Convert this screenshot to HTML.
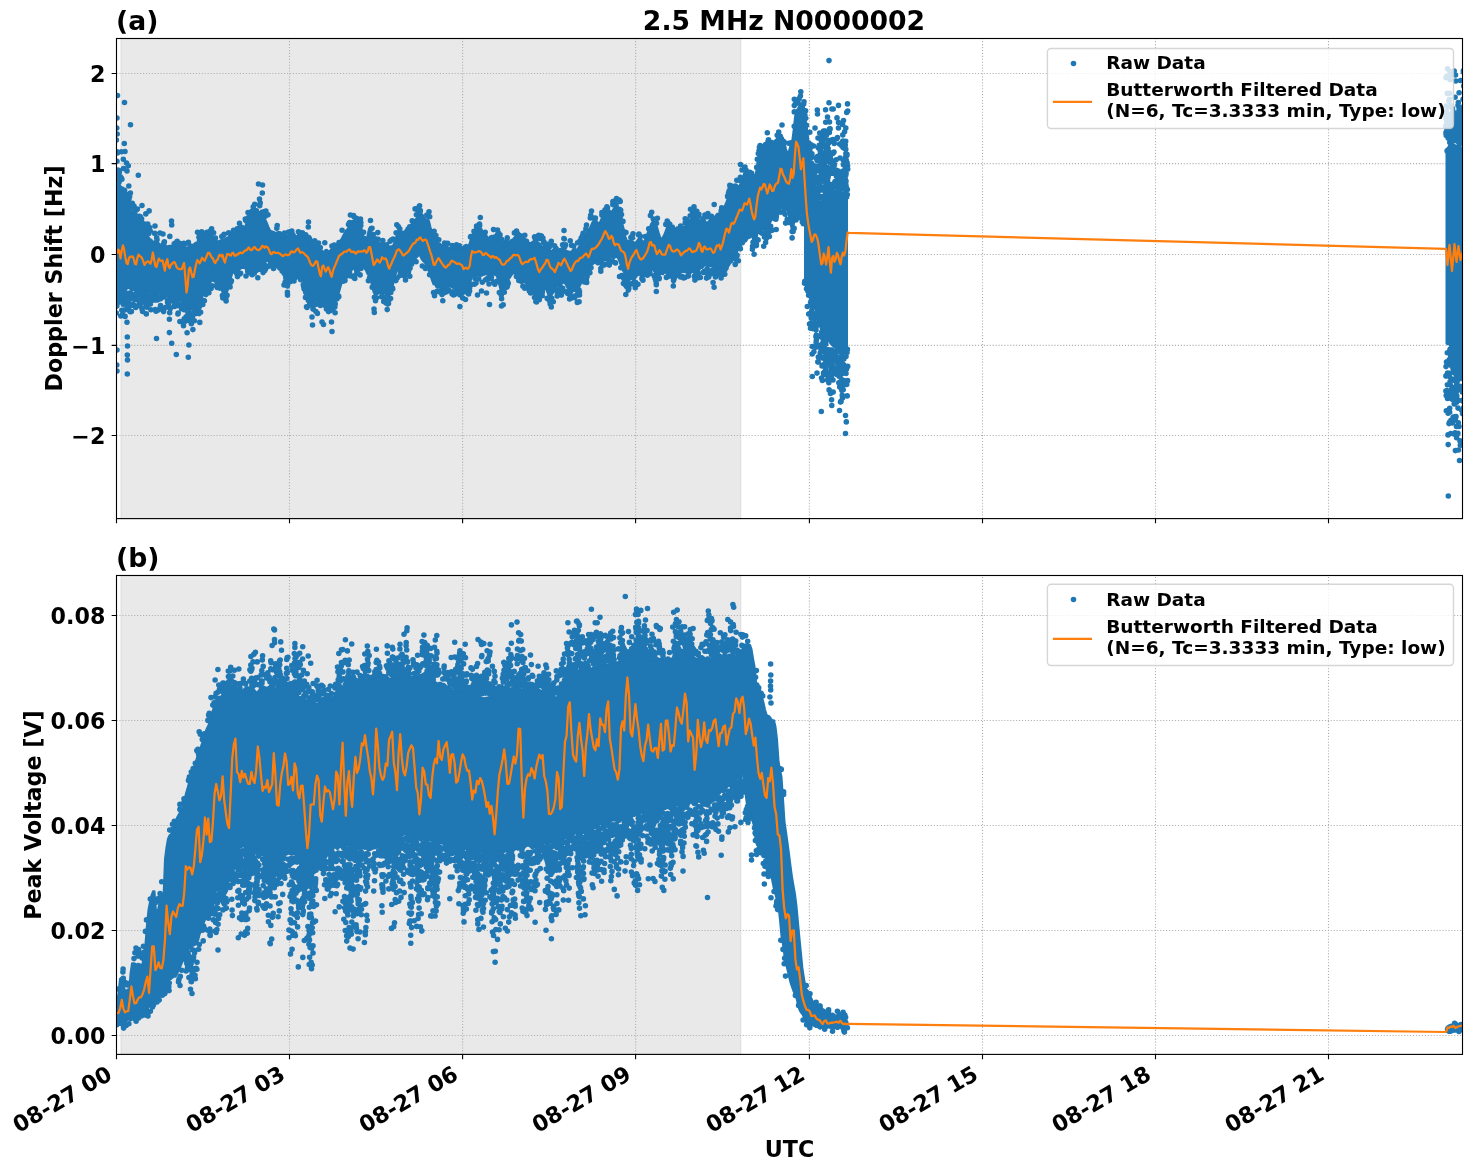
<!DOCTYPE html><html><head><meta charset="utf-8"><title>2.5 MHz N0000002</title><style>html,body{margin:0;padding:0;background:#fff}svg{display:block;will-change:transform}text{font-family:'DejaVu Sans','Liberation Sans',sans-serif;font-weight:bold;fill:#000}</style></head><body><svg width="1471" height="1172" viewBox="0 0 1471 1172"><rect width="1471" height="1172" fill="#fff"/><defs><clipPath id="c1"><rect x="116.5" y="38.5" width="1346" height="480.1"/></clipPath><clipPath id="c2"><rect x="116.5" y="575.5" width="1346" height="478.9"/></clipPath></defs><rect x="121" y="38.5" width="619.7" height="480.1" fill="#d3d3d3" fill-opacity=".5" stroke="#d3d3d3" stroke-opacity=".5" stroke-width="1.39"/><path d="M289.5 518.5V38.5M462.6 518.5V38.5M635.6 518.5V38.5M809.4 518.5V38.5M982.5 518.5V38.5M1155.5 518.5V38.5M1328.5 518.5V38.5M116.5 73.5H1462.5M116.5 163.6H1462.5M116.5 254.5H1462.5M116.5 345.4H1462.5M116.5 435.5H1462.5" fill="none" stroke="#b0b0b0" stroke-width="1.11" stroke-dasharray="1.11 1.83"/><g clip-path="url(#c1)"><polygon points="117,190.5 118.5,193.4 120,195.6 121.5,195.3 123,198.9 124.5,205.5 126,211.6 127.5,215.7 129,217.7 130.5,219.8 132,220.4 133.5,221.5 135,223.2 136.5,223.9 138,225.2 139.5,227.3 141,229.3 142.5,230.6 144,232 145.5,234.6 147,236.2 148.5,237.2 150,239 151.5,239.9 153,241.8 154.5,241.4 156,241 157.5,242 159,243.4 160.5,245.4 162,243.4 163.5,242.1 165,244.6 166.5,245.9 168,246.2 169.5,245.7 171,245.7 172.5,246.4 174,246.3 175.5,246.8 177,245.5 178.5,245.5 180,246.6 181.5,247.2 183,248 184.5,246.9 186,247.5 187.5,247.6 189,246.8 190.5,246.3 192,246.9 193.5,248.4 195,248.7 196.5,246.9 198,245.4 199.5,243.9 201,241.4 202.5,240.2 204,239.6 205.5,237.5 207,235.1 208.5,233.9 210,232.9 211.5,234.2 213,236.6 214.5,238.8 216,240.2 217.5,241.7 219,240.8 220.5,240.7 222,239.2 223.5,239.4 225,239 226.5,237.9 228,237.4 229.5,234.8 231,232.9 232.5,232.7 234,232.5 235.5,231.8 237,231.2 238.5,229.5 240,229.2 241.5,228.5 243,228.6 244.5,227.5 246,224.4 247.5,222.4 249,220.8 250.5,217.6 252,214.8 253.5,214.1 255,212.8 256.5,211.8 258,213.4 259.5,212.3 261,210.6 262.5,213.3 264,216.3 265.5,220.3 267,223.3 268.5,227.2 270,230.2 271.5,231.3 273,231.6 274.5,232.1 276,233.8 277.5,235.7 279,237.3 280.5,237.1 282,237.4 283.5,235.7 285,234 286.5,235.7 288,235.3 289.5,233.8 291,233.7 292.5,233.2 294,233.3 295.5,235.9 297,236.5 298.5,233.8 300,230.8 301.5,232.7 303,235.5 304.5,236.6 306,236.8 307.5,239.4 309,242.2 310.5,243.4 312,244.1 313.5,244.7 315,245.6 316.5,245.7 318,247.3 319.5,248.9 321,249.3 322.5,251.3 324,251.9 325.5,249.9 327,249.8 328.5,251.5 330,250.5 331.5,249.1 333,248.9 334.5,247.5 336,247.7 337.5,246.2 339,242.4 340.5,240.6 342,238 343.5,235 345,232.3 346.5,229.9 348,228.4 349.5,224.9 351,221.9 352.5,220.8 354,220.1 355.5,221.5 357,221.6 358.5,221.8 360,223.8 361.5,228.2 363,234.1 364.5,242.2 366,243.4 367.5,235.5 369,228.6 370.5,226.7 372,233.3 373.5,238 375,242.2 376.5,242 378,242.3 379.5,242.7 381,243.7 382.5,244.1 384,244 385.5,244.6 387,246 388.5,247.3 390,246.2 391.5,246.4 393,245.6 394.5,242.5 396,237.6 397.5,232.4 399,230.9 400.5,232.1 402,234.2 403.5,235.2 405,237.2 406.5,236.6 408,231.9 409.5,228.3 411,225.1 412.5,222.4 414,220.3 415.5,219.5 417,218.1 418.5,214.2 420,212.8 421.5,213.8 423,215.3 424.5,218.4 426,219.9 427.5,219.2 429,221.1 430.5,227.3 432,231.9 433.5,234.4 435,236.9 436.5,240.7 438,242.9 439.5,243.4 441,244.6 442.5,245.7 444,245.8 445.5,245.3 447,246.6 448.5,247.4 450,247.8 451.5,248.5 453,250.2 454.5,249.5 456,247.7 457.5,248.2 459,248.5 460.5,249.1 462,248.1 463.5,246.4 465,245.2 466.5,244.8 468,246 469.5,243.8 471,238.6 472.5,234.1 474,233 475.5,232.2 477,230.3 478.5,228.4 480,227.8 481.5,228.9 483,233 484.5,234 486,234.3 487.5,237.7 489,237.4 490.5,236.1 492,235.7 493.5,235.7 495,235.1 496.5,233.1 498,235 499.5,240.6 501,245.1 502.5,246.8 504,246.2 505.5,245.1 507,242.8 508.5,241.3 510,241 511.5,239.8 513,239.1 514.5,237.4 516,235.4 517.5,237 519,238 520.5,239.3 522,241.7 523.5,243.1 525,242.5 526.5,241.5 528,242.2 529.5,242.9 531,243.1 532.5,241.9 534,240.6 535.5,240.3 537,241.6 538.5,242.9 540,243.9 541.5,246.1 543,246.5 544.5,245 546,245.6 547.5,247.2 549,248.6 550.5,251 552,250.7 553.5,249.1 555,249.7 556.5,251.9 558,250.8 559.5,249 561,248.6 562.5,248.8 564,249.2 565.5,250.2 567,251 568.5,251.4 570,251.8 571.5,251.7 573,249.4 574.5,248.5 576,249.5 577.5,249.1 579,246.9 580.5,243.8 582,239.5 583.5,237.7 585,236.1 586.5,232.8 588,230.5 589.5,228.6 591,225.7 592.5,222.2 594,221.4 595.5,222.8 597,222.5 598.5,222.9 600,222.4 601.5,218.6 603,213.8 604.5,212.3 606,210.9 607.5,209 609,210 610.5,211.7 612,211.3 613.5,209 615,206.7 616.5,203 618,208.3 619.5,214.7 621,219.2 622.5,224.2 624,229.9 625.5,237 627,241.2 628.5,240.6 630,241.4 631.5,240.7 633,241.6 634.5,242.7 636,242.4 637.5,240.2 639,238 640.5,238.5 642,240.4 643.5,242.3 645,240.2 646.5,236.1 648,231.8 649.5,228.6 651,224 652.5,221.9 654,222 655.5,223.2 657,227.1 658.5,232.3 660,236.9 661.5,239.7 663,237 664.5,234.3 666,230 667.5,226.5 669,226.5 670.5,226.5 672,225.9 673.5,225.5 675,228.6 676.5,229.2 678,230.1 679.5,232.5 681,231.8 682.5,230.6 684,228.1 685.5,225.6 687,222.2 688.5,220.8 690,220.3 691.5,218.8 693,218.2 694.5,214.7 696,214.2 697.5,217 699,219.5 700.5,220.4 702,220.3 703.5,219.9 705,220.8 706.5,223 708,222 709.5,220.4 711,218 712.5,216.8 714,218 715.5,215.9 717,213.8 718.5,213.8 720,212.4 721.5,213 723,212.3 724.5,206.7 726,203.2 727.5,199.4 729,196.2 730.5,193.4 732,191.6 733.5,191.3 735,192.8 736.5,192.1 738,188.6 739.5,185.7 741,183.1 742.5,178.4 744,173.6 745.5,170.7 747,173.3 748.5,176.3 750,179.1 751.5,178.9 753,177.9 754.5,180.6 756,172.8 757.5,161.7 759,156.9 760.5,153.6 762,149.7 763.5,147.2 765,146.5 766.5,145.9 768,142.9 769.5,143.1 771,145.6 772.5,147.8 774,148 775.5,148.3 777,146.3 778.5,141.7 780,138.2 781.5,136.8 783,137.6 784.5,142.3 786,149 787.5,153.4 789,151.1 790.5,145.3 792,142.3 793.5,131.5 795,116.9 796.5,110.4 798,108.5 799.5,105.8 801,103.7 802.5,105 804,106.3 804,221.1 802.5,215.5 801,209.7 799.5,208 798,209.1 796.5,210.3 795,217.3 793.5,226 792,230.6 790.5,223.8 789,216.2 787.5,210.2 786,206.3 784.5,202.9 783,201.2 781.5,202.6 780,205.9 778.5,207.7 777,210 775.5,213.2 774,215.7 772.5,218.8 771,220.8 769.5,224.6 768,228.4 766.5,228.4 765,229.7 763.5,229.7 762,229.7 760.5,231.4 759,232.7 757.5,233.6 756,241.5 754.5,247.1 753,239.5 751.5,234.4 750,230.1 748.5,230.5 747,233.5 745.5,234.8 744,234.9 742.5,238 741,240.1 739.5,243.9 738,249 736.5,254.2 735,257.3 733.5,256 732,254.7 730.5,256.2 729,256.8 727.5,257.5 726,262.5 724.5,265.2 723,267.3 721.5,269.6 720,269.4 718.5,269.7 717,271.6 715.5,270.1 714,268.1 712.5,266.7 711,266.2 709.5,265.9 708,266.9 706.5,265.9 705,264.5 703.5,266.8 702,267.9 700.5,267.9 699,270.4 697.5,272.1 696,273 694.5,273.6 693,271.9 691.5,272.1 690,274 688.5,273.6 687,273 685.5,272.4 684,271.9 682.5,271.7 681,272.1 679.5,274.6 678,276.2 676.5,277.4 675,281.1 673.5,283.3 672,279.2 670.5,277 669,276.9 667.5,274.8 666,272.8 664.5,272.3 663,274.4 661.5,273.9 660,273.8 658.5,274.7 657,274.4 655.5,273.5 654,271.1 652.5,269.4 651,268.9 649.5,270.9 648,273.1 646.5,273.1 645,273.7 643.5,277.5 642,278.3 640.5,275.8 639,274.2 637.5,275.5 636,276.9 634.5,280 633,280.4 631.5,278.5 630,279.8 628.5,280.6 627,280.8 625.5,276.4 624,272.6 622.5,269.6 621,265.8 619.5,261.6 618,258.2 616.5,256.6 615,257.5 613.5,258.6 612,257.1 610.5,257.8 609,260 607.5,260.7 606,260 604.5,260.2 603,260.9 601.5,259.8 600,260.1 598.5,261.1 597,262.5 595.5,262.7 594,263 592.5,264.5 591,265 589.5,267.3 588,269.9 586.5,272.3 585,274.8 583.5,276.4 582,279.5 580.5,284.6 579,287.2 577.5,289.9 576,291.2 574.5,290.8 573,291.3 571.5,292.8 570,292.3 568.5,290 567,287 565.5,284.1 564,282.1 562.5,283.3 561,284.5 559.5,284.6 558,286.2 556.5,286.5 555,288.6 553.5,292.2 552,294.3 550.5,298.9 549,297.4 547.5,292.7 546,288.9 544.5,289 543,289.7 541.5,289.8 540,291.2 538.5,289.8 537,289.5 535.5,290.2 534,288.3 532.5,287.1 531,286.6 529.5,286.2 528,285.9 526.5,284.3 525,282.4 523.5,282.2 522,280.9 520.5,278.5 519,276.4 517.5,274.4 516,274.2 514.5,273.5 513,273.2 511.5,275.2 510,277.5 508.5,279.3 507,282.4 505.5,286.3 504,289.6 502.5,292.2 501,291.9 499.5,285.8 498,278.7 496.5,275.7 495,274.8 493.5,274.5 492,274.6 490.5,276.5 489,276.4 487.5,274.3 486,274 484.5,274.7 483,275.1 481.5,275.8 480,276 478.5,274.7 477,275.5 475.5,276.3 474,275 472.5,275.6 471,279.8 469.5,284.2 468,288.8 466.5,289.4 465,288.5 463.5,289.5 462,290.9 460.5,290.8 459,291.7 457.5,291.1 456,289.6 454.5,288.7 453,287.9 451.5,287.3 450,285.7 448.5,286.8 447,288.8 445.5,288.1 444,287.9 442.5,289.1 441,289.3 439.5,287.3 438,287.7 436.5,287.2 435,284.5 433.5,284.3 432,280.4 430.5,275.6 429,272 427.5,267.9 426,264.5 424.5,262.2 423,261 421.5,258.9 420,255.6 418.5,255.6 417,257.1 415.5,256.5 414,256.7 412.5,259.1 411,262.1 409.5,265.6 408,270.9 406.5,274 405,274.6 403.5,273.9 402,272.3 400.5,269.6 399,268.4 397.5,269.3 396,273 394.5,279.4 393,284.8 391.5,288.8 390,293.9 388.5,298.5 387,296.3 385.5,293.6 384,292.6 382.5,294.2 381,294.1 379.5,293 378,293.8 376.5,294.2 375,295.2 373.5,291.9 372,285.8 370.5,278.8 369,275.6 367.5,274.1 366,270.6 364.5,268.3 363,266.7 361.5,264.1 360,266.3 358.5,267.9 357,267.1 355.5,268.6 354,268.7 352.5,269.1 351,271.6 349.5,270.9 348,271.1 346.5,271.4 345,272 343.5,277 342,281.5 340.5,286.9 339,292.2 337.5,297.2 336,299.7 334.5,300.1 333,303.3 331.5,305.4 330,304.2 328.5,304.5 327,302.4 325.5,303.3 324,304.6 322.5,300.8 321,300.1 319.5,301.7 318,301.3 316.5,300.6 315,301.1 313.5,302.1 312,301.9 310.5,297.9 309,294.7 307.5,292.6 306,288.4 304.5,284.1 303,280 301.5,276 300,273 298.5,273.5 297,274.8 295.5,276.4 294,276.5 292.5,277.8 291,278.9 289.5,277.5 288,277 286.5,276.3 285,272.2 283.5,270.6 282,269.3 280.5,267.5 279,265.3 277.5,264.8 276,263.3 274.5,261.6 273,261.9 271.5,262.2 270,261.8 268.5,260.8 267,261.3 265.5,261.8 264,262.8 262.5,264.2 261,265.7 259.5,267 258,269.6 256.5,270.4 255,269.1 253.5,269.3 252,269.4 250.5,269.2 249,269.9 247.5,270.4 246,269.2 244.5,267.9 243,267.7 241.5,268.1 240,269 238.5,270.8 237,270.9 235.5,272.2 234,272.7 232.5,272.2 231,277.8 229.5,283.2 228,289.2 226.5,294.2 225,296.8 223.5,294.2 222,291 220.5,287.7 219,283.7 217.5,281.6 216,282.1 214.5,281.7 213,280.5 211.5,281 210,283.1 208.5,283 207,284 205.5,290.4 204,293.1 202.5,296.3 201,300.3 199.5,302.8 198,306.9 196.5,309.1 195,309.2 193.5,308.9 192,308.7 190.5,309.7 189,310.8 187.5,309.7 186,308 184.5,305.2 183,302.9 181.5,300.9 180,300 178.5,300 177,300 175.5,300 174,299.1 172.5,298.9 171,298 169.5,297.5 168,296.9 166.5,296.4 165,298.2 163.5,298.7 162,295.9 160.5,293.8 159,293.8 157.5,294.5 156,294.3 154.5,295.1 153,295.5 151.5,293 150,292.3 148.5,292 147,292.5 145.5,292.8 144,291.3 142.5,292.2 141,292.5 139.5,292.4 138,293.6 136.5,292.5 135,290.8 133.5,290 132,290 130.5,289.4 129,287.6 127.5,288.5 126,289.2 124.5,289.4 123,291.3 121.5,292.4 120,292.4 118.5,290.6 117,290.9" fill="#1f77b4" stroke="#1f77b4" stroke-width="2" stroke-linejoin="round"/><path d="M117 161.2h.01M117.4 173.7h.01M117.2 151.7h.01M116.4 140.1h.01M117.4 184.3h.01M116.3 313.1h.01M116.9 306.1h.01M116.7 297.1h.01M117.5 299.2h.01M116.7 292.2h.01M117.5 302.7h.01M117.5 296.8h.01M116.7 296.2h.01M118.5 170.2h.01M117.9 175.3h.01M118.9 188.5h.01M118.6 186.2h.01M118 173.7h.01M118.9 178h.01M118.1 190.7h.01M119.1 182h.01M118.1 302.5h.01M118.3 293.1h.01M118.5 292.7h.01M118.7 297.7h.01M120.5 192.1h.01M119.6 192h.01M119.6 192h.01M119.3 176.7h.01M120.1 178.3h.01M120.4 176.8h.01M119.6 188.4h.01M119.4 171.9h.01M119.6 192.3h.01M120.7 190.6h.01M120.1 179h.01M120.4 294.4h.01M120.4 301h.01M120.6 293h.01M120.6 298.9h.01M121.5 189.3h.01M121.9 179.2h.01M120.8 193.3h.01M121.5 151.8h.01M121.1 189.1h.01M121.9 189.1h.01M122 193.6h.01M121.3 178h.01M120.8 316h.01M121.8 310.2h.01M123.3 159.2h.01M122.4 314.9h.01M123.4 296.6h.01M123.2 297.3h.01M123.2 304.3h.01M123.9 198.8h.01M124.3 202.3h.01M124.1 197.2h.01M124.6 190.2h.01M124.2 296.7h.01M125.1 316.4h.01M124.5 294.8h.01M125 292.4h.01M123.8 299.7h.01M124.8 309.9h.01M126.2 197.7h.01M125.3 197h.01M126.5 207.3h.01M126.5 203.9h.01M126.2 295.1h.01M125.3 294.2h.01M125.5 293h.01M125.9 303.5h.01M125.9 293.2h.01M127.1 197.4h.01M127.2 194.5h.01M127.1 202.9h.01M127.3 195h.01M128.1 208.6h.01M127.9 202.1h.01M126.9 309h.01M127 322.2h.01M127.6 296.7h.01M127 303.5h.01M127.3 306.8h.01M127.3 297.9h.01M126.9 293.6h.01M129.1 198.2h.01M128.8 186h.01M129.6 196.6h.01M129.4 210.9h.01M128.5 213.6h.01M129.1 207.4h.01M128.6 201.1h.01M128.7 211.9h.01M128.3 165.7h.01M129.2 205.6h.01M128.7 215.4h.01M129 293.9h.01M128.3 294h.01M129.7 305.9h.01M128.6 293.6h.01M129.3 303.7h.01M131.2 216h.01M130.8 217.1h.01M130.4 193h.01M130.1 212.4h.01M130.7 311.6h.01M131.2 294.4h.01M130.5 293h.01M130 293.1h.01M129.8 294.3h.01M130 298.7h.01M129.9 311.6h.01M131 297.8h.01M132.4 206.5h.01M132.3 203.2h.01M131.4 217.6h.01M131.4 296.9h.01M131.8 295.7h.01M131.4 311.6h.01M133.8 206.8h.01M134 206.1h.01M134.2 217.8h.01M134.2 207.9h.01M132.8 294.6h.01M132.9 304.1h.01M133.1 305.3h.01M135.5 209.2h.01M134.4 212.9h.01M134.5 213.5h.01M135.6 221h.01M134.9 212h.01M135.7 307.5h.01M135.5 297.5h.01M134.7 299.6h.01M136.8 222.5h.01M136.8 218.4h.01M137 209.4h.01M136.3 293.7h.01M136 297.5h.01M135.8 306.1h.01M136.9 295.7h.01M136.1 296.2h.01M138.7 216.2h.01M137.4 209h.01M137.8 221.7h.01M137.7 293.2h.01M138.6 300.5h.01M140.2 220.7h.01M139.9 221.9h.01M140.2 216.5h.01M139.9 294.1h.01M140 300.5h.01M139.1 301.2h.01M140.2 306h.01M139.1 305.1h.01M141.4 221.2h.01M140.8 221.6h.01M140.6 226.4h.01M141.6 218.9h.01M141.6 225.5h.01M140.6 294.2h.01M141 294h.01M141.4 296.1h.01M142 205.5h.01M142.6 311.5h.01M142 308.9h.01M142.8 296.7h.01M143 301.9h.01M143 296h.01M144 223.9h.01M144.4 229.8h.01M143.5 227.6h.01M144.3 228h.01M144.6 229.4h.01M143.7 224.5h.01M145.3 227.2h.01M145.8 213.9h.01M144.8 231.8h.01M145.5 297.5h.01M145.4 294.7h.01M144.8 296.3h.01M145.2 294.7h.01M146 305.6h.01M145.7 296.9h.01M147.7 224h.01M146.3 231h.01M147.3 300.7h.01M147.3 297.4h.01M147.3 296.7h.01M146.9 307.3h.01M147.2 302.3h.01M146.3 313.9h.01M147.8 224.2h.01M149.1 210.9h.01M148.8 233.4h.01M148 294.9h.01M148.1 302.6h.01M148.1 294.9h.01M148.6 299.1h.01M149.6 230.5h.01M149.6 229.3h.01M149.6 227.5h.01M149.6 229.4h.01M150.2 231.1h.01M150.4 304h.01M150.2 298.9h.01M152 300.4h.01M152.1 298.2h.01M150.9 309.7h.01M151.7 298.4h.01M151.4 296.8h.01M153.3 296.7h.01M154.7 233.4h.01M155.2 309.6h.01M155.2 300h.01M153.8 297.3h.01M156.7 237.7h.01M155.6 297.1h.01M156 311.2h.01M157 239.8h.01M158.2 310.1h.01M158.2 297.5h.01M157.1 297.6h.01M157.1 296.8h.01M157.4 300h.01M159.7 299h.01M159.4 297.2h.01M159.8 297.9h.01M160.2 307.4h.01M160.6 298.7h.01M160.6 305.6h.01M160.4 297.8h.01M164.1 242.3h.01M163.6 311.6h.01M164.2 308.8h.01M163.3 310.5h.01M164.4 241.9h.01M165.9 307.2h.01M167.6 300.1h.01M167.5 300.7h.01M167.6 302.4h.01M168.5 303.1h.01M167.9 301.1h.01M168.5 305h.01M169.8 236.4h.01M169.7 312.7h.01M169.9 300.5h.01M170.2 308.8h.01M169.5 307.3h.01M169.4 332.6h.01M169.4 319.3h.01M171.7 343.3h.01M170.3 300.4h.01M171.6 299.6h.01M172.8 301h.01M173 300.1h.01M174.2 243.9h.01M174.6 306.4h.01M174.5 304.8h.01M175.8 242.7h.01M176.1 302.6h.01M176 301.6h.01M177.2 241.4h.01M177.5 243.9h.01M176.6 302.6h.01M178.7 244.8h.01M178.4 242.8h.01M178.6 303.6h.01M177.9 313.9h.01M178.3 305.8h.01M178.2 313.1h.01M179.9 321.5h.01M181.3 243.9h.01M181.7 308.8h.01M181.5 304.6h.01M181.1 305h.01M182.2 305.8h.01M183 244.9h.01M183.1 322.7h.01M183.6 307.9h.01M183.5 325.7h.01M182.9 308.4h.01M183.8 243.4h.01M184.1 309.7h.01M184.2 318.8h.01M185.3 243.7h.01M186 320.3h.01M186.1 316.9h.01M185.3 321.3h.01M187.8 319.7h.01M188 313.1h.01M187.1 332.7h.01M188.4 242.2h.01M189.7 312.5h.01M188.9 320.2h.01M189.4 320.8h.01M189.5 314.3h.01M188.9 345h.01M190.4 246.1h.01M191 318.6h.01M191.8 322h.01M191.3 313.7h.01M192.4 317.6h.01M191.5 318.5h.01M191.3 323.7h.01M192.2 319.7h.01M191.9 319.3h.01M193.5 246.2h.01M194.2 312.2h.01M192.9 329.6h.01M195.4 245.3h.01M194.8 312.4h.01M195.6 313.8h.01M194.4 320.8h.01M197 244.3h.01M196.5 244.4h.01M197.5 232.3h.01M198.6 308.7h.01M197.6 307h.01M198.9 237.2h.01M199.5 304.3h.01M199.4 306.5h.01M199.1 313.6h.01M199.8 322.4h.01M200.9 233.7h.01M201.7 231.9h.01M200.6 312.3h.01M200.8 303.7h.01M203.1 237h.01M203.2 237.8h.01M202.3 235.3h.01M202.8 304.4h.01M202 300h.01M204 233.8h.01M204.4 300.8h.01M205.9 294.6h.01M205.8 293.7h.01M206.9 232.4h.01M206.7 233.7h.01M207.7 289.9h.01M206.6 291.6h.01M208.8 232h.01M208.9 292.8h.01M208.5 285.3h.01M210.5 230.8h.01M211.6 228.8h.01M211.1 288.5h.01M212 285.8h.01M213.6 232.8h.01M215.4 238h.01M216.3 285.6h.01M217.2 287.4h.01M219.6 288.1h.01M221.8 236.6h.01M222.4 295.5h.01M224.1 234.4h.01M223 235.7h.01M222.8 295.2h.01M222.8 298h.01M225.6 297.8h.01M226.1 300.9h.01M227.1 295.3h.01M226.3 296.7h.01M228.6 232.8h.01M230.1 287h.01M231.4 280.9h.01M230.6 282.5h.01M230.6 282.4h.01M233.5 230.2h.01M237.2 228.7h.01M236.7 273.6h.01M237.5 276.5h.01M237.5 276.6h.01M238.1 228.8h.01M240.4 227.4h.01M240.2 228.6h.01M240.7 228.8h.01M239.5 223.4h.01M239.9 274h.01M240.6 273.2h.01M241.6 227.2h.01M246.3 221.1h.01M245.3 219.1h.01M245.5 220h.01M248.2 219.6h.01M248 212.5h.01M247.7 271.2h.01M248.5 217.6h.01M249.7 272.7h.01M251 214.3h.01M250.1 213h.01M249.8 215.2h.01M252 211.2h.01M252.2 274.8h.01M251.9 272.1h.01M251.3 273.5h.01M253.2 206.8h.01M253.2 211.4h.01M253.7 208.8h.01M254.7 204.3h.01M254.4 273.1h.01M254.5 271.3h.01M256.4 210.7h.01M256.5 212.1h.01M256.3 270.6h.01M257.8 277.8h.01M260.2 202.9h.01M259.7 205.8h.01M260 269.2h.01M263.1 272.6h.01M263.5 214h.01M263.6 212.2h.01M263.7 211.8h.01M264.3 267.3h.01M263.4 266.3h.01M264.6 270.7h.01M265.3 215.7h.01M265.3 216.3h.01M265.9 211h.01M265.7 268.4h.01M264.8 265.3h.01M265.9 266.8h.01M265.3 269.5h.01M265.5 266.8h.01M268 214.8h.01M268.8 266.2h.01M270.3 265.1h.01M269.6 265.5h.01M270.5 263.7h.01M273.5 268.4h.01M275.1 264.6h.01M274.5 265.6h.01M274.8 265.6h.01M274.9 266.3h.01M278.1 233.7h.01M277.2 225.5h.01M276.8 228.3h.01M279.6 233.8h.01M280.3 234.6h.01M279.8 268.1h.01M282.5 269.9h.01M282.1 270.9h.01M283.6 272.4h.01M284.5 233.1h.01M285.1 282.3h.01M285 274.4h.01M286.7 277.9h.01M285.8 278h.01M288.6 232.1h.01M287.4 285.9h.01M287.6 284.7h.01M287.5 278.2h.01M287.4 292.3h.01M287.5 295.1h.01M290.7 231.5h.01M290.5 281.5h.01M290.3 280.9h.01M291.8 231.1h.01M291.8 279.6h.01M295.2 277.8h.01M298.4 231.8h.01M298.4 276.6h.01M300.7 279.7h.01M302.4 232.7h.01M303.7 286.4h.01M303.7 284.9h.01M303.3 284.9h.01M303.8 234.3h.01M304.4 287.8h.01M304 288.7h.01M304.7 289.4h.01M305.7 234.9h.01M305.7 292.2h.01M306.5 306.8h.01M305.5 297.4h.01M307 307.4h.01M307.8 294.9h.01M308 297.7h.01M307.2 296.1h.01M309.5 238.8h.01M308.8 237.5h.01M309.3 298.5h.01M309.7 303.4h.01M308.4 300.6h.01M309.5 301.1h.01M309.2 298.6h.01M309.7 305.1h.01M311.4 243h.01M312.1 304.5h.01M313 309.1h.01M313.5 303.5h.01M313.3 303.5h.01M314.7 240.8h.01M315.2 304.6h.01M317 243.6h.01M315.9 311.5h.01M318.5 243h.01M318.4 303.9h.01M318.1 303.7h.01M317.4 313.4h.01M320 304.4h.01M320.3 247.5h.01M321.2 304.8h.01M320.4 305.5h.01M322 303.5h.01M324 305h.01M324.8 242.7h.01M326.4 309.1h.01M326.7 306.7h.01M328.5 311.6h.01M330 310.8h.01M329.6 306.8h.01M331.9 246h.01M331.7 309.6h.01M332.9 309.4h.01M334.7 246.5h.01M334.2 245.1h.01M334.8 306.9h.01M335.2 303.8h.01M334.8 303.8h.01M335.1 312.7h.01M335.2 304.3h.01M337.1 298.8h.01M339 242.6h.01M338.6 296.1h.01M338.8 296.7h.01M342.1 230.3h.01M343 281.3h.01M345 280.6h.01M344.9 278.1h.01M346.3 275.2h.01M347 274.5h.01M348.5 224.5h.01M349.7 222.5h.01M349.3 223h.01M349.6 273.4h.01M348.8 275.5h.01M350.4 215h.01M350.6 276h.01M354.1 216.7h.01M354.3 275.9h.01M354.1 277.8h.01M354.8 278.5h.01M356.4 218.4h.01M356.7 273.5h.01M356.6 270.3h.01M357.9 269.7h.01M360.1 221.4h.01M360 268h.01M360.1 274.9h.01M360.8 225.5h.01M360.8 267.6h.01M361 268.5h.01M363.6 232.3h.01M364.4 238.6h.01M368.4 280.7h.01M369.6 277.8h.01M372 228.3h.01M372.2 287.2h.01M373.3 234.6h.01M375.6 238.7h.01M375.6 239.6h.01M374.4 297.3h.01M375.5 300.7h.01M376.6 297.7h.01M378.1 239.3h.01M377.8 232.6h.01M381.6 296.8h.01M382.8 240.6h.01M382.3 296.2h.01M383.7 301.5h.01M383.7 297.2h.01M385.9 297h.01M386 302.9h.01M385.1 297.5h.01M386.6 244.9h.01M387.2 309.6h.01M387.7 304.1h.01M388.2 300h.01M388.9 300.2h.01M390.1 241.3h.01M390.6 298.5h.01M391.6 239.9h.01M390.8 292.5h.01M393.1 239h.01M392.5 288h.01M392.7 289h.01M394.7 239.8h.01M396.1 232.7h.01M395.9 280.6h.01M396.8 224.8h.01M397.1 278.1h.01M399.8 228.8h.01M399.9 275.6h.01M400.3 271.5h.01M402.4 275h.01M403.1 233.2h.01M405.3 235h.01M404.5 276.1h.01M406.9 231.2h.01M408.1 229.1h.01M408.4 272.3h.01M408.1 270.8h.01M409.7 226.8h.01M408.9 267.8h.01M408.9 270.1h.01M409.8 276.3h.01M409.4 267.4h.01M410.1 268h.01M411.5 264.3h.01M412.2 220.9h.01M412.6 260.5h.01M413.6 261.4h.01M413.6 260.9h.01M413.6 258.9h.01M414.3 259.5h.01M413.3 260.7h.01M415.1 208.9h.01M416.1 261.7h.01M416.4 214.7h.01M418 208.1h.01M418.6 211.6h.01M417.8 210.3h.01M420.3 210.9h.01M419.6 205.7h.01M422.3 266h.01M426.2 267.8h.01M425.4 268.4h.01M426.3 267.8h.01M427.1 215.5h.01M426.8 215.1h.01M427.4 216h.01M429 211.7h.01M429.7 216.8h.01M429.6 274.7h.01M434.1 231.4h.01M433.5 292.5h.01M434.5 295.7h.01M435.9 235.6h.01M437.1 291.4h.01M437.4 291.2h.01M438.8 239.8h.01M439.8 291.9h.01M440.5 291.8h.01M441 291.2h.01M442.8 300.8h.01M442.8 293.6h.01M442 294.6h.01M444.6 243h.01M445.5 244.5h.01M444.9 292.5h.01M444.9 290.8h.01M445.5 292.2h.01M447.7 243.4h.01M447.9 291.1h.01M448.6 290.5h.01M448.4 289.8h.01M452.1 294.1h.01M452.7 246.4h.01M452.3 245.5h.01M453.5 295h.01M452.4 292.4h.01M452.9 291.7h.01M454.3 246.3h.01M454.2 294.7h.01M456.5 244.7h.01M455.6 292.9h.01M457.9 293.5h.01M459.5 246.5h.01M459.4 245.9h.01M459.9 306.6h.01M460.3 294.2h.01M460.1 294.9h.01M462.7 298h.01M462 292.9h.01M462.8 292.2h.01M465.5 299.5h.01M466.4 291.9h.01M466.2 290.9h.01M468.6 293.9h.01M469.7 287.4h.01M469.6 291.1h.01M468.9 288.7h.01M470.5 237h.01M470.7 236.6h.01M470.6 237h.01M471.5 284.4h.01M474 231.3h.01M474.2 284.1h.01M475.1 278.4h.01M474.8 284.1h.01M476.6 227.3h.01M476.6 226h.01M478.7 278.8h.01M480.3 217.5h.01M479.7 225.6h.01M482.3 282.2h.01M485.2 232.3h.01M485.6 279.7h.01M487.4 279.2h.01M487.1 279.1h.01M487.8 278h.01M491.1 278.5h.01M491.4 277.1h.01M493.5 229.6h.01M493.8 282.2h.01M494.8 284.3h.01M496.9 281.2h.01M498.3 232.7h.01M498.2 281.1h.01M498.3 281.5h.01M498.4 280.5h.01M500 234.8h.01M498.8 239.4h.01M499.3 292.5h.01M501.6 239.2h.01M501 294.6h.01M501.6 298.7h.01M501.3 295.1h.01M502.9 244.1h.01M503.2 304.7h.01M504.3 292.2h.01M506 242.1h.01M505.1 242.1h.01M507.3 237.9h.01M507.2 285.6h.01M507.4 286.3h.01M506.7 287.2h.01M507.8 282.2h.01M508.2 283.4h.01M514.4 232.9h.01M516.4 276.6h.01M516.8 233.7h.01M517.7 233.8h.01M518.8 280.5h.01M520.4 235.7h.01M520 237.5h.01M521.2 281.2h.01M522.1 236.5h.01M522.9 241.1h.01M522.9 286.3h.01M524.8 235.3h.01M524.8 240.8h.01M524.7 288.3h.01M526.5 241.2h.01M527.2 286.9h.01M529.3 291.1h.01M528.9 288.2h.01M530.6 292.9h.01M531.5 289.2h.01M534.7 236.7h.01M533.7 292.8h.01M534.6 293.3h.01M535 237.9h.01M535.8 301.5h.01M536.3 239.6h.01M537.6 238.2h.01M536.6 292.1h.01M536.9 292h.01M536.6 295.4h.01M536.5 302h.01M538.7 235.3h.01M538.1 238.2h.01M538.7 294.9h.01M540.4 238h.01M539.6 238.5h.01M539.3 299.8h.01M541.3 236h.01M541.4 236h.01M542.2 295.8h.01M542.1 293.1h.01M541.7 293.9h.01M543.4 242.6h.01M542.9 238h.01M542.4 291.4h.01M543.9 241.8h.01M546.4 244.1h.01M547.5 246.7h.01M547.2 298.4h.01M549.3 247.1h.01M549.3 300.5h.01M550.2 243.6h.01M550 245.6h.01M550.2 304h.01M550.4 303.5h.01M551.3 241.2h.01M551.7 298.2h.01M553.3 301.8h.01M554.5 245.8h.01M556.1 248.6h.01M556.7 289.8h.01M556.7 291.3h.01M556.3 290.5h.01M557.2 295.9h.01M559 290h.01M558.9 290.5h.01M561 291.9h.01M561.4 295.1h.01M560.9 287.3h.01M563.2 244.8h.01M562.6 244.7h.01M562.7 288.2h.01M563.5 246h.01M564.7 246h.01M563.9 238.6h.01M565.6 244.9h.01M565.1 245.4h.01M564.8 246.7h.01M567.4 292.9h.01M566.4 291.9h.01M567.7 293.6h.01M569.2 292.2h.01M570.2 240.8h.01M569.6 298.9h.01M571.6 245.4h.01M570.8 295.5h.01M573.7 246.1h.01M574.6 297.4h.01M575.4 295.9h.01M577.6 242.7h.01M577.7 293.9h.01M577.3 302.4h.01M579.5 294.9h.01M578.5 290.7h.01M579 290h.01M579.1 301.7h.01M579.5 291.7h.01M578.8 289.9h.01M579.9 241.1h.01M581.2 238h.01M582.5 235.7h.01M583.1 233.3h.01M583.2 235.1h.01M583.4 279.9h.01M584.4 282h.01M584.5 279.6h.01M586.5 225.1h.01M585.9 228.9h.01M586.3 279.5h.01M586.7 282.4h.01M587.1 276.5h.01M587.7 270.7h.01M589.9 272.8h.01M590.7 215.4h.01M590.3 218h.01M591 267.7h.01M593.9 218.3h.01M595.4 218.1h.01M595.1 221.8h.01M598 262.7h.01M601.9 214.9h.01M602 213.6h.01M601.9 212.5h.01M600.8 268.6h.01M601.6 263.2h.01M600.8 271.2h.01M602.7 212.8h.01M602.3 264.8h.01M605.1 209.7h.01M604.3 264.9h.01M604.8 264.3h.01M607.5 207.8h.01M606.9 206.7h.01M607.4 208.3h.01M609.3 265.1h.01M608.6 263.7h.01M608.9 262.2h.01M610 263.1h.01M612.2 261h.01M612.8 204.6h.01M612.9 202h.01M612.9 201.6h.01M614.3 201.3h.01M615.5 262.9h.01M619.1 209.3h.01M620.2 201.4h.01M619.9 209.5h.01M619.2 200h.01M620.4 216.3h.01M620.7 210.2h.01M620.6 214.7h.01M621.5 214.6h.01M620.8 267.8h.01M621.6 275.6h.01M622.7 221.2h.01M623 221.4h.01M622.9 277h.01M623.4 283.6h.01M624.5 276.4h.01M623.8 278.4h.01M626 232.5h.01M624.9 232.1h.01M625.4 279.5h.01M625.8 294.5h.01M626.5 286.6h.01M626.8 283.7h.01M629 285h.01M628.8 288.5h.01M628.9 283.7h.01M628.3 290.1h.01M630.9 237.6h.01M631.8 236.5h.01M632.1 283.5h.01M631.3 284h.01M633 233.8h.01M632.4 237.7h.01M635.2 283.2h.01M635.3 287.7h.01M635.7 282.5h.01M635.7 282.8h.01M638 284.2h.01M638.9 234h.01M638.7 234.9h.01M640.4 236.4h.01M642.3 279.2h.01M641.9 278.6h.01M643 280h.01M642.9 280.3h.01M645.3 236.6h.01M648.7 228.8h.01M647.3 275.2h.01M650 273.6h.01M649.1 272.6h.01M649.7 271.4h.01M651.7 212.2h.01M650.4 215.5h.01M653.3 219.1h.01M654.2 275.9h.01M655.2 278.8h.01M655.9 280.9h.01M656.5 223.3h.01M657.4 218.2h.01M656.3 284.8h.01M656.3 291.5h.01M656.3 283.7h.01M659.2 278h.01M658.6 277.3h.01M659.2 278.7h.01M665.8 224.4h.01M666.4 277.4h.01M668 222.6h.01M667.2 221h.01M668 276.5h.01M669.8 224.3h.01M678 228.9h.01M681.4 230h.01M680.6 226h.01M680.5 277h.01M681.7 276.3h.01M682.2 228h.01M683.7 277.9h.01M685.2 218.8h.01M685.2 222.7h.01M685 277.4h.01M686.9 220h.01M688.3 276.1h.01M690.2 215.7h.01M690.5 209.3h.01M692.1 216.6h.01M692.4 214.8h.01M693.6 215h.01M692.5 212.6h.01M694 206.9h.01M693.9 213.5h.01M694.3 276.4h.01M694.9 280.1h.01M695.9 212.9h.01M695.8 276.4h.01M696.8 211.3h.01M697.1 273.2h.01M698.9 214.3h.01M698.7 215.9h.01M698.3 273.4h.01M698.3 277.8h.01M700.3 277.5h.01M703 218.7h.01M703.3 272.4h.01M704.2 271.4h.01M705.5 214.7h.01M705.3 216.8h.01M704.9 215.1h.01M706.5 278.1h.01M706.5 271.7h.01M706.9 273.3h.01M707.2 269h.01M707.9 213.6h.01M707.6 216.7h.01M708.7 276.9h.01M708.7 275h.01M708.3 274.6h.01M707.3 271.2h.01M709 271.1h.01M711.4 217.3h.01M711.5 216.4h.01M712 270.5h.01M711.9 270.5h.01M712.3 270.9h.01M713 272.3h.01M712 273.6h.01M713.1 282.6h.01M714.2 204.5h.01M714.1 287.2h.01M715.9 273.6h.01M717.6 274.1h.01M718.5 272.9h.01M719.1 273.3h.01M719.5 273.3h.01M721.2 210.9h.01M721.7 207.9h.01M721.1 277.9h.01M721.7 273.8h.01M722.4 272.4h.01M722.8 271.3h.01M722.5 270.8h.01M724.9 269.8h.01M724.8 274.2h.01M726.2 267.3h.01M726 268.1h.01M728.2 196.1h.01M727.7 196.7h.01M727.6 196.1h.01M727 261.7h.01M727.4 264.6h.01M727.5 264.2h.01M729.1 191h.01M728.5 193h.01M729.5 259.8h.01M728.7 262.5h.01M730.1 187.1h.01M729.8 185.3h.01M729.9 190.8h.01M730.9 258.9h.01M730.3 261.1h.01M731.8 189.7h.01M732.2 188.1h.01M731.7 186.1h.01M731.4 258.2h.01M735.4 186h.01M735.2 264.4h.01M735.2 258.9h.01M735.2 258.8h.01M736 190.3h.01M736.8 180.2h.01M737.1 255.4h.01M736.6 256.3h.01M737.3 187.5h.01M738.4 260.8h.01M739.5 246.2h.01M740.4 180.7h.01M740.4 177.4h.01M740.4 248.7h.01M741.8 241.2h.01M742.3 241.3h.01M742.3 242.8h.01M744.7 240.1h.01M746.1 170.3h.01M745.7 238.4h.01M745.5 236.2h.01M746.3 172.3h.01M748.9 234.3h.01M748.3 233.9h.01M748.8 236.3h.01M750.1 175h.01M749.9 172.3h.01M749.5 232.2h.01M749.5 231.5h.01M751.3 175.9h.01M751.7 173.2h.01M752.2 234.7h.01M753.3 177.2h.01M752.5 175.9h.01M752.5 246.3h.01M752.9 247.1h.01M753 242.2h.01M752.4 249.3h.01M754.1 254.3h.01M756.7 167.4h.01M756.4 245.6h.01M756.4 244.3h.01M758 159.3h.01M757.9 159.3h.01M757.3 159.2h.01M758.1 239.9h.01M758.3 153.5h.01M759.4 147.3h.01M759.1 150.5h.01M759.3 152.3h.01M759.2 152h.01M760.1 145.5h.01M761.5 146.4h.01M761.6 233.1h.01M763.7 246.3h.01M763.3 233.8h.01M765.6 144.6h.01M764.3 237h.01M764.8 232.7h.01M765.6 242.6h.01M766.2 238.4h.01M768 141.2h.01M767.3 132.7h.01M768.5 139.8h.01M768 234.4h.01M767.3 231h.01M769.3 231.6h.01M769.3 229.1h.01M769.4 236.5h.01M769.4 228.1h.01M770.9 142.3h.01M771.7 143.8h.01M770.7 226.2h.01M772.3 230.2h.01M773.5 145.1h.01M774.3 142.8h.01M774.6 218.8h.01M774.8 145.6h.01M776.2 229.5h.01M775.9 219.3h.01M776.2 217.4h.01M777.2 135.3h.01M776.8 141.4h.01M776.9 143h.01M776.4 213.1h.01M776.4 215.5h.01M778.6 138.6h.01M778.7 132.1h.01M778.6 138.7h.01M778.4 210h.01M780.3 136.4h.01M780.7 212.3h.01M782 125h.01M781.6 206.8h.01M783.2 205.1h.01M783.6 206.6h.01M784 141.7h.01M784.7 209.5h.01M785.1 214.3h.01M785.6 223.1h.01M787.2 219.2h.01M788.7 143.2h.01M788.8 222.4h.01M788.4 220.1h.01M791 142.9h.01M792.1 231.6h.01M792.1 237.9h.01M794.2 126.2h.01M793.1 231.4h.01M794.1 228.4h.01M794.3 105.6h.01M794.3 111.9h.01M794.3 99.3h.01M795.2 104.2h.01M796.6 101.5h.01M797.2 102.1h.01M796 219.9h.01M798.2 103h.01M797.8 101.6h.01M798.5 217.4h.01M797.6 213.2h.01M799.2 98.5h.01M798.9 214.5h.01M799.6 210.8h.01M800.4 96.1h.01M800.8 91.7h.01M800.6 212.6h.01M801.2 218h.01M802.3 221.9h.01M804 101.7h.01M803.7 103.9h.01M804.6 222.2h.01M804.2 223.4h.01M803.3 223.7h.01M803.4 223.4h.01M117.5 95.5h.01M124.5 102.5h.01M130.5 124.8h.01M117 118h.01M116.8 128h.01M117.2 134h.01M124.3 143.5h.01M125 151.5h.01M117.5 153h.01M126.5 163h.01M123.5 168.5h.01M127 171h.01M138.3 175.3h.01M118 170h.01M117 180h.01M171.5 221h.01M171.7 225h.01M155 226h.01M160 233h.01M163 234h.01M127.3 337h.01M127.5 346h.01M127.3 355h.01M127.5 360h.01M127.3 374h.01M156.5 338.5h.01M176.3 354.5h.01M188.3 357.3h.01M117 350h.01M116.8 365h.01M117 371h.01M258.5 184h.01M262.5 185h.01M262.3 193h.01M259.5 199h.01M199.5 240.7h.01M246 276h.01M284 285h.01M294 281h.01M312 317h.01M312.5 325h.01M322 322h.01M323.5 324.5h.01M331.5 322h.01M332 331.5h.01M374 309h.01M374.3 312.5h.01M388.5 303.5h.01M405.5 280h.01M308.5 222h.01M308.3 227h.01M353.5 215.5h.01M360.5 219h.01M360.8 222.5h.01M370.5 220.5h.01M398.3 226.5h.01M420.3 210.5h.01M427.5 215.5h.01M479.5 224h.01M497.5 230h.01M516.5 231h.01M534.5 237h.01M477.5 295h.01M481.5 291h.01M486.5 293h.01M489.5 304.5h.01M501.5 306h.01M534.5 297.5h.01M551.5 300.5h.01M551.3 307h.01M489 284h.01M476 283h.01M564 230.5h.01M564.3 239h.01M591.5 211h.01M616.5 198.5h.01M616 205h.01M571.5 298h.01M578.5 295h.01M619.5 276.5h.01M625.5 285h.01M673.5 280.5h.01M673.3 286h.01M694.5 211.5h.01M715.5 277h.01M721.5 274.5h.01M731.5 186.5h.01M740.5 164.5h.01M742 170h.01M745 167h.01M829 60.6h.01M829 102.7h.01M838.5 105.4h.01M817.3 110h.01M817.5 114h.01M827.5 117h.01M829.5 122h.01M838.5 122.5h.01M843.5 120.6h.01M838.5 128h.01M829.5 129h.01M815 128h.01M823.5 131h.01M826.5 135h.01M832 140h.01M837.5 137.5h.01M843 141h.01M844.5 148h.01M826.5 148h.01M818 138h.01M813.5 146h.01M820 150h.01M834 152h.01M840 158h.01M845.5 163h.01M831 160h.01M824 158h.01M816 158h.01M811.5 155h.01M828 168h.01M836 170h.01M842 172h.01M821 172h.01M815 166h.01M807.3 306.5h.01M808.7 314h.01M809.5 324h.01M812.3 346.5h.01M818 346.5h.01M812.2 354h.01M812.3 376.5h.01M821.5 378h.01M821.3 411.5h.01M830.5 393.5h.01M841.5 388.5h.01M842.5 398h.01M840.5 402h.01M839.5 410.5h.01M845.5 415.5h.01M845.5 433.5h.01M818 362h.01M822 366h.01M825 372h.01M829 376h.01M833 380h.01M836.5 372h.01M840 376h.01M844 368h.01M846.5 369h.01M831 369h.01M827.5 380h.01M823.5 373h.01M1448.3 496h.01M1458.5 450h.01M1459.5 460.5h.01M1452.5 423h.01M1454 417h.01M1459 426.5h.01M1447.5 68.7h.01M1455.5 75h.01M1460.5 80.5h.01" fill="none" stroke="#1f77b4" stroke-width="5.56" stroke-linecap="round"/><polygon points="805,116.7 806.5,125.2 808,136.6 809.5,156.5 811,175.7 812.5,184.9 814,192.1 815.5,198.6 817,199.7 818.5,200.6 820,202.3 821.5,201.2 823,200.3 824.5,201.2 826,200.1 827.5,198.7 829,200.2 830.5,200.6 832,199.4 833.5,199.5 835,199.4 836.5,199.2 838,199.8 839.5,201.1 841,200.3 842.5,198.5 844,198.8 845.5,198.7 847,198.2 847,349.5 845.5,351.6 844,348.9 842.5,347 841,347.3 839.5,348.2 838,349 836.5,348.5 835,347.7 833.5,346.6 832,345.1 830.5,343.5 829,341.3 827.5,340.1 826,338.9 824.5,335.5 823,332.1 821.5,330.6 820,326.4 818.5,321.9 817,318.7 815.5,308.6 814,298 812.5,297.8 811,298 809.5,292.5 808,280.1 806.5,279.3 805,278.9" fill="#1f77b4" stroke="#1f77b4" stroke-width="2" stroke-linejoin="round"/><path d="M804.9 115.1h.01M805.6 110.8h.01M804.5 283.2h.01M804.8 281.3h.01M806.5 125.3h.01M805.8 118.2h.01M806.8 284.2h.01M806.5 288.7h.01M806.4 283.5h.01M807.8 290.9h.01M808.2 284.3h.01M808.3 286.1h.01M808.6 295.3h.01M808.2 285.6h.01M808 289.1h.01M809.4 153.6h.01M810.2 148h.01M809.8 132.3h.01M808.9 143.1h.01M810 151.7h.01M809.8 313.8h.01M810.2 293.5h.01M810.9 162.7h.01M811 172h.01M811.1 144.9h.01M811.5 163.2h.01M810.3 169.4h.01M811.4 157.4h.01M811.2 318.1h.01M810.5 328.3h.01M811.1 305h.01M811.6 299h.01M810.6 302.2h.01M811 305.6h.01M811.5 299.4h.01M810.9 323.4h.01M812.4 181h.01M812.7 177.9h.01M812.9 177.8h.01M812.8 165.2h.01M811.9 153.7h.01M811.8 172.4h.01M813 169.3h.01M812.7 183.2h.01M812.2 326h.01M812.5 328.6h.01M811.8 310.5h.01M811.8 304.6h.01M813.2 313.6h.01M814.4 184.4h.01M814 174.5h.01M813.7 175.2h.01M814.5 192.2h.01M813.9 351.7h.01M814.2 307h.01M814.3 302.9h.01M814.5 318.7h.01M816.1 168.9h.01M815 187.2h.01M815.8 197.4h.01M815.4 187.5h.01M815.7 189.9h.01M815.9 182.7h.01M815.2 171.8h.01M816 193.9h.01M814.8 324.5h.01M816.1 342.5h.01M816.2 335.3h.01M816.1 313.8h.01M816 329.9h.01M815.8 327.1h.01M815.6 314.7h.01M815.7 315.5h.01M815.9 336.5h.01M815.2 317.7h.01M815.1 323.4h.01M817.6 167.1h.01M816.5 191h.01M816.9 190.6h.01M817.4 156.5h.01M817.4 198.3h.01M817.7 189.9h.01M817.1 160.5h.01M816.5 180.4h.01M816.4 194.7h.01M817.2 188.7h.01M817.1 177.3h.01M816.6 194.4h.01M816.5 336.2h.01M816.7 323.2h.01M817 373.1h.01M816.8 345h.01M816.3 340.3h.01M816.5 347h.01M816.3 340.5h.01M816.3 326.3h.01M818.3 170.8h.01M819.2 145.3h.01M818.2 191.4h.01M818.5 170.8h.01M818 191h.01M818.1 169.6h.01M818.1 166.3h.01M818.6 198.5h.01M818.2 195.5h.01M818.2 147.7h.01M818.5 195.5h.01M818.3 357.1h.01M818.1 361.8h.01M820.3 153.9h.01M820.6 149.8h.01M819.5 156h.01M820.7 196.8h.01M820.4 179.6h.01M820.7 151.5h.01M819.8 184.2h.01M820.1 186.7h.01M820.6 176.7h.01M820.3 186.6h.01M819.7 182.6h.01M819.7 133.1h.01M820.7 161.7h.01M820.3 187.8h.01M819.6 335.8h.01M819.3 336.5h.01M820.5 352.3h.01M820.2 353.3h.01M822.2 156.5h.01M821 165.6h.01M821.7 172.8h.01M820.9 145.2h.01M821.1 140.2h.01M822.1 187.4h.01M821.4 190h.01M821.6 189.4h.01M821.1 155.1h.01M821.5 159.1h.01M820.8 176h.01M821.6 167.5h.01M822.2 176.9h.01M821.8 137h.01M821.9 335.3h.01M821.2 334.8h.01M821.2 345.3h.01M821.6 332.4h.01M822.2 346.7h.01M821.2 350h.01M821.1 346.2h.01M821.3 344.9h.01M821.9 334.7h.01M822.2 335.4h.01M823.5 168.8h.01M823 140.4h.01M822.7 179.9h.01M822.4 196.5h.01M822.9 142.7h.01M822.5 180.8h.01M823.6 187.7h.01M823.4 188.4h.01M822.7 175.7h.01M823 199h.01M823 134.2h.01M823.2 196.4h.01M822.4 380.4h.01M822.4 343.6h.01M822.4 357.7h.01M823 339h.01M822.7 365h.01M822.5 357.9h.01M823.4 364.9h.01M823.2 337.2h.01M823.5 337.2h.01M822.5 336.7h.01M825.2 131.1h.01M825.2 147.3h.01M824.8 177.7h.01M824.2 171.6h.01M824.5 181.4h.01M825 162.6h.01M825.1 177.8h.01M825.2 182h.01M824.3 175.2h.01M824.3 198.8h.01M824.3 138h.01M824.9 191h.01M825.2 198.3h.01M824.6 179.2h.01M824.4 166h.01M825.2 359.7h.01M824.9 341h.01M824 339.8h.01M824.6 371.9h.01M823.9 374.8h.01M823.8 342.5h.01M825.6 152.2h.01M825.6 109.7h.01M825.8 152.9h.01M825.6 135.3h.01M825.6 177h.01M826.6 167.2h.01M825.4 161.5h.01M826.5 161.8h.01M826.1 176h.01M825.3 186.3h.01M825.5 190.4h.01M826.2 185.6h.01M826.1 173.5h.01M825.6 193.3h.01M825.7 122.3h.01M826.4 339.8h.01M825.6 353h.01M826.2 362.2h.01M825.8 356.4h.01M826.5 364.3h.01M826 370.8h.01M825.6 367.8h.01M825.7 366.2h.01M825.4 359.6h.01M825.8 366.4h.01M825.8 343.9h.01M825.9 355.1h.01M826.2 349.4h.01M826.6 374.2h.01M827 156.5h.01M827.8 192.2h.01M827.8 182.4h.01M827.3 181.3h.01M827.6 169.5h.01M828.2 196.3h.01M827.5 193.9h.01M827.4 145.2h.01M827.6 180.3h.01M826.8 192.2h.01M828 155h.01M826.8 178.5h.01M828.2 198.9h.01M828.2 176.3h.01M828 177.4h.01M828.1 148.5h.01M827.7 191.8h.01M827.8 353h.01M827.3 359.9h.01M828.1 376.3h.01M827.8 363.6h.01M828.5 196.2h.01M829.7 197.2h.01M828.3 140.2h.01M828.7 196.1h.01M828.5 193.1h.01M829.6 172.4h.01M829.4 195.2h.01M828.4 143.2h.01M828.3 151.2h.01M828.4 188h.01M829.4 132.5h.01M829.4 169h.01M829.2 157.7h.01M829.6 378.8h.01M829.3 357.4h.01M828.9 360.1h.01M829.3 357.5h.01M828.4 349.7h.01M828.8 382.8h.01M829.5 376.9h.01M829 378.7h.01M829.1 355.8h.01M829.1 389.9h.01M829.7 351.5h.01M828.6 373h.01M831 153h.01M830.3 158h.01M830.1 190.8h.01M830.1 128.9h.01M831.2 161.5h.01M831.2 173.2h.01M830.5 141.2h.01M830.2 158.4h.01M830.8 188h.01M829.8 190.1h.01M831 185.5h.01M829.8 171.8h.01M829.8 158.2h.01M830.3 156h.01M830.4 197.7h.01M829.8 196.5h.01M830.2 162.8h.01M831.2 169.9h.01M829.9 361.2h.01M830.6 350h.01M831.2 376.8h.01M829.8 351.2h.01M830.4 358.8h.01M829.9 365.2h.01M830.6 354h.01M832 184.6h.01M831.7 162.6h.01M831.7 198.7h.01M832.6 192.9h.01M831.9 193h.01M831.5 185.4h.01M832.5 165.3h.01M832 185.6h.01M831.9 173.2h.01M832.6 186.9h.01M832.4 171.4h.01M831.3 163.6h.01M832.7 193.7h.01M831.9 109h.01M832.3 358.9h.01M831.6 399.7h.01M831.4 375.9h.01M832.5 360.8h.01M832.6 352.6h.01M831.8 350h.01M831.8 405.5h.01M831.9 355.6h.01M831.7 364.1h.01M832.7 366.5h.01M832.9 153.5h.01M834 161.2h.01M832.9 162.5h.01M833.2 109h.01M834.2 143.4h.01M833.7 186.6h.01M834 184.2h.01M834.1 191.8h.01M833.1 167h.01M833.9 164.5h.01M833.3 194.9h.01M832.8 139.6h.01M833.2 392.1h.01M833.7 372.5h.01M834.4 170.5h.01M835.7 193.6h.01M834.4 164.9h.01M835 196.4h.01M835.3 193.2h.01M835.7 183.7h.01M835.2 173.9h.01M835.5 198.7h.01M835 181.5h.01M834.3 368.8h.01M834.7 355.8h.01M835.1 352h.01M835.3 351.2h.01M837 117.9h.01M836.7 138.7h.01M835.8 181.7h.01M836.8 183.4h.01M836.5 176.5h.01M836.1 159.8h.01M835.9 192.8h.01M836.3 172.7h.01M836.6 182.8h.01M836.5 186h.01M837.2 359.7h.01M836.1 359.6h.01M835.9 353.3h.01M836.7 374.5h.01M836 368.9h.01M836.2 373.4h.01M837.5 196.1h.01M837.8 198.1h.01M838.4 196.1h.01M837.4 176.1h.01M838.2 191.6h.01M837.7 170.7h.01M838.6 189.9h.01M837.8 193.8h.01M837.7 187.6h.01M838.3 366.8h.01M838.3 357.7h.01M838.2 359.1h.01M838.5 349.6h.01M838.4 361.7h.01M838.5 360.6h.01M837.3 363.3h.01M838.7 367.3h.01M838.1 359.2h.01M839.4 197.4h.01M839 193.4h.01M839.6 144.1h.01M839.8 174.4h.01M840.1 184.8h.01M840 179.7h.01M840.2 191.9h.01M840.2 193.5h.01M839.1 363.1h.01M838.9 368.6h.01M840 367.1h.01M839.1 376.2h.01M840.2 371.7h.01M839.7 386.9h.01M839.3 359.6h.01M838.8 382.8h.01M840 370.9h.01M838.9 361.3h.01M839.9 360.1h.01M840.7 182.8h.01M841.7 188.4h.01M841.5 196.4h.01M840.9 177.1h.01M841.4 185.4h.01M840.8 181.1h.01M840.5 195.9h.01M841.6 180.4h.01M841 401.4h.01M841.7 358.5h.01M841.2 362.8h.01M840.7 381.5h.01M841.5 350.6h.01M840.8 357.2h.01M840.3 352.1h.01M840.4 361.2h.01M841.7 381h.01M840.4 360.5h.01M841.4 368.4h.01M840.3 386.1h.01M840.9 356.7h.01M840.7 372.2h.01M840.8 362.3h.01M840.4 359.9h.01M842.7 196h.01M842.2 180.7h.01M842.6 124.5h.01M842 187.2h.01M843.1 171h.01M842.5 197.4h.01M842.8 134.9h.01M842 146.2h.01M842.5 141.7h.01M842.5 373.5h.01M842.2 395.2h.01M843.2 389.8h.01M842.9 385.2h.01M842.1 379.8h.01M841.9 390.6h.01M841.8 351.1h.01M842 352.4h.01M843.1 384.6h.01M843.1 396h.01M844.6 131.8h.01M844.6 178.1h.01M844.7 178.7h.01M843.8 179.6h.01M844 160.3h.01M843.3 175.3h.01M843.8 193.8h.01M843.8 171.3h.01M843.4 164.7h.01M844.5 159.7h.01M843.7 182h.01M843.4 195.1h.01M843.4 160.4h.01M843.3 147.8h.01M844.7 357h.01M844.4 366.3h.01M844.4 381.9h.01M844.5 365.8h.01M844.6 350.6h.01M844.4 384.6h.01M843.4 364.5h.01M843.6 382.8h.01M843.4 365.7h.01M843.9 359.1h.01M843.3 396.3h.01M845.4 172.6h.01M845.8 193.5h.01M845.4 167.9h.01M845.2 188.1h.01M845.1 141.9h.01M845.4 157.4h.01M845.3 179.3h.01M845.9 173.5h.01M845.9 184.7h.01M845.9 153.5h.01M846 161.2h.01M845.3 184.7h.01M845.3 144.9h.01M846 181.3h.01M845 198.7h.01M845.8 128.1h.01M845.5 189.4h.01M845.7 180.2h.01M845.8 175.3h.01M845.8 149.2h.01M845.1 178.8h.01M844.8 195.7h.01M846.2 187h.01M846.1 173.6h.01M845.5 168.5h.01M845.7 141.3h.01M846 356.5h.01M845 372.2h.01M846 373.5h.01M846 369.5h.01M845 380.7h.01M846.9 155.5h.01M847.4 189.6h.01M847 154.4h.01M847.5 103.9h.01M846.4 197.1h.01M846.7 112.4h.01M846.3 187.9h.01M847.6 165.7h.01M846.3 160.3h.01M847.1 162.9h.01M847.3 194.6h.01M846.6 197h.01M847.7 111h.01M847.7 169.2h.01M847.7 366.4h.01M847 352.4h.01M846.3 421.9h.01M847.6 380.6h.01M846.7 384.5h.01M847.5 381.1h.01M847.2 395.9h.01M847.4 349.4h.01" fill="none" stroke="#1f77b4" stroke-width="5.56" stroke-linecap="round"/><polygon points="1446.5,151.7 1448,152.5 1449.5,152.3 1451,151.3 1452.5,152.9 1454,153.4 1455.5,151.1 1457,150.9 1458.5,153.3 1460,153.7 1461.5,151.2 1463,149.7 1463,340.8 1461.5,340 1460,342.7 1458.5,343.7 1457,343.8 1455.5,344 1454,343 1452.5,342.2 1451,341.5 1449.5,342.6 1448,344.5 1446.5,343.6" fill="#1f77b4" stroke="#1f77b4" stroke-width="2" stroke-linejoin="round"/><path d="M1446 77.6h.01M1447.1 150.9h.01M1445.8 125.9h.01M1447 121.1h.01M1446.7 76.2h.01M1446.8 130.5h.01M1446.3 106.1h.01M1446.3 111.8h.01M1446 118.1h.01M1446 116.7h.01M1446.7 121.2h.01M1446.3 135.4h.01M1445.8 114.6h.01M1446 132.5h.01M1446 134h.01M1446.8 361.7h.01M1446.8 390.6h.01M1446.3 410.7h.01M1445.9 391.1h.01M1446 366.6h.01M1446.8 391.5h.01M1446.2 395.5h.01M1447.2 391.1h.01M1445.9 376.1h.01M1447 374.6h.01M1446.5 362h.01M1447.6 114.8h.01M1447.3 129h.01M1448.2 106.2h.01M1448.1 122.2h.01M1447.3 93.4h.01M1448.7 137.4h.01M1448.3 121.3h.01M1448.1 138.1h.01M1448.7 130.9h.01M1448 107h.01M1447.5 132.4h.01M1447.4 384.7h.01M1447.5 364.9h.01M1447.5 398.4h.01M1448.7 360.8h.01M1448.1 413.2h.01M1447.6 364.7h.01M1448 434.9h.01M1447.3 352.8h.01M1447.6 373.1h.01M1448.2 444.6h.01M1449.7 93.2h.01M1450.2 79.8h.01M1448.9 100.8h.01M1450.1 105h.01M1449.5 150.4h.01M1449.8 71.5h.01M1449.8 79h.01M1449.3 106.4h.01M1449.5 106h.01M1450.2 147.4h.01M1449.5 136.5h.01M1450.1 121.3h.01M1448.8 149.3h.01M1449.6 99.4h.01M1449.8 142.4h.01M1449.3 373.4h.01M1449.7 422h.01M1449.7 352.8h.01M1449.4 359.5h.01M1449.7 408.3h.01M1449.7 360.2h.01M1449.9 349.8h.01M1449 423.6h.01M1449.7 352.8h.01M1449.4 376.4h.01M1450.1 381.6h.01M1449.7 412.3h.01M1450 394.7h.01M1450.3 127.3h.01M1451.2 150.7h.01M1451 136.2h.01M1451.6 147.7h.01M1450.3 127.1h.01M1450.7 132.6h.01M1451 129.7h.01M1450.4 150.6h.01M1451.2 141.4h.01M1451.5 130h.01M1451.6 129.5h.01M1450.5 118.7h.01M1451 138.6h.01M1451.7 149.2h.01M1450.4 122.7h.01M1450.9 362.1h.01M1451 420.2h.01M1450.7 356h.01M1451.1 378.7h.01M1450.4 385.1h.01M1451.7 363.6h.01M1450.9 396.3h.01M1450.3 349.1h.01M1450.7 358.5h.01M1451.7 360.9h.01M1450.7 433.5h.01M1450.8 351.7h.01M1451.7 344.9h.01M1451.4 389.7h.01M1450.8 356h.01M1452.9 133.3h.01M1452.3 123.9h.01M1452.9 129.2h.01M1451.8 74.4h.01M1453 145.8h.01M1452.8 148.1h.01M1452 116.8h.01M1452.1 137.7h.01M1452.2 113h.01M1452.5 108.6h.01M1453.1 113.9h.01M1452.4 354.1h.01M1452.8 363h.01M1451.8 346.6h.01M1452 366.2h.01M1452.8 357.3h.01M1451.9 389.6h.01M1453 348.6h.01M1452.3 387.2h.01M1451.8 350.9h.01M1452.9 360.4h.01M1452.1 379.1h.01M1453.2 369.3h.01M1453.1 368.5h.01M1453.1 417.3h.01M1453.1 362.1h.01M1451.9 364.8h.01M1451.8 399.1h.01M1452.4 354.1h.01M1452.4 344.7h.01M1452.4 355.6h.01M1454.4 125.6h.01M1454.6 135.4h.01M1453.6 120.5h.01M1453.5 138.5h.01M1453.6 117.3h.01M1453.3 147.7h.01M1454.6 112.9h.01M1453.6 116.9h.01M1454.2 71.1h.01M1453.7 126.6h.01M1454.1 118.5h.01M1453.9 135.3h.01M1454.5 370.7h.01M1454.6 352.4h.01M1454.7 366.5h.01M1454.2 403.9h.01M1454.1 434.1h.01M1453.5 357.7h.01M1454.7 419.9h.01M1454.4 373h.01M1454.3 361h.01M1454.3 363.4h.01M1454.5 380.5h.01M1453.8 358.3h.01M1453.4 367.5h.01M1454.7 356.8h.01M1453.3 394.5h.01M1453.7 392.6h.01M1454 392.7h.01M1453.3 361.2h.01M1455 149.6h.01M1455.3 131.4h.01M1456.1 120.6h.01M1455.3 147.6h.01M1456 147.5h.01M1455.8 132.2h.01M1455.1 97.2h.01M1455 140.3h.01M1454.9 118.6h.01M1455.4 130.9h.01M1455.8 81h.01M1455.5 348.4h.01M1456.1 358.4h.01M1456.1 374.1h.01M1455 432.7h.01M1455.7 388.5h.01M1456 346.2h.01M1455.9 398.7h.01M1455.6 360.8h.01M1455.5 418.2h.01M1455.6 345.8h.01M1455.4 349h.01M1455.6 389h.01M1456.1 396.6h.01M1455.3 373.2h.01M1455.4 351.5h.01M1455.4 450.6h.01M1456 416.5h.01M1456.8 115h.01M1457.5 137.8h.01M1457.6 119.3h.01M1457.4 123.1h.01M1457.4 135.1h.01M1457.6 126.3h.01M1456.8 372.4h.01M1456.8 377.6h.01M1456.6 357h.01M1456.4 366.8h.01M1456.8 351.3h.01M1456.6 437.8h.01M1456.3 377.7h.01M1457.6 345.8h.01M1456.8 362h.01M1456.3 350.1h.01M1457.2 372.8h.01M1457 434.8h.01M1457.3 361.1h.01M1456.8 386.1h.01M1456.5 426.5h.01M1457.2 369.1h.01M1456.8 344.6h.01M1457.6 378.5h.01M1456.7 389.7h.01M1456.6 355.6h.01M1456.5 391.8h.01M1456.6 402.3h.01M1456.6 383.4h.01M1457 381.8h.01M1456.8 396h.01M1457.8 141.6h.01M1459 134.2h.01M1459.1 110h.01M1458 122h.01M1458.6 147.6h.01M1459.1 138.1h.01M1458.3 147.3h.01M1458.5 132.4h.01M1458.1 130.3h.01M1458.5 127.9h.01M1458.2 129.4h.01M1459 107.5h.01M1458 128.7h.01M1457.8 113.7h.01M1459.1 117.8h.01M1458 105.2h.01M1458.6 122.6h.01M1458.8 136.2h.01M1458.2 148.5h.01M1459.1 92.7h.01M1458.3 102.6h.01M1457.9 356.7h.01M1457.9 433.2h.01M1457.8 349.3h.01M1458.6 400.4h.01M1458.4 387.9h.01M1457.9 372.5h.01M1458.5 388.7h.01M1459.1 375.2h.01M1457.9 378.3h.01M1458.7 348.5h.01M1458 408.1h.01M1458.5 372.5h.01M1458.3 422.8h.01M1458.2 357.8h.01M1459.7 142.3h.01M1460.2 132.9h.01M1459.3 144.4h.01M1460.6 138.9h.01M1460.3 149.6h.01M1460.6 150.6h.01M1459.6 150.6h.01M1460 111.9h.01M1459.7 389.1h.01M1459.8 378.8h.01M1459.8 360.6h.01M1459.8 357h.01M1459.7 351h.01M1460.4 374.7h.01M1459.7 350.5h.01M1459.9 345.4h.01M1460 440.9h.01M1460.7 348.3h.01M1459.7 346.6h.01M1460.3 445.3h.01M1459.7 366.5h.01M1460.5 347.8h.01M1459.8 354.4h.01M1459.3 358.4h.01M1460 386.2h.01M1459.8 359.7h.01M1461 137.5h.01M1460.9 136.8h.01M1461.3 116.6h.01M1461.6 110.8h.01M1461.6 123.8h.01M1461.8 140.3h.01M1461.7 120.7h.01M1460.8 442.9h.01M1461.5 410h.01M1461.1 364.1h.01M1461.1 344.5h.01M1461.8 354.7h.01M1461.4 356.7h.01M1462.1 387.3h.01M1462.1 368.3h.01M1462 370h.01M1463.3 70.8h.01M1463.3 72.1h.01M1463.6 142h.01M1463.7 86.1h.01M1462.8 128.1h.01M1463.2 150.2h.01M1463.2 140h.01M1462.3 149.4h.01M1463.3 123.6h.01M1462.7 149.7h.01M1462.9 107.1h.01M1463.2 138.5h.01M1463 99.2h.01M1462.7 130.4h.01M1462.5 413.6h.01M1462.3 392.1h.01M1463.3 364.7h.01M1462.8 372.6h.01M1463.7 389.7h.01M1462.6 346.4h.01M1463.7 345h.01M1463.4 351h.01M1463.4 387.9h.01M1463.2 355.5h.01M1463.6 378.2h.01M1462.6 400.3h.01M1463.6 352.5h.01M1463.6 407.8h.01M1463.2 401.3h.01M1463.2 344.1h.01M1462.6 358.7h.01M1463 391.4h.01M1463.1 351.2h.01" fill="none" stroke="#1f77b4" stroke-width="5.56" stroke-linecap="round"/><polyline points="116.9,253.6 118.1,249.7 119.3,251 120.5,258.4 121.7,250.7 122.9,245.4 124.1,249.4 125.3,256.9 126.5,263.1 127.7,264 128.9,258.2 130.1,256.6 131.3,256.9 132.5,256.4 133.7,258.5 134.9,263.7 136.1,264.4 137.3,258.4 138.5,254.6 139.7,255.8 140.9,256.8 142.1,258.3 143.3,261.4 144.5,265 145.7,263 146.9,261.8 148.1,261.3 149.3,262.6 150.5,263.7 151.7,259.3 152.9,252.5 154.1,259.3 155.3,265.7 156.5,267.1 157.7,262.2 158.9,258.6 160.1,260.6 161.3,260.9 162.5,260.3 163.7,265.5 164.9,270.7 166.1,262.1 167.3,259.2 168.5,266.1 169.7,268.1 170.9,264.7 172.1,263.8 173.3,262.3 174.5,262.1 175.7,264.5 176.9,267.5 178.1,268.7 179.3,269 180.5,269.4 181.7,269 182.9,265.8 184.1,263 185.3,276.9 186.5,292.5 187.7,285.3 188.9,269.5 190.1,267.4 191.3,272.6 192.5,277.2 193.7,276.7 194.9,270 196.1,264.2 197.3,260.1 198.5,261.5 199.7,263.3 200.9,260.7 202.1,257.7 203.3,259.3 204.5,260.8 205.7,258.6 206.9,255.5 208.1,252.8 209.3,252.9 210.5,255.1 211.7,257.4 212.9,258.4 214.1,261.6 215.3,263.1 216.5,260.4 217.7,259.5 218.9,255.8 220.1,254.7 221.3,256.5 222.5,254.9 223.7,259.6 224.9,262.6 226.1,257.6 227.3,254 228.5,254.2 229.7,255.2 230.9,255.6 232.1,253.2 233.3,252.9 234.5,255.6 235.7,255.7 236.9,254.3 238.1,254.4 239.3,253 240.5,252.6 241.7,253.3 242.9,252.6 244.1,251.4 245.3,250.3 246.5,250.3 247.7,248.6 248.9,247.5 250.1,249.6 251.3,250.2 252.5,249.4 253.7,247.4 254.9,247.2 256.1,249 257.3,249.7 258.5,250.2 259.7,249.3 260.9,248.5 262.1,245.8 263.3,246.2 264.5,247.9 265.7,246.3 266.9,246.9 268.1,247.9 269.3,250.6 270.5,253.6 271.7,254.1 272.9,252.3 274.1,252 275.3,252.9 276.5,253 277.7,252.9 278.9,253.2 280.1,253.8 281.3,254.8 282.5,256.1 283.7,255.7 284.9,254.5 286.1,254.4 287.3,255.2 288.5,255.1 289.7,254.2 290.9,251.8 292.1,251.2 293.3,252.4 294.5,252.1 295.7,250.6 296.9,249.3 298.1,248.5 299.3,251.1 300.5,252.8 301.7,252.1 302.9,252.5 304.1,253.5 305.3,254.8 306.5,255.8 307.7,256.9 308.9,259.4 310.1,262.7 311.3,265.1 312.5,265.9 313.7,265.1 314.9,263.1 316.1,261.2 317.3,261.8 318.5,267.7 319.7,273.3 320.9,276.3 322.1,266.8 323.3,265.4 324.5,268.6 325.7,271.7 326.9,269.4 328.1,267.3 329.3,269.4 330.5,274 331.7,276.8 332.9,271.2 334.1,267.7 335.3,265.2 336.5,262.1 337.7,259.1 338.9,256.3 340.1,255 341.3,254.2 342.5,253.4 343.7,252 344.9,251.6 346.1,251.7 347.3,251 348.5,249.8 349.7,249.5 350.9,251.5 352.1,252.2 353.3,251.5 354.5,252 355.7,253.7 356.9,252.7 358.1,251.2 359.3,251.7 360.5,251.6 361.7,251.4 362.9,251.5 364.1,250.3 365.3,250.8 366.5,252.9 367.7,251.4 368.9,247.1 370.1,247.1 371.3,252.6 372.5,259 373.7,265 374.9,263.5 376.1,261.4 377.3,259.4 378.5,261.2 379.7,262.6 380.9,260.4 382.1,257.2 383.3,258.7 384.5,258.8 385.7,258.4 386.9,260.9 388.1,266.1 389.3,268.7 390.5,265.4 391.7,263 392.9,259.8 394.1,257.7 395.3,255 396.5,251.5 397.7,249.8 398.9,249.3 400.1,250.6 401.3,252.3 402.5,254.6 403.7,255.6 404.9,254.3 406.1,253.3 407.3,252.3 408.5,251.3 409.7,249.4 410.9,247.1 412.1,245.1 413.3,243.3 414.5,243.3 415.7,242 416.9,239.6 418.1,239.8 419.3,238 420.5,237.4 421.7,239.8 422.9,241 424.1,239.9 425.3,239.6 426.5,240.5 427.7,243.9 428.9,247.6 430.1,251.6 431.3,254.8 432.5,259.4 433.7,264.8 434.9,264.9 436.1,262.1 437.3,260 438.5,258.1 439.7,259.7 440.9,261.8 442.1,263.6 443.3,265.2 444.5,266.8 445.7,267.6 446.9,266.7 448.1,264.9 449.3,264.7 450.5,262.5 451.7,260.6 452.9,261.4 454.1,261.9 455.3,262.6 456.5,263.7 457.7,263.8 458.9,263.4 460.1,264.3 461.3,264.7 462.5,266.4 463.7,269.2 464.9,268 466.1,267.7 467.3,268.8 468.5,268.2 469.7,265.7 470.9,256.8 472.1,251.2 473.3,251.7 474.5,252.6 475.7,252.3 476.9,252 478.1,251.4 479.3,251.1 480.5,251.7 481.7,252.8 482.9,255.1 484.1,255 485.3,253.2 486.5,253.4 487.7,254.7 488.9,255.5 490.1,256.7 491.3,257.7 492.5,256 493.7,256.5 494.9,257.9 496.1,257 497.3,258.3 498.5,258.9 499.7,260.1 500.9,262.3 502.1,264.3 503.3,264.6 504.5,264.4 505.7,262.9 506.9,260.8 508.1,260.6 509.3,259.4 510.5,258.1 511.7,257.3 512.9,255.4 514.1,254.9 515.3,255.2 516.5,255.3 517.7,255 518.9,256.1 520.1,259.3 521.3,262.8 522.5,264.2 523.7,263.1 524.9,262.3 526.1,261.6 527.3,262 528.5,261.6 529.7,259.7 530.9,259.1 532.1,259.3 533.3,258.8 534.5,257.8 535.7,261.2 536.9,265.3 538.1,269.6 539.3,272 540.5,269.9 541.7,268.2 542.9,266.7 544.1,264.7 545.3,263.2 546.5,259.8 547.7,259.8 548.9,263.2 550.1,266.6 551.3,268.3 552.5,269 553.7,270.1 554.9,272.1 556.1,269 557.3,266.3 558.5,262.9 559.7,263.9 560.9,265.4 562.1,263.1 563.3,260.3 564.5,258.7 565.7,261 566.9,263.4 568.1,266.2 569.3,268.6 570.5,270.9 571.7,270.1 572.9,266.8 574.1,264.2 575.3,262.3 576.5,260.9 577.7,261.2 578.9,259.8 580.1,257.9 581.3,257.9 582.5,257.2 583.7,255.6 584.9,254.8 586.1,253.5 587.3,255.1 588.5,257.2 589.7,254.6 590.9,250.7 592.1,248.7 593.3,249 594.5,248.4 595.7,247.6 596.9,246.3 598.1,244.9 599.3,243.2 600.5,240.8 601.7,239.1 602.9,236.6 604.1,233.3 605.3,231.1 606.5,233.1 607.7,235.6 608.9,238.8 610.1,238.4 611.3,235.8 612.5,237.4 613.7,242.7 614.9,245.2 616.1,244 617.3,244.3 618.5,244.4 619.7,247.1 620.9,250.4 622.1,251.1 623.3,252 624.5,253.1 625.7,257.6 626.9,264.7 628.1,268.8 629.3,263.1 630.5,259.8 631.7,257.3 632.9,255.7 634.1,253.7 635.3,251.2 636.5,250 637.7,253.5 638.9,257 640.1,258.7 641.3,259.5 642.5,258.8 643.7,257.3 644.9,255.3 646.1,253.6 647.3,251.2 648.5,247.4 649.7,242.5 650.9,241.9 652.1,245.6 653.3,244.8 654.5,245.9 655.7,250.5 656.9,254.2 658.1,252.4 659.3,250.3 660.5,251.4 661.7,254.2 662.9,254.6 664.1,254.5 665.3,254.6 666.5,250.9 667.7,247.5 668.9,244.7 670.1,246.1 671.3,249.6 672.5,251.3 673.7,251.4 674.9,251.3 676.1,249.9 677.3,249.6 678.5,250.5 679.7,252.4 680.9,255.4 682.1,254.2 683.3,252.8 684.5,252 685.7,250.8 686.9,250.6 688.1,249.5 689.3,248.4 690.5,249.5 691.7,251.6 692.9,252.1 694.1,251.2 695.3,251.3 696.5,250.1 697.7,247.3 698.9,242.9 700.1,244.8 701.3,250.8 702.5,251.8 703.7,247.2 704.9,246.6 706.1,249.2 707.3,249.5 708.5,248.9 709.7,248.7 710.9,248.7 712.1,251 713.3,252.8 714.5,252 715.7,248.5 716.9,245.5 718.1,245.6 719.3,244.8 720.5,249.5 721.7,246.6 722.9,242.8 724.1,237.4 725.3,232.6 726.5,228.6 727.7,229.7 728.9,232.6 730.1,228.2 731.3,223.6 732.5,222.8 733.7,223.8 734.9,221.6 736.1,218.4 737.3,215.7 738.5,212.5 739.7,209.6 740.9,210.3 742.1,210.5 743.3,207.2 744.5,203.3 745.7,203.6 746.9,204.5 748.1,202.1 749.3,198.6 750.5,204.3 751.7,211.5 752.9,215.9 754.1,219.4 755.3,216.7 756.5,206.1 757.7,196.8 758.9,191.8 760.1,187.7 761.3,189.5 762.5,187.3 763.7,184 764.9,184.5 766.1,189.3 767.3,193.5 768.5,189.1 769.7,184.5 770.9,186.8 772.1,190.9 773.3,190.9 774.5,187 775.7,184.3 776.9,183.4 778.1,182.5 779.3,175.5 780.5,168.7 781.7,169.2 782.9,174.4 784.1,176.5 785.3,179.3 786.5,182.1 787.7,183.1 788.9,183.8 790.1,178.9 791.3,169.1 792.5,177.9 793.7,173.7 794.9,155.3 796.1,141.7 797.3,143.9 798.5,147.2 799.7,158 800.9,169.3 802.1,163.6 803.3,158.4 804.5,178.1 805.7,197.3 806.9,213.3 808.1,222.4 809.3,229.8 810.5,235.7 811.7,241.9 812.9,240 814.1,234.9 815.3,234.3 816.5,236.5 817.7,239.9 818.9,247.3 820.1,256.4 821.3,264.3 822.5,263.2 823.7,253.5 824.9,257.1 826.1,264.5 827.3,257.2 828.5,247.1 829.7,261.5 830.9,272.6 832.1,257.9 833.3,256 834.5,261.8 835.7,258.8 836.9,252.8 838.1,255.5 839.3,260.9 840.5,264.3 841.7,256.7 842.9,252.7 844.1,255.5 845.3,252 846.5,241 847.7,232.5 849,232.9 1446,248.9 1447.5,265 1449.5,244.8 1452,271 1454.5,244 1456.5,262 1458.5,246 1460.5,260 1462.6,252" fill="none" stroke="#ff7f0e" stroke-width="2.25" stroke-linejoin="round" stroke-linecap="butt"/></g><rect x="116.5" y="38.5" width="1346" height="480.1" fill="none" stroke="#000" stroke-width="1.11"/><path d="M116.5 518.5v4.86M289.5 518.5v4.86M462.6 518.5v4.86M635.6 518.5v4.86M809.4 518.5v4.86M982.5 518.5v4.86M1155.5 518.5v4.86M1328.5 518.5v4.86M116.5 73.5h-4.86M116.5 163.6h-4.86M116.5 254.5h-4.86M116.5 345.4h-4.86M116.5 435.5h-4.86" fill="none" stroke="#000" stroke-width="1.11"/><text x="105.4" y="81.6" text-anchor="end" font-size="22.22">2</text><text x="105.4" y="171.7" text-anchor="end" font-size="22.22">1</text><text x="105.4" y="262.6" text-anchor="end" font-size="22.22">0</text><text x="105.4" y="353.5" text-anchor="end" font-size="22.22">−1</text><text x="105.4" y="443.6" text-anchor="end" font-size="22.22">−2</text><rect x="1047.4" y="48.5" width="406.1" height="80" rx="3.7" fill="#fff" fill-opacity="0.8" stroke="#ccc" stroke-opacity="0.8" stroke-width="1.39"/><circle cx="1073.5" cy="63.5" r="2.78" fill="#1f77b4"/><path d="M1052.9 101.9H1092" stroke="#ff7f0e" stroke-width="2.08"/><text transform="translate(1106.2,68.9) scale(1,.94)" font-size="18.52">Raw Data</text><text transform="translate(1106.2,96.1) scale(1,.94)" font-size="18.52">Butterworth Filtered Data</text><text transform="translate(1106.2,117) scale(1,.94)" font-size="18.52">(N=6, Tc=3.3333 min, Type: low)</text><rect x="121" y="575.5" width="619.7" height="478.9" fill="#d3d3d3" fill-opacity=".5" stroke="#d3d3d3" stroke-opacity=".5" stroke-width="1.39"/><path d="M289.5 1054.4V575.5M462.6 1054.4V575.5M635.6 1054.4V575.5M809.4 1054.4V575.5M982.5 1054.4V575.5M1155.5 1054.4V575.5M1328.5 1054.4V575.5M116.5 615.5H1462.5M116.5 720.5H1462.5M116.5 825.5H1462.5M116.5 930.5H1462.5M116.5 1035.5H1462.5" fill="none" stroke="#b0b0b0" stroke-width="1.11" stroke-dasharray="1.11 1.83"/><g clip-path="url(#c2)"><polygon points="117,1003.4 118.5,993 120,978.7 121.5,977.5 123,980.5 124.5,988.9 126,992.4 127.5,993.2 129,993.1 130.5,973.7 132,963.3 133.5,963.3 135,963.4 136.5,964.7 138,963.7 139.5,964.3 141,967.4 142.5,963.9 144,954.3 145.5,943.7 147,924.3 148.5,909.7 150,901.9 151.5,895.3 153,891.3 154.5,891.2 156,911.2 157.5,912.6 159,905.2 160.5,899 162,897.5 163.5,897.4 165,858.9 166.5,847.1 168,838.6 169.5,835.4 171,834.3 172.5,830 174,825.3 175.5,821.5 177,817.7 178.5,814.9 180,812.3 181.5,809.8 183,808.1 184.5,800.3 186,793.2 187.5,788.4 189,782.4 190.5,778.4 192,775.3 193.5,771.4 195,764.4 196.5,759.2 198,754 199.5,749.5 201,746.4 202.5,741.9 204,736.3 205.5,731.8 207,728.1 208.5,725.3 210,719.5 211.5,714 213,710.2 214.5,705 216,700.7 217.5,697 219,696.6 220.5,697.1 222,695.2 223.5,695.5 225,696.3 226.5,695.4 228,693.1 229.5,691.5 231,691.7 232.5,692.2 234,693.4 235.5,691.5 237,690.4 238.5,691.6 240,692.1 241.5,692.1 243,690.3 244.5,690.1 246,690.1 247.5,689.6 249,690.2 250.5,690.3 252,690.4 253.5,689.5 255,690.8 256.5,692.7 258,691.4 259.5,689.5 261,687.3 262.5,687.5 264,688.9 265.5,691.3 267,692.5 268.5,690.7 270,690.8 271.5,692.2 273,691.5 274.5,691.6 276,692 277.5,690.8 279,689.8 280.5,690.4 282,692.1 283.5,691.4 285,689.6 286.5,691.2 288,690.5 289.5,691.6 291,693.6 292.5,693.4 294,695.6 295.5,694.7 297,693.2 298.5,696.4 300,697.6 301.5,696.5 303,697.4 304.5,698.9 306,700.3 307.5,700.2 309,699.6 310.5,700.1 312,701.2 313.5,702.7 315,703.2 316.5,704.2 318,703.7 319.5,702.3 321,703.7 322.5,703.7 324,702.2 325.5,700.1 327,698.9 328.5,698.9 330,699.1 331.5,698.6 333,696.8 334.5,695.7 336,696 337.5,696 339,693.5 340.5,691.5 342,690.2 343.5,688.9 345,691.5 346.5,690.9 348,686.9 349.5,685.3 351,683.6 352.5,681.5 354,681.3 355.5,681.3 357,682.2 358.5,681 360,680.1 361.5,682.1 363,680.2 364.5,679.6 366,679.7 367.5,679.5 369,681.5 370.5,681 372,680 373.5,679.3 375,679.2 376.5,680.4 378,679.9 379.5,678.8 381,679.1 382.5,679.6 384,678 385.5,677.3 387,677.8 388.5,678 390,679.1 391.5,678.8 393,678.8 394.5,677.8 396,676.4 397.5,676.2 399,676.4 400.5,677.1 402,676.7 403.5,675.6 405,675.6 406.5,676 408,676.3 409.5,676.3 411,676.8 412.5,677.5 414,675.6 415.5,675.6 417,676.2 418.5,677.4 420,679.7 421.5,679.3 423,678.9 424.5,678.2 426,676.5 427.5,677.5 429,679.2 430.5,678.8 432,679.4 433.5,681 435,681.7 436.5,682.9 438,683.5 439.5,682.7 441,682.8 442.5,684.1 444,683.8 445.5,685 447,687 448.5,686.4 450,685.9 451.5,689.4 453,691.1 454.5,689.6 456,690.9 457.5,691.6 459,691 460.5,691.4 462,691.2 463.5,691.8 465,691.8 466.5,691.9 468,693.7 469.5,692.6 471,693.9 472.5,694.5 474,694.2 475.5,694.9 477,694.7 478.5,694.9 480,696.8 481.5,698.3 483,698.1 484.5,698.2 486,697.7 487.5,697.6 489,697.2 490.5,697.8 492,698.1 493.5,696.8 495,694.9 496.5,694.1 498,694.8 499.5,693.9 501,693 502.5,692.5 504,690.7 505.5,689.4 507,688.9 508.5,688.6 510,688.2 511.5,688.4 513,687.1 514.5,684.6 516,685.9 517.5,687.1 519,686.5 520.5,688.7 522,689.8 523.5,688.4 525,688 526.5,687.7 528,687.7 529.5,687.2 531,685.9 532.5,686 534,687.7 535.5,689.4 537,688.6 538.5,689 540,690.1 541.5,690.8 543,691.4 544.5,692.1 546,693 547.5,692.8 549,693.6 550.5,694.7 552,695.1 553.5,694.7 555,697.1 556.5,698.6 558,694.2 559.5,690.4 561,687.2 562.5,685.9 564,686.4 565.5,683.1 567,679.4 568.5,676.8 570,675.3 571.5,674.4 573,671.3 574.5,671.5 576,672.2 577.5,671.7 579,669.8 580.5,667.7 582,667.1 583.5,666.5 585,668.3 586.5,669.1 588,667.6 589.5,667.6 591,668.6 592.5,667.8 594,666.9 595.5,667.2 597,665.9 598.5,664 600,664.5 601.5,665.1 603,663.8 604.5,664.2 606,664.3 607.5,664.6 609,663.8 610.5,662.8 612,663.2 613.5,662.8 615,662.8 616.5,662.2 618,662.3 619.5,661.7 621,659.5 622.5,659.7 624,661.3 625.5,660.6 627,659 628.5,659 630,659.6 631.5,659.7 633,659.8 634.5,658.7 636,659.6 637.5,661.2 639,659.5 640.5,660.1 642,661.1 643.5,661.1 645,659.9 646.5,660.1 648,661 649.5,658.3 651,658.8 652.5,660.1 654,658.8 655.5,658.8 657,657.9 658.5,658.4 660,659.5 661.5,658.7 663,659.7 664.5,659.8 666,658.1 667.5,657.3 669,657.6 670.5,658.9 672,658.4 673.5,656.7 675,657.6 676.5,658.3 678,657.4 679.5,658.8 681,657.7 682.5,656.3 684,655.9 685.5,655.5 687,657.2 688.5,658.3 690,656.9 691.5,656.7 693,658.2 694.5,657.5 696,658.7 697.5,658.8 699,656.4 700.5,656.7 702,656 703.5,656.8 705,658.9 706.5,657.4 708,657.2 709.5,657.8 711,658.6 712.5,657.5 714,655 715.5,653.8 717,654.3 718.5,654.5 720,654.4 721.5,655.6 723,655.3 724.5,654.1 726,655.1 727.5,655.4 729,654.5 730.5,655.2 732,654.3 733.5,653.2 735,656.3 736.5,657.1 738,654.8 739.5,655.1 741,653 742.5,648.7 744,646 745.5,644.7 747,643.9 748.5,644.5 750,644.9 751.5,649.2 753,658.3 754.5,666.3 756,681.5 757.5,690.7 759,691.4 760.5,694.2 762,697.6 763.5,702.6 765,709.4 766.5,714.8 768,715.7 769.5,716.5 771,718.6 772.5,720.5 774,720.2 775.5,726.7 777,739 778.5,760.8 780,769.7 781.5,776.8 783,798.5 784.5,821.7 786,831.9 787.5,842.6 789,853.8 790.5,865.8 792,876.8 793.5,885.7 795,894.1 796.5,906.3 798,922.7 799.5,938.6 801,953.7 802.5,969 804,978.4 805.5,987.4 807,989.9 808.5,991.7 810,994.7 811.5,998.8 813,1001.7 814.5,1002.7 816,1004.5 817.5,1005.1 819,1005.6 820.5,1007.2 822,1008 823.5,1011.6 825,1014.4 826.5,1012.6 828,1012.4 829.5,1014.2 831,1015.3 832.5,1016.6 834,1016 835.5,1015.2 837,1015.1 838.5,1013.6 840,1013 841.5,1013.8 843,1015.9 844.5,1018.2 846,1019.3 847.5,1022 847.5,1025 846,1026.6 844.5,1029 843,1030.9 841.5,1029 840,1027.1 838.5,1029 837,1029.1 835.5,1028.1 834,1028.6 832.5,1027.9 831,1027.9 829.5,1027.8 828,1027.2 826.5,1028 825,1029.1 823.5,1027.5 822,1027.1 820.5,1028.8 819,1028.2 817.5,1027 816,1027.1 814.5,1026.2 813,1025.5 811.5,1025.2 810,1025.3 808.5,1024 807,1022.2 805.5,1021.9 804,1017.6 802.5,1014.3 801,1012.6 799.5,1010 798,1004.9 796.5,998.1 795,994.1 793.5,991.2 792,986.9 790.5,982.5 789,976.7 787.5,969.8 786,964.2 784.5,955.5 783,944.7 781.5,936.3 780,920.2 778.5,905.9 777,900.4 775.5,894.6 774,889.4 772.5,881.9 771,873.5 769.5,869 768,864.9 766.5,859.9 765,855.6 763.5,851.5 762,847.7 760.5,843.8 759,839.7 757.5,836 756,832 754.5,827.4 753,822.6 751.5,818.3 750,813.4 748.5,809.2 747,805.1 745.5,793.7 744,777.7 742.5,773.4 741,774.4 739.5,774.8 738,776.4 736.5,779 735,780.1 733.5,781.9 732,784.6 730.5,785.7 729,786.1 727.5,786.2 726,789.5 724.5,792.6 723,792.2 721.5,791.5 720,793 718.5,794.7 717,795 715.5,795.8 714,797 712.5,799.4 711,799.4 709.5,798.5 708,799.6 706.5,799.4 705,800.3 703.5,800.7 702,801.5 700.5,802.5 699,801.3 697.5,802.2 696,804.6 694.5,805.2 693,804.7 691.5,802.5 690,802.7 688.5,805.3 687,805.7 685.5,804.1 684,804.9 682.5,806.2 681,807.2 679.5,807.2 678,805.7 676.5,805.2 675,806.9 673.5,808.3 672,808.7 670.5,809.8 669,808.4 667.5,808.1 666,808.6 664.5,809.4 663,809.9 661.5,810.3 660,811.4 658.5,810.4 657,810.9 655.5,811.7 654,810.1 652.5,810.2 651,811.9 649.5,812.4 648,812.3 646.5,812 645,812.1 643.5,813.1 642,812.6 640.5,813.3 639,816.1 637.5,815.7 636,814.7 634.5,816 633,816 631.5,816.1 630,816.4 628.5,817.5 627,818.3 625.5,819 624,818.6 622.5,817.1 621,819.1 619.5,820.1 618,819.3 616.5,819.4 615,820.9 613.5,820.2 612,820.5 610.5,821.7 609,822.3 607.5,824.5 606,824.6 604.5,823.7 603,824.5 601.5,824.1 600,823.9 598.5,825.5 597,826.5 595.5,827.3 594,828.3 592.5,829.9 591,831.2 589.5,830.4 588,828.9 586.5,830.5 585,832.7 583.5,833.2 582,833.9 580.5,835.3 579,836.3 577.5,835.1 576,833 574.5,834 573,835.6 571.5,836.8 570,838.7 568.5,839.1 567,839.1 565.5,838.5 564,838.6 562.5,840.4 561,840.5 559.5,840.9 558,841.6 556.5,842.5 555,842.4 553.5,842.7 552,843.3 550.5,842.6 549,843.4 547.5,843.4 546,842.4 544.5,842.8 543,844.6 541.5,846 540,845.9 538.5,846.2 537,848 535.5,846.9 534,846.7 532.5,849 531,847.6 529.5,846 528,845.5 526.5,846 525,847.2 523.5,849.3 522,849.8 520.5,848.4 519,849.6 517.5,849.8 516,848.7 514.5,850 513,851.4 511.5,849.8 510,850.9 508.5,852.9 507,851.7 505.5,851.1 504,852.2 502.5,852.3 501,852.1 499.5,851.4 498,851.1 496.5,851.5 495,851.1 493.5,852.1 492,852.1 490.5,852.1 489,851.3 487.5,852.3 486,853 484.5,852.1 483,853.4 481.5,852.8 480,850.7 478.5,851.5 477,851.7 475.5,850.3 474,849.3 472.5,850.2 471,851.5 469.5,851.1 468,851.6 466.5,849.7 465,848.3 463.5,849.8 462,849.8 460.5,848.9 459,848.1 457.5,846.9 456,846.2 454.5,846.9 453,847.9 451.5,846.8 450,845.2 448.5,845.4 447,845.1 445.5,844.9 444,845 442.5,843.6 441,843.4 439.5,843.2 438,842.7 436.5,844.1 435,845.5 433.5,844.2 432,841.9 430.5,840.2 429,840 427.5,841.4 426,841.1 424.5,839.8 423,838.6 421.5,840.1 420,840.3 418.5,839.3 417,840.3 415.5,839 414,838.7 412.5,839.2 411,838 409.5,838 408,836.9 406.5,835.1 405,834.1 403.5,834.8 402,835.7 400.5,835.5 399,835.2 397.5,835.6 396,837.1 394.5,837.5 393,836.9 391.5,836.5 390,836.6 388.5,837.6 387,838.7 385.5,839.1 384,838.7 382.5,837.6 381,838 379.5,839.4 378,840.2 376.5,841.3 375,841.7 373.5,840.5 372,841 370.5,841.9 369,841.5 367.5,842.7 366,842.9 364.5,842.3 363,844.2 361.5,844.1 360,842.9 358.5,843.9 357,844.1 355.5,843.6 354,844.1 352.5,844.2 351,845.8 349.5,847.4 348,845.7 346.5,844.7 345,846 343.5,848.1 342,848.2 340.5,846.5 339,847.6 337.5,849.5 336,847.8 334.5,847.7 333,848.7 331.5,848.9 330,849.7 328.5,848.9 327,849.6 325.5,851.1 324,851.3 322.5,852.6 321,853.8 319.5,852.9 318,852.6 316.5,852.2 315,851.1 313.5,852.9 312,852.2 310.5,851 309,852.7 307.5,853.5 306,853.2 304.5,854.1 303,854 301.5,853.9 300,855 298.5,854.3 297,854.3 295.5,854.3 294,854.3 292.5,854.4 291,854.2 289.5,854 288,853.6 286.5,854.7 285,854.6 283.5,853.2 282,853.6 280.5,853.7 279,852.7 277.5,853.5 276,854.3 274.5,853.6 273,853.5 271.5,853 270,851.3 268.5,852.3 267,852.2 265.5,851 264,851.5 262.5,851.1 261,851.6 259.5,851.1 258,850.5 256.5,850.3 255,849.6 253.5,849.5 252,850 250.5,849.5 249,848.1 247.5,849.2 246,850.8 244.5,847.4 243,845.4 241.5,847.5 240,847.3 238.5,850 237,854.6 235.5,856.7 234,858.7 232.5,861.9 231,865.3 229.5,870.3 228,875.2 226.5,879.3 225,882.3 223.5,886.9 222,889.8 220.5,889.5 219,890.3 217.5,890.2 216,891 214.5,893.5 213,895.4 211.5,899.1 210,902.9 208.5,908 207,914 205.5,918.6 204,922.2 202.5,927.3 201,931.2 199.5,934.7 198,940.9 196.5,943.9 195,944.8 193.5,945.5 192,946.4 190.5,948.1 189,948.8 187.5,950.6 186,953.7 184.5,957.6 183,960.6 181.5,963.8 180,967.3 178.5,970.6 177,974.4 175.5,976.7 174,976.7 172.5,977.6 171,979 169.5,979.7 168,982.4 166.5,984.2 165,986.3 163.5,990.9 162,993.3 160.5,996.3 159,997.8 157.5,998.7 156,999.4 154.5,1001.9 153,1004.4 151.5,1004.6 150,1005.3 148.5,1007.6 147,1009.6 145.5,1011 144,1012.7 142.5,1013 141,1015.4 139.5,1017.2 138,1017.1 136.5,1017.5 135,1017.6 133.5,1018.2 132,1019.7 130.5,1020.7 129,1019.7 127.5,1019.7 126,1021.1 124.5,1021.5 123,1021.8 121.5,1022.7 120,1023.3 118.5,1023.5 117,1022.7" fill="#1f77b4" stroke="#1f77b4" stroke-width="2" stroke-linejoin="round"/><path d="M117.1 989h.01M116.8 1024.8h.01M116.8 1023.1h.01M121.5 1023.8h.01M122.9 972h.01M123.3 978.4h.01M123.1 969h.01M123.6 1028.1h.01M125.4 982.5h.01M126.1 1025.4h.01M125.9 1023.8h.01M126.9 984.2h.01M127.3 984.9h.01M129.5 983.3h.01M128.7 991.1h.01M128.9 1023.8h.01M134 958.6h.01M134.9 952.8h.01M135.1 1018.9h.01M136 948h.01M136.1 1021.2h.01M137.4 952h.01M138.6 949.5h.01M138.4 955.9h.01M138.2 956.1h.01M138.6 1018h.01M140.6 966.4h.01M140.6 953.5h.01M141.5 1015.8h.01M143 957.1h.01M142.2 958.1h.01M143.4 946.3h.01M144.5 952h.01M143.9 952.4h.01M145.4 931.4h.01M144.9 1015h.01M146.5 919.9h.01M147.2 1011.4h.01M148 1015.9h.01M150.3 899h.01M150.4 1011.3h.01M153.4 1004.9h.01M152.5 1007h.01M156.5 901.5h.01M156.2 902.3h.01M157.4 911.8h.01M157 1001.4h.01M157 1002h.01M158.2 1000.3h.01M158.6 898.3h.01M159.2 1000.1h.01M160.1 893.5h.01M161.2 894.6h.01M161.7 881.8h.01M162.4 995.3h.01M162 993.9h.01M164.9 989h.01M164.4 991.5h.01M164.8 993.6h.01M165.1 992.6h.01M169.7 830.1h.01M169.1 990.6h.01M169.2 983.1h.01M168.8 986.5h.01M171.7 829.8h.01M172.5 824.2h.01M174.3 821.2h.01M179.1 978.7h.01M178.5 982h.01M178.6 980.9h.01M179.9 809.4h.01M179.9 804.4h.01M180.3 976.4h.01M180 985.5h.01M181.7 970.3h.01M183.5 803.3h.01M183.7 804.7h.01M184 798.9h.01M186.1 960.6h.01M186.1 970.9h.01M187 957.9h.01M187.4 968.6h.01M187.9 954.1h.01M188.2 968.2h.01M186.8 963.6h.01M187.7 966.2h.01M188 952.9h.01M189.3 777.6h.01M188.5 780.4h.01M189.5 776.9h.01M188.3 964.6h.01M189.5 977.5h.01M189.2 958.5h.01M188.9 977.5h.01M189 965.2h.01M189.4 961.3h.01M188.6 955.6h.01M191.1 962.7h.01M190.5 989.3h.01M191.1 963.7h.01M191.1 981.4h.01M189.9 969.4h.01M190.4 959.2h.01M191.3 772h.01M192.1 974.4h.01M191.4 981.8h.01M192.5 949.8h.01M192 993.5h.01M192.4 960.6h.01M194.2 768.7h.01M193.2 768.5h.01M193.3 958.5h.01M193.6 956.7h.01M193.9 950.4h.01M193 971.6h.01M193.2 968.7h.01M192.9 976.6h.01M195.3 763.2h.01M195 975.3h.01M195.4 978.8h.01M194.6 952.7h.01M196.8 750.5h.01M197 962.3h.01M196.1 968.3h.01M196.9 969.3h.01M198.6 754.3h.01M197.9 749.4h.01M198.1 751.9h.01M197.3 751.3h.01M198.7 949.3h.01M199.2 731.8h.01M199.3 944.5h.01M200.3 734.3h.01M203.1 737.8h.01M202.3 739.4h.01M202.5 930.3h.01M203.2 940.9h.01M204.3 733.8h.01M204.2 928.1h.01M203.6 926.1h.01M207.7 930.2h.01M207.3 914.5h.01M208.6 715h.01M209 718.7h.01M207.9 720.4h.01M208.2 909.1h.01M208.4 918.3h.01M209.3 713.3h.01M210.5 931.8h.01M210.3 935.5h.01M209.3 908.2h.01M209.9 935.1h.01M209.8 929h.01M210.4 905.2h.01M211 697.6h.01M210.8 913.8h.01M212.2 902h.01M211.6 903.7h.01M213.6 705.6h.01M212.8 705.1h.01M212.8 909.5h.01M212.3 910.3h.01M213.4 919.9h.01M212.4 896.5h.01M213.3 908.3h.01M214.1 702.7h.01M215.1 680h.01M215.1 696.9h.01M214.9 911.4h.01M214.3 913.3h.01M214.2 914.1h.01M215.2 931h.01M214.1 900.4h.01M216.1 693.4h.01M216.1 932.5h.01M216.3 895.3h.01M215.7 907.9h.01M215.7 901.9h.01M215.9 920.4h.01M215.6 922.4h.01M217.9 669.5h.01M217.8 692.2h.01M217.3 902.9h.01M217.5 895.9h.01M217.6 914.7h.01M218 950h.01M218.1 924.2h.01M217.2 896.1h.01M218 908.5h.01M216.9 929.6h.01M218.8 685h.01M219.5 689.3h.01M218.4 898.9h.01M218.6 918.5h.01M219.7 914.8h.01M218.9 893.8h.01M218.6 895.5h.01M220.2 899.9h.01M220.8 899.5h.01M220.6 893.3h.01M222.3 690.7h.01M222.7 687.7h.01M222.1 686.8h.01M224.2 683.4h.01M224 685h.01M222.8 691.7h.01M222.9 683.1h.01M224 693h.01M223.6 902.6h.01M223.3 893.4h.01M222.9 909.9h.01M223.8 892h.01M223.1 895.6h.01M223.5 902.5h.01M225.3 902.8h.01M224.3 903.9h.01M224.4 892.3h.01M225.5 890.3h.01M224.9 889.8h.01M225 888.4h.01M225.5 908.5h.01M227.2 690.7h.01M225.9 692.9h.01M226.4 881.1h.01M226.7 901.9h.01M226.8 879.9h.01M226.4 881.4h.01M226 898.6h.01M227.2 885.2h.01M227 901.3h.01M226.3 908h.01M226.3 901.6h.01M227.6 690.1h.01M228.3 671h.01M228.3 687.9h.01M228.4 676.5h.01M227.9 685h.01M227.4 875.3h.01M227.8 879.1h.01M228.4 879.6h.01M230 676.4h.01M230.1 690.4h.01M228.8 681.6h.01M229.3 685.5h.01M230 886.3h.01M229.9 874.8h.01M230 887.4h.01M229.4 885.2h.01M229.2 879.3h.01M230.5 670.5h.01M230.9 687.4h.01M230.6 686.9h.01M231.3 680.9h.01M231.7 691.2h.01M230.7 667.2h.01M230.7 876.9h.01M230.5 869.7h.01M232 691.2h.01M232.8 676.1h.01M231.8 899.2h.01M232.2 875h.01M232.8 879.7h.01M232.7 873.9h.01M233.1 883.4h.01M232.2 873.9h.01M232.4 915.6h.01M232.9 865h.01M232.1 910.1h.01M232.1 870.5h.01M233.2 867.2h.01M234.5 687.2h.01M234.4 682.6h.01M234.5 670.2h.01M233.7 690h.01M233.3 861.6h.01M234.7 863.3h.01M236.2 862.3h.01M235.1 860h.01M236 877.9h.01M235.1 863.1h.01M235.6 874.1h.01M237.5 690.9h.01M237.5 854.8h.01M237.2 864h.01M237 867.1h.01M237.7 854.7h.01M236.8 858.3h.01M238.3 683.7h.01M238.8 669h.01M237.8 897.8h.01M238 881.6h.01M237.8 891.3h.01M238.4 905.3h.01M238.3 937.8h.01M239.2 863.3h.01M239 855.5h.01M239 866.1h.01M238.9 890.3h.01M238 869.3h.01M239.9 685.1h.01M239.9 688.2h.01M240.2 690.6h.01M240.5 895.1h.01M239.6 854.3h.01M239.4 863.5h.01M240.6 874.6h.01M239.8 875.5h.01M239.9 869.6h.01M239.5 856.6h.01M239.9 857.1h.01M240.6 881.5h.01M240.6 859.2h.01M239.5 917.9h.01M240.2 855.1h.01M241.1 683.2h.01M241 851.3h.01M241.2 934h.01M241.5 919.5h.01M242.1 882.6h.01M240.8 855.8h.01M241.5 898.5h.01M240.8 873.5h.01M242.2 867.9h.01M241.4 868h.01M241.8 913h.01M241.1 897.9h.01M243.4 679h.01M242.4 896h.01M242.8 873.9h.01M243.7 915h.01M242.4 862.5h.01M243 882.9h.01M243 853.1h.01M242.9 852.6h.01M242.7 885.2h.01M242.7 902.4h.01M242.6 850.8h.01M245.1 683.2h.01M244 875.3h.01M244.4 903.9h.01M244.8 885.1h.01M245 919.5h.01M244 877.4h.01M244.5 935.2h.01M243.9 882.3h.01M244.6 852.1h.01M245.8 689.7h.01M245.6 683.9h.01M245.3 854.4h.01M246.3 858.6h.01M245.7 860.5h.01M246.6 899.3h.01M246.1 884.5h.01M245.5 854.4h.01M245.7 892.5h.01M245.5 875.1h.01M246.4 850.4h.01M245.6 869.7h.01M246.1 866.1h.01M245.9 913.2h.01M245.8 915.8h.01M246.5 919.4h.01M246 874.3h.01M245.7 931.7h.01M245.5 876.6h.01M245.7 881.5h.01M245.5 869.7h.01M247.2 688.9h.01M246.8 864.3h.01M247.2 933.3h.01M247.6 919h.01M246.9 880.1h.01M247.5 851.9h.01M247.5 850.1h.01M247.7 928.4h.01M248.1 869.9h.01M247.4 867h.01M248.1 863.4h.01M247.1 875.4h.01M247.7 871.4h.01M248.9 886.2h.01M248.5 876.4h.01M248.8 877.7h.01M249.4 851.9h.01M249.2 910.6h.01M249.3 859.6h.01M249.5 889.5h.01M248.7 897.2h.01M248.8 861.1h.01M249.5 908.1h.01M248.8 889.1h.01M249 893.5h.01M249.5 884.1h.01M250.9 656.5h.01M250.8 665.1h.01M250.8 671.3h.01M249.8 681.1h.01M249.9 669.7h.01M250.5 867h.01M250 865h.01M251 862.2h.01M250.6 856.4h.01M250.6 859.9h.01M252 668.3h.01M251.6 678.2h.01M252.4 686.3h.01M252 688.1h.01M251.9 681.4h.01M251.9 685.7h.01M251.6 669.7h.01M252.6 867.7h.01M251.8 873.6h.01M252.2 885h.01M252.7 872.3h.01M252 864.3h.01M252 870.8h.01M252.2 869.6h.01M253 661.9h.01M253.9 679.6h.01M254.1 685.2h.01M253.9 654.2h.01M253.8 685.1h.01M253.9 857.9h.01M254.2 892.7h.01M253.1 857.8h.01M252.9 854.3h.01M252.8 860.1h.01M254.7 682h.01M255.4 652.2h.01M255.6 851.8h.01M255 897h.01M255.4 893.3h.01M255.5 889.1h.01M255.3 860.9h.01M254.9 868h.01M254.8 900.6h.01M254.3 851.6h.01M256 677.8h.01M257.2 661.9h.01M257.1 865.5h.01M256.3 882.4h.01M256.5 871.4h.01M257 885h.01M256.8 878.6h.01M256.6 908.5h.01M255.8 867.9h.01M256.1 886.8h.01M256.4 891h.01M256.9 875.3h.01M257.1 909.9h.01M257.2 881.2h.01M256.3 864.2h.01M257.8 677.6h.01M258.2 684.7h.01M258.7 856.1h.01M257.7 868.7h.01M258.4 902.4h.01M258.2 903.8h.01M257.8 890.5h.01M257.4 863h.01M257.3 888.5h.01M257.3 878.1h.01M258.1 876.9h.01M258.1 892.9h.01M257.4 872.1h.01M259.3 895.4h.01M259 889.5h.01M260 876h.01M259.1 852.2h.01M258.9 865.1h.01M259.3 876.9h.01M261.5 681h.01M261.2 674.9h.01M261.6 683.6h.01M260.7 685.3h.01M261.5 687.5h.01M261.5 853.4h.01M262 683h.01M263.2 666.4h.01M262.9 674.7h.01M262.3 659.9h.01M262.6 655.8h.01M262.1 681h.01M261.8 670.6h.01M262.8 870.1h.01M262.8 859.4h.01M262.8 905.9h.01M263.2 885.6h.01M262.6 894.3h.01M263.5 688.2h.01M263.9 897.5h.01M264 908.1h.01M264.6 863.5h.01M263.3 873.9h.01M264.5 859.1h.01M264.3 880.6h.01M264.1 853.7h.01M263.9 877.3h.01M264.1 876.3h.01M264.3 860.2h.01M263.9 892.8h.01M264.6 875.7h.01M265.7 870.4h.01M265.8 857.1h.01M265 868h.01M265.8 872.2h.01M265.3 863.9h.01M265.1 857.9h.01M265.2 908.3h.01M266 895.1h.01M265.4 864.2h.01M266.8 678.1h.01M267.6 677.1h.01M266.4 674.3h.01M267.5 895.4h.01M266.8 856.3h.01M266.4 896.3h.01M267.2 890.8h.01M266.5 903.7h.01M266.6 859.5h.01M267.4 872.1h.01M266.4 889.1h.01M269.2 677h.01M269 678.4h.01M267.8 672.9h.01M267.9 689.1h.01M267.8 862.3h.01M269.1 854.9h.01M268.8 874h.01M268.4 921.8h.01M268.1 872.9h.01M269.2 871.2h.01M268.1 853.4h.01M268.1 871.1h.01M269.2 876.7h.01M268.9 880.9h.01M269 859.1h.01M269.2 863.6h.01M269.2 862.3h.01M268.3 915.3h.01M268.1 882h.01M268.6 859.6h.01M268.3 878.9h.01M268.3 878.7h.01M270.6 687.7h.01M270.7 660.9h.01M270.5 680.2h.01M269.9 681.7h.01M270 906h.01M270.2 868.5h.01M270 892.9h.01M269.3 865h.01M269.3 882.7h.01M269.3 877.4h.01M270.3 943.7h.01M269.9 943h.01M270.1 887.1h.01M269.8 892h.01M270.3 888.8h.01M270.7 862.8h.01M271.4 686.5h.01M270.8 668.9h.01M271.1 662.8h.01M272.1 645.5h.01M270.9 869.1h.01M271.1 881.2h.01M271.7 873.5h.01M271.7 939.1h.01M270.8 925.4h.01M271.2 868.2h.01M271.5 859.7h.01M271.8 856.3h.01M271.6 896.9h.01M271.7 870.4h.01M272.1 867.4h.01M272.1 875.7h.01M273.4 689.2h.01M272.4 669.8h.01M273.1 884.6h.01M273.2 878.3h.01M273.4 884.6h.01M273.1 879.9h.01M272.3 917.2h.01M273.1 882.6h.01M273.2 855.3h.01M273 885.1h.01M272.5 875.3h.01M272.6 865.3h.01M273.2 913.4h.01M273.4 873.5h.01M272.4 917.2h.01M273.4 896.8h.01M272.9 872h.01M273.2 858.8h.01M273.4 861.7h.01M274.6 642.7h.01M275 682.4h.01M274.7 669.7h.01M274.5 639.5h.01M274.5 629.9h.01M274.9 677.5h.01M273.9 683.6h.01M274.3 684.2h.01M273.9 683.8h.01M275.2 896.9h.01M274.6 854.4h.01M274.5 881.9h.01M274.5 868.5h.01M274.3 887.8h.01M274.5 867.7h.01M273.9 863.2h.01M274.7 864.3h.01M276.7 672.5h.01M275.3 663.8h.01M276.2 669.6h.01M275.7 667h.01M275.5 882.3h.01M275.4 868.2h.01M275.3 874h.01M276.1 855.7h.01M276.2 860h.01M276.7 883.8h.01M276.4 860.3h.01M275.5 870.9h.01M277.7 690h.01M278.1 675.5h.01M278.1 689h.01M277.5 861h.01M278.1 916.7h.01M278.1 869.9h.01M277 868h.01M278 861.1h.01M277.4 880.6h.01M276.8 884.2h.01M277.2 883.5h.01M278.1 863.3h.01M277 873.6h.01M278.5 681.2h.01M278.3 669.6h.01M279.2 673.7h.01M279.7 671.8h.01M279.2 687.3h.01M279.7 664.7h.01M279.5 661h.01M279.2 675.8h.01M278.8 668.9h.01M278.5 686.6h.01M279.7 680.9h.01M279.2 876.5h.01M278.6 903.6h.01M279.7 864.2h.01M279.6 856.4h.01M279.6 860.3h.01M278.4 858.7h.01M279.3 910.9h.01M278.7 857.6h.01M279.4 877.6h.01M280.7 641.9h.01M280.2 660h.01M280.4 688.4h.01M280.2 674.5h.01M281.1 685.7h.01M280.5 690.3h.01M280.8 868.9h.01M281 872.3h.01M281 883.5h.01M280.1 902.8h.01M280.7 864.4h.01M282.7 686.8h.01M282.5 678.1h.01M281.5 650.3h.01M282.2 688.3h.01M281.9 689.6h.01M282.7 875.4h.01M282.3 857h.01M282.7 855.1h.01M282.7 894.4h.01M281.5 873.6h.01M283.3 686.6h.01M283.9 682h.01M284 868.8h.01M283.2 864.3h.01M283.1 858.7h.01M283.7 857.2h.01M282.8 871.3h.01M283.6 874.5h.01M285.1 684.1h.01M284.5 684.7h.01M284.9 689.4h.01M285.1 683.3h.01M284.8 870h.01M284.4 876.3h.01M284.8 878.3h.01M287.2 672.7h.01M287.2 657.6h.01M286.7 668.2h.01M286.7 659.5h.01M286.9 678.5h.01M286.4 673.4h.01M287.2 672.5h.01M286.2 866.1h.01M286 867.4h.01M285.9 867.6h.01M287.2 871.3h.01M287.9 657.2h.01M287.9 687.8h.01M287.7 689.8h.01M288 859.3h.01M290.2 683.9h.01M288.8 686.6h.01M290.2 690.5h.01M288.9 930.1h.01M290 896.6h.01M289 937.8h.01M289.3 884.7h.01M289.1 865.4h.01M290.1 919.9h.01M289.2 864.9h.01M290.9 684.7h.01M291.2 690h.01M291.5 858.1h.01M290.6 859.5h.01M290.5 862h.01M291 883.5h.01M291.5 913h.01M291.3 870.7h.01M290.7 860.8h.01M291 908.8h.01M291.4 882h.01M291.3 923h.01M291.7 863.1h.01M290.5 953.9h.01M291.4 931h.01M291.2 894.3h.01M290.7 920.3h.01M291.7 859.1h.01M291 893.8h.01M292.2 670.3h.01M291.8 665.5h.01M292.8 687.7h.01M292.1 901.1h.01M293 876.6h.01M292.1 872.9h.01M293.1 872.3h.01M292.5 858.4h.01M292.5 874.9h.01M291.9 900.9h.01M293 870.6h.01M292.4 931.8h.01M292.1 949.2h.01M292 896.6h.01M292 894.4h.01M292.9 935.2h.01M292.3 890.5h.01M292.6 897.3h.01M292.3 883.5h.01M294.7 682h.01M294.1 684.3h.01M294 690.8h.01M293.3 692.3h.01M294.4 663h.01M294.4 673.7h.01M294.3 653.6h.01M293.9 688.7h.01M293.9 682.8h.01M294.7 892.5h.01M294.5 922.8h.01M293.9 886.3h.01M293.9 889.3h.01M294.4 914.4h.01M294.2 898.9h.01M293.6 875.3h.01M294 873.5h.01M294.7 861.5h.01M293.9 895.7h.01M293.3 901.8h.01M293.4 860.6h.01M294.9 643.6h.01M296.1 682.2h.01M295 658.5h.01M295.7 664.7h.01M295.5 662.9h.01M294.9 647.4h.01M296 657.2h.01M295.5 675.8h.01M295.6 671.8h.01M295.9 672h.01M295.2 684h.01M295.1 877.6h.01M294.8 933.8h.01M295.6 873.6h.01M295.2 873h.01M295.2 891.7h.01M295.4 935.7h.01M295.6 900.9h.01M295.9 893.3h.01M296.1 858.7h.01M295 861.7h.01M295.5 899.8h.01M296.6 667.8h.01M296.8 685.5h.01M297.6 682.2h.01M297.6 675.9h.01M296.7 665.6h.01M296.3 688.6h.01M297.7 856.6h.01M297.4 900.7h.01M297.1 862.1h.01M296.8 857h.01M297.5 912.7h.01M297.3 917.5h.01M297.6 926.9h.01M298.1 691.4h.01M298.8 676.3h.01M298.9 667.5h.01M299 662.6h.01M298.2 665.3h.01M298 687.9h.01M298.9 685.2h.01M298.8 692.4h.01M298.4 654.2h.01M298.3 872.8h.01M299.1 877.8h.01M298.5 904.8h.01M298.6 907.8h.01M298.7 886.9h.01M298.9 881h.01M298.3 966.9h.01M298.3 870.4h.01M297.9 890.6h.01M299.1 859.6h.01M298.4 886.8h.01M299.9 684.4h.01M299.6 662.6h.01M299.5 688.3h.01M299.6 679h.01M300.3 664.6h.01M300.5 688.7h.01M299.7 653.2h.01M299.8 687.4h.01M299.4 683.7h.01M299.6 868.6h.01M300.6 854.6h.01M300.3 861h.01M300.7 879.8h.01M299.5 877.9h.01M299.9 884.5h.01M300.4 870.5h.01M301.7 675h.01M301.6 687.5h.01M301.3 689.4h.01M301 685.5h.01M301.9 687.7h.01M301.8 873.7h.01M301.3 879.8h.01M302.2 889h.01M302.2 864.6h.01M301.8 862.4h.01M301.1 878.3h.01M301.6 865.7h.01M301.8 878.9h.01M302 901.5h.01M301.7 886.2h.01M303.4 687.6h.01M303.4 670.4h.01M302.6 659h.01M302.8 688.9h.01M303.2 683.6h.01M302.7 646.7h.01M302.8 904.5h.01M303.3 867.9h.01M302.3 907.1h.01M303.7 884.2h.01M303.6 871.9h.01M302.8 914.6h.01M303.5 883.7h.01M303.5 873.6h.01M303.3 911.7h.01M302.9 898.2h.01M302.8 957.4h.01M302.6 885.1h.01M303.5 898.9h.01M303.3 910.7h.01M303.7 872.4h.01M303.2 882.9h.01M302.3 899.8h.01M302.6 875.4h.01M302.3 856.9h.01M303.9 695.7h.01M304.3 681.1h.01M304 684.9h.01M303.8 864.9h.01M304.3 895h.01M305.2 884.2h.01M304.3 940.5h.01M304.4 856h.01M304.7 878h.01M303.8 860.2h.01M304.6 901.7h.01M304.7 891.8h.01M305.3 693h.01M306.7 684.4h.01M305.9 696.1h.01M305.6 887.5h.01M306.6 865.4h.01M305.4 856.6h.01M306.7 873h.01M306.7 854.8h.01M306 859.2h.01M305.7 861.7h.01M308.1 691.6h.01M308.2 656h.01M307.2 673.7h.01M306.9 685.1h.01M306.8 686.1h.01M307.6 858.4h.01M308 859.4h.01M308.2 873.2h.01M307.4 894.9h.01M307.4 863.5h.01M308 868.7h.01M307.9 926.5h.01M307.8 896.6h.01M308 871.3h.01M308.1 882.5h.01M306.8 877.6h.01M307.6 879.1h.01M307.1 938.1h.01M308.8 687.6h.01M308.9 689.3h.01M309.5 698.1h.01M309.6 914.3h.01M309.5 939.9h.01M308.8 871.2h.01M309.1 895.6h.01M309.4 917.2h.01M309.2 964.6h.01M309.3 907.3h.01M308.6 936.6h.01M309.3 863.8h.01M309.4 917.6h.01M309 930.6h.01M309.1 854.2h.01M308.9 944.3h.01M309.2 893.5h.01M309.6 957.3h.01M308.3 856.9h.01M309.4 863.6h.01M309.3 864.8h.01M308.9 927.3h.01M308.6 926.9h.01M309.2 898.2h.01M309.4 927.7h.01M308.5 895h.01M309.1 934.8h.01M309.4 893.3h.01M308.6 860.1h.01M310.7 663.2h.01M309.8 869h.01M311.1 883.9h.01M310.9 930.7h.01M310.5 876.1h.01M311.2 963.6h.01M310.3 932.8h.01M310 875.9h.01M309.9 886.2h.01M310.8 914h.01M310.2 860.3h.01M310.1 882h.01M311 861h.01M311.1 866.6h.01M310.3 858.9h.01M310.3 862.6h.01M310.5 861.4h.01M310.4 946h.01M311.1 962.4h.01M310.5 927.6h.01M310.1 947.4h.01M309.8 854.5h.01M312.3 691.9h.01M312.3 694.3h.01M312.7 932.7h.01M312.2 965.1h.01M312 891h.01M311.4 854.7h.01M312 862.9h.01M312.5 922.8h.01M311.5 968.7h.01M312.6 864h.01M311.6 903.4h.01M311.4 917.6h.01M312.4 864h.01M311.5 875h.01M312.6 891.8h.01M311.6 948.3h.01M311.4 877.4h.01M312.2 927.7h.01M311.3 864.2h.01M311.4 872.8h.01M312.1 871.4h.01M312.4 880.3h.01M313.1 683.5h.01M313.2 698.4h.01M314.2 699.1h.01M312.8 700.7h.01M313.7 879.1h.01M313.7 922.3h.01M313 857.5h.01M313 945.8h.01M312.8 901.1h.01M313.3 871.8h.01M313.7 906.5h.01M312.9 895.5h.01M313.5 868.9h.01M313 953h.01M314 871h.01M312.9 854.9h.01M315.4 697.8h.01M315.1 887.1h.01M315.7 853.6h.01M315 864.2h.01M314.8 869.3h.01M315.5 921h.01M314.5 868.1h.01M315.4 883.8h.01M315.1 853.7h.01M315.7 878.7h.01M314.3 863.8h.01M314.7 856.8h.01M315.6 881.2h.01M316.6 699.9h.01M316.9 685.9h.01M317.1 680.2h.01M316.3 695.3h.01M316.3 890.4h.01M316.8 856h.01M316 870.2h.01M315.8 860.4h.01M316.5 904.8h.01M316.9 868.1h.01M316.1 858.8h.01M317.1 863.2h.01M318.2 688.5h.01M318.6 693.2h.01M318.2 691h.01M317.7 686.1h.01M318.5 696.5h.01M318.1 695.4h.01M318.5 690.2h.01M318.1 698h.01M318 861.6h.01M317.4 854.1h.01M318.5 856.1h.01M320.1 693.9h.01M318.9 697h.01M320.1 859.7h.01M319.5 853.4h.01M319.8 855.5h.01M319 858.8h.01M321.6 685.2h.01M320.3 686h.01M320.8 700.4h.01M320.8 863.9h.01M321.2 857.3h.01M320.4 858.1h.01M321.4 868.6h.01M321.6 855.3h.01M321.6 855.1h.01M322.5 693.7h.01M323 686.5h.01M322.7 856.5h.01M323.2 859h.01M322.8 851.7h.01M322.2 862.3h.01M324 690.4h.01M323.8 699.5h.01M324.5 884.8h.01M324.4 860.3h.01M324.4 864.7h.01M323.8 863h.01M323.8 854.3h.01M324.2 854.2h.01M323.4 873.6h.01M324.3 855.8h.01M325.4 699.1h.01M326.1 695h.01M325.7 879.9h.01M326.2 879.7h.01M325.3 868.9h.01M324.8 898.5h.01M325 852h.01M325.9 868.6h.01M325 855.8h.01M325.6 854.8h.01M326.3 853.7h.01M327 862.6h.01M326.9 885.7h.01M327.3 889.1h.01M328.5 689.2h.01M329 874.5h.01M328 861.9h.01M328.1 889h.01M328.6 851.6h.01M328.8 881.6h.01M329.6 695.7h.01M330.3 686h.01M329.3 880.2h.01M329.7 853h.01M330.2 895.7h.01M330.6 884.6h.01M329.6 868.7h.01M330.3 886h.01M329.6 867.9h.01M330.7 859.6h.01M329.6 879.6h.01M331.4 693.5h.01M331 865.1h.01M331.4 851.4h.01M330.8 856.2h.01M331.2 860.8h.01M331.6 850.4h.01M330.9 877.8h.01M331.4 893.5h.01M331.5 864.5h.01M333.6 868.7h.01M332.7 853h.01M335 688h.01M334.2 885.3h.01M334.8 858.2h.01M333.8 874.9h.01M334.6 882.5h.01M334.1 875.6h.01M334.8 880.4h.01M333.9 853.7h.01M335.1 911.7h.01M335.7 685.4h.01M335.6 684.3h.01M336.6 693.9h.01M336.2 859.6h.01M335.7 854.6h.01M336.3 878.4h.01M336.1 861.4h.01M336.2 893.8h.01M337.9 683.6h.01M337.9 671.7h.01M338.2 679.8h.01M338 692.6h.01M338.2 687.4h.01M337.7 685.6h.01M337.5 667h.01M338.2 868.3h.01M336.8 885.8h.01M337.9 875.6h.01M337.5 872.4h.01M337.7 859.9h.01M337.6 884.4h.01M338 854.4h.01M338.8 653.5h.01M339.3 673.6h.01M339.2 676.2h.01M339.7 691.2h.01M338.5 686.8h.01M339.2 906.9h.01M338.4 853.1h.01M339.8 686.6h.01M340.4 681h.01M340.8 671.7h.01M340 690.9h.01M340.1 689.7h.01M340.3 668.6h.01M340.9 874h.01M339.9 869.5h.01M341.3 666.1h.01M341.4 649.9h.01M342.7 649.6h.01M341.4 662.6h.01M342.2 856h.01M341.5 878.1h.01M341.6 853.6h.01M342.2 861.5h.01M342.4 861.2h.01M344.2 662.7h.01M343 671.9h.01M343.6 688.4h.01M343.4 678.9h.01M343.8 689h.01M343.8 679h.01M343.1 861h.01M343.8 919.2h.01M343.4 871.9h.01M343.7 847.7h.01M342.9 901.2h.01M344.2 873.9h.01M344.5 661.9h.01M345.4 639.7h.01M344.6 661.5h.01M345.1 660.3h.01M345.4 684.5h.01M345.7 881.4h.01M344.5 876.9h.01M345.1 882.8h.01M345 879.7h.01M344.5 865.6h.01M345.2 930.6h.01M344.6 907.7h.01M345.6 910.9h.01M345.5 875h.01M345 855.2h.01M344.6 865.1h.01M344.5 847.4h.01M344.6 902.4h.01M345 855.3h.01M345.1 849.9h.01M344.5 896.6h.01M345.4 869.4h.01M346.5 682h.01M347.1 686.8h.01M347 684.3h.01M346.2 684.3h.01M346.8 680.7h.01M347.2 685.4h.01M347.2 856.9h.01M346.6 935.8h.01M346.2 850h.01M346.7 941.1h.01M346.7 870.1h.01M346.5 911.7h.01M346.4 880.3h.01M345.9 930.8h.01M346.9 882h.01M345.8 922.5h.01M345.8 900.7h.01M346.7 888h.01M347.1 907.3h.01M348 677.9h.01M348.6 660.2h.01M348.3 664.7h.01M347.6 661.9h.01M347.4 650.9h.01M348.1 678.9h.01M348.7 681.4h.01M347.9 676.4h.01M347.7 912.5h.01M348.3 870.4h.01M348.3 909.2h.01M347.7 874.8h.01M347.8 864.8h.01M347.7 886.1h.01M347.6 849.2h.01M348.2 910.5h.01M348.5 880h.01M348.3 936.8h.01M348.7 852.9h.01M348.7 872.1h.01M348.7 903.7h.01M348.4 865h.01M347.8 930.8h.01M348.4 866.7h.01M348.7 909.6h.01M347.7 885.7h.01M347.8 915h.01M347.3 908.4h.01M349.5 677h.01M350.2 677.9h.01M348.9 672.7h.01M349.2 660.1h.01M348.8 672.9h.01M348.8 670.9h.01M350 684.1h.01M350.1 850.9h.01M350.1 932.2h.01M348.8 852.6h.01M349.1 927.5h.01M349.4 869.6h.01M349.7 888.9h.01M350 930.5h.01M350.1 870.5h.01M350.1 864.9h.01M349.6 896.7h.01M349.9 871.8h.01M350.1 858.4h.01M349.9 859h.01M349.4 901.4h.01M350 948.1h.01M349.7 874.7h.01M349.2 870h.01M351.1 679.3h.01M351.7 644h.01M351.5 884.5h.01M350.6 933.8h.01M350.5 858.3h.01M351.4 871.6h.01M350.8 847.9h.01M350.6 869.6h.01M351 848.3h.01M351.3 934.2h.01M351 930.5h.01M351.5 848.7h.01M350.8 898.2h.01M351.5 872.4h.01M351.6 906.7h.01M351.1 895h.01M351.3 891.7h.01M351.1 901.3h.01M350.7 851.2h.01M350.6 874.7h.01M351.3 849.8h.01M350.5 871.3h.01M350.9 881.9h.01M350.8 897.6h.01M351.6 876.1h.01M351.1 888.7h.01M350.6 852h.01M350.9 847.9h.01M353.1 672.3h.01M353.1 949.1h.01M352.9 888.6h.01M353 851.6h.01M353.2 869.6h.01M352.7 848.4h.01M353.1 880.1h.01M353.2 854.6h.01M351.9 895.4h.01M351.8 922h.01M352.9 858.2h.01M352.6 876.3h.01M352.1 888.9h.01M352.8 889.8h.01M353.4 677h.01M353.3 916h.01M353.5 912h.01M353.9 850.6h.01M354.2 853.9h.01M353.6 850.8h.01M353.9 877.2h.01M354.7 846.9h.01M353.9 926.1h.01M354 876h.01M354 878.5h.01M354.6 894.7h.01M353.5 886.9h.01M354 912.1h.01M354.5 850.9h.01M354 909h.01M355.8 680.5h.01M354.8 679.9h.01M355.2 914.1h.01M356.1 853.1h.01M355.5 847.4h.01M354.8 858.4h.01M355.9 866.2h.01M356.2 877h.01M355 860.2h.01M356.1 924.9h.01M355.7 890.2h.01M355.7 850.1h.01M357 672.1h.01M356.5 880.3h.01M356.9 931.6h.01M357.6 856h.01M357.1 890.6h.01M356.7 847.3h.01M357 870.3h.01M357.3 867.6h.01M356.4 928.1h.01M357.3 870.6h.01M356.9 913.8h.01M357.6 860.7h.01M357.5 866.7h.01M357.4 894h.01M356.3 868.1h.01M357.1 871.9h.01M356.3 859.8h.01M357.9 899.1h.01M358.6 853.5h.01M357.9 865.6h.01M359 888.9h.01M358.4 909.6h.01M358.2 904.1h.01M358.1 900.9h.01M358.1 938.8h.01M358 886.5h.01M358.7 845.3h.01M358 865.9h.01M358.6 910.2h.01M359.1 860.9h.01M358.9 875.3h.01M358.6 871.2h.01M358.4 875.7h.01M358.3 859.8h.01M360.1 675.5h.01M360.4 679.2h.01M360.4 847.8h.01M360.1 864.9h.01M360 889.5h.01M360.7 855.9h.01M359.4 870.7h.01M359.3 899.9h.01M360 875.7h.01M359.4 857.2h.01M359.6 855.4h.01M359.4 846.8h.01M360.7 887.8h.01M360 932h.01M359.6 873h.01M359.7 860.4h.01M360.9 677h.01M362 679.9h.01M361.1 852h.01M360.9 859.7h.01M360.8 905.4h.01M361.3 914.7h.01M361.5 846h.01M361.6 857.4h.01M361.5 909.2h.01M362 865.4h.01M361 858.4h.01M362.6 666.5h.01M363.3 668.4h.01M362.8 679.3h.01M363.3 858h.01M365.2 675.2h.01M365.2 670.9h.01M364.4 665.6h.01M364.8 654h.01M364.6 856.7h.01M364.4 942.5h.01M364 854.4h.01M365 847.3h.01M364.9 854.5h.01M364.7 904.2h.01M364.4 868.2h.01M364 856.7h.01M365.9 927.5h.01M365.6 881.5h.01M366.3 861.8h.01M366.4 861.1h.01M366.7 883h.01M366.7 915.4h.01M365.6 891.1h.01M365.8 876.7h.01M366.4 859.8h.01M365.3 934.8h.01M366.5 845.1h.01M366.2 846.8h.01M365.7 903.5h.01M366.6 884.5h.01M365.9 855.2h.01M365.6 872.2h.01M366.5 860.2h.01M366.6 844.9h.01M365.5 931.6h.01M367.3 646h.01M367.2 668.5h.01M368.1 663.2h.01M367.8 651.4h.01M367.7 665.5h.01M367.5 659.4h.01M367.2 676.3h.01M367.4 666.1h.01M367.6 886.7h.01M366.9 853.5h.01M367.4 875.7h.01M367.2 844h.01M367.8 875.2h.01M367.1 878.6h.01M367.3 920.4h.01M367.1 869.8h.01M368.2 854.3h.01M366.9 875.6h.01M368.8 670.6h.01M369.2 655.6h.01M369 848.7h.01M369 847.5h.01M369.7 866.1h.01M369.5 842.5h.01M370.7 679.1h.01M370.1 848.3h.01M369.8 861h.01M371.9 677.4h.01M372.3 844.5h.01M371.5 845h.01M374.2 677.9h.01M374.1 678.7h.01M373.1 859.1h.01M373.7 891.1h.01M373 843.4h.01M374 868.9h.01M374 863.4h.01M373.6 866.1h.01M373.1 847h.01M374.6 677.2h.01M374.9 674.6h.01M374.8 671.8h.01M374.6 676h.01M374.7 853.8h.01M375.1 872h.01M374.5 880.7h.01M375.6 869.3h.01M375.1 855.8h.01M376.2 662.5h.01M376.9 660.3h.01M376.4 649.2h.01M376.3 676.4h.01M376.2 669.5h.01M376.2 677h.01M376.8 843.5h.01M376.3 855.2h.01M376.7 846h.01M376.1 846.6h.01M378.6 676.2h.01M378.5 662h.01M378.5 673.8h.01M378.6 851.6h.01M378.6 841.5h.01M379.8 676.1h.01M379.5 673.2h.01M379.5 666.3h.01M379.8 668.1h.01M379.2 864.3h.01M378.8 853.7h.01M379.8 842.2h.01M380.1 865.5h.01M380.7 677.5h.01M381 677h.01M380.9 855.3h.01M380.5 855.8h.01M381.1 845.3h.01M380.5 840.3h.01M380.9 847h.01M382.9 676.6h.01M382.2 888h.01M382.4 846h.01M383 888.1h.01M382.2 912.3h.01M383 892.3h.01M381.8 884.7h.01M381.9 852.3h.01M382.3 876.5h.01M382.8 865.1h.01M382.1 855.6h.01M383.2 844.4h.01M382.6 885.5h.01M381.9 905.7h.01M382.1 843.6h.01M383 890.9h.01M381.9 874.9h.01M384.5 854.4h.01M383.3 855.8h.01M384.3 850.1h.01M383.3 844.3h.01M383.3 874.8h.01M384.4 863.3h.01M383.6 841.1h.01M384.1 851.4h.01M384.6 850.7h.01M383.5 847.5h.01M385.8 676.7h.01M386.2 862.6h.01M385 849.7h.01M385.9 881h.01M384.9 846.5h.01M385.5 846.4h.01M384.8 841.8h.01M387.2 645.9h.01M387.4 653.2h.01M386.4 665.7h.01M387.3 667.2h.01M387.2 844.9h.01M387.1 839h.01M387.2 858.1h.01M387.2 839.3h.01M387.6 847.7h.01M388.8 672.6h.01M387.8 668.4h.01M388.9 660.7h.01M388.8 888.9h.01M388.8 848.2h.01M387.8 848.7h.01M388.4 876.3h.01M388.6 847.8h.01M389.2 853.1h.01M389 848.9h.01M388.1 876.4h.01M388.2 866.8h.01M389.4 662.3h.01M389.3 671.2h.01M390.6 664.4h.01M390.4 874.6h.01M390 857.5h.01M390 853.2h.01M389.3 848.3h.01M389.3 861.6h.01M389.9 840.9h.01M389.4 874.5h.01M391.8 675.1h.01M391.4 669.8h.01M390.8 668.2h.01M390.8 843h.01M392.1 859.5h.01M392.2 884.1h.01M391.2 852.3h.01M391.2 874.3h.01M391.7 904.5h.01M391.4 928.4h.01M391.5 875.5h.01M392 846.2h.01M392.8 649.1h.01M392.5 669.5h.01M392.4 657.1h.01M392.7 657.1h.01M392.8 675.7h.01M392.3 647.2h.01M393.2 672.4h.01M393.3 876h.01M393.3 847.5h.01M393.7 926.8h.01M392.8 884.6h.01M393.3 852.1h.01M392.8 888.7h.01M393.1 885.9h.01M392.3 837.8h.01M393.5 883.3h.01M392.5 882.5h.01M393 880.4h.01M392.5 861.3h.01M393.7 866.7h.01M393.3 871.1h.01M393.5 889.3h.01M393.9 674.7h.01M395 666.3h.01M394.2 672.8h.01M394.3 659h.01M394.9 862h.01M394 843.2h.01M395.2 899.5h.01M394.5 922.8h.01M394.5 854.4h.01M394.8 845.4h.01M395 839.6h.01M394.2 874.3h.01M394.9 851h.01M395 873.3h.01M394.3 842.6h.01M394.4 864h.01M395.1 886.4h.01M394.3 864.5h.01M395.8 668.7h.01M396.5 666.9h.01M396 662.9h.01M395.6 658.5h.01M395.5 858.8h.01M396.5 849.6h.01M396.2 841.7h.01M395.6 902.5h.01M396 854.7h.01M396.5 892.7h.01M396.7 842.6h.01M396.7 847.1h.01M397.7 670.1h.01M398.2 672.9h.01M397.9 658h.01M397.4 842.7h.01M396.8 862.8h.01M397 877.3h.01M397.1 852.2h.01M397 865.9h.01M397.6 865.2h.01M397 842.8h.01M396.9 849.9h.01M396.9 846.2h.01M399.6 674.9h.01M398.5 666h.01M398.8 664.2h.01M399.4 674.2h.01M399.6 670.7h.01M398.6 852.1h.01M399.7 891h.01M399 859.5h.01M398.8 842.1h.01M398.3 840.8h.01M398.8 861.4h.01M399.5 838.2h.01M399.5 880.3h.01M399.7 880.3h.01M398.5 847.8h.01M398.3 844.3h.01M398.5 844.7h.01M398.4 867.7h.01M399.5 881.2h.01M398.7 868.4h.01M399.5 838.3h.01M398.7 901.3h.01M398.4 839.3h.01M400.6 667.1h.01M399.9 664.5h.01M400.7 673.1h.01M401.2 655.2h.01M400.7 673.5h.01M399.9 649h.01M400.6 672.7h.01M400 644.3h.01M401.2 838.8h.01M399.9 847.5h.01M400.5 846.9h.01M400.2 859.3h.01M400.7 880.2h.01M401 897.4h.01M400.1 867h.01M399.9 838.5h.01M400.3 870.1h.01M402.1 654.2h.01M402.1 665.7h.01M401.6 665.8h.01M402.3 669.7h.01M401.8 847.9h.01M401.7 845.4h.01M402.4 855.8h.01M401.7 844.6h.01M402.6 841h.01M402.5 864.5h.01M404.1 671.8h.01M404 634.3h.01M403 660.3h.01M402.8 672.6h.01M403.7 662.5h.01M403.5 867.7h.01M403.5 874.3h.01M404.2 892.6h.01M403 883.8h.01M404.5 672h.01M405.1 660.7h.01M405.6 675.3h.01M405.6 669.7h.01M404.4 671.1h.01M405.2 859h.01M405.4 849.2h.01M404.3 838.9h.01M404.4 860.9h.01M405.4 856.6h.01M405.4 849.8h.01M406.1 645.8h.01M406.9 671.5h.01M406.2 642.6h.01M407.1 627.7h.01M407.2 673.9h.01M406.2 642.5h.01M406.7 650h.01M406.8 630.8h.01M406.1 657.2h.01M405.9 849.1h.01M406.3 838.8h.01M405.9 845.5h.01M406.3 838.1h.01M407.1 847.6h.01M407 844.7h.01M406.5 850.9h.01M408.2 669.6h.01M407.5 661.5h.01M407.5 662h.01M408.2 670.9h.01M408.3 667.3h.01M408.5 852.5h.01M408 840.8h.01M407.5 870.2h.01M408.7 870.4h.01M408.5 872.5h.01M408.8 673.1h.01M409.3 673.7h.01M409.9 667.8h.01M409.6 668.2h.01M409.9 921.1h.01M409.9 873.3h.01M409.9 862.1h.01M409.5 839.4h.01M409.5 856.5h.01M409 913.1h.01M410.1 883.2h.01M409.3 923.4h.01M409.8 904h.01M410.1 865.2h.01M409.6 854.9h.01M410.9 896.2h.01M411.3 907.3h.01M411.4 874.3h.01M410.6 853.4h.01M410.7 921h.01M410.8 943.3h.01M411.6 867.1h.01M411.5 913.1h.01M411.2 847.7h.01M410.8 851.6h.01M410.7 935.3h.01M410.8 886.4h.01M410.8 914.2h.01M410.9 853.4h.01M410.9 887h.01M410.8 884.4h.01M411.4 903.6h.01M411.6 853.3h.01M411.6 927.6h.01M410.5 906.6h.01M411.1 898.5h.01M413 659.8h.01M411.9 867.9h.01M412 845.4h.01M412.3 855.3h.01M412.9 874.6h.01M412.3 852.4h.01M411.8 849.4h.01M412.4 855.7h.01M412.4 902.4h.01M412.1 839.7h.01M412.3 840.4h.01M412.5 844.5h.01M412.5 881h.01M412.7 861.8h.01M414.2 673.5h.01M413.6 664.8h.01M413.5 662.9h.01M413.9 846.8h.01M414.3 839.9h.01M414.3 840.1h.01M414.2 920.7h.01M414.1 870.6h.01M416 667.9h.01M415.7 665.7h.01M415 848.1h.01M415.2 858.7h.01M416 843.4h.01M416 867.7h.01M415.8 855h.01M417.2 672.3h.01M416.9 664.8h.01M417.6 655.3h.01M417.7 863h.01M416.9 863.4h.01M416.9 862h.01M417.4 874.8h.01M417.7 886.4h.01M416.7 846.7h.01M416.6 842.8h.01M417.5 898.7h.01M416.7 926.4h.01M416.5 868.8h.01M417.1 844.2h.01M416.7 882.5h.01M416.4 888.7h.01M417.2 859.3h.01M418.8 670.9h.01M418.5 879.5h.01M419.1 908.1h.01M419 899.4h.01M418.6 914.6h.01M418.4 888h.01M417.8 890.1h.01M418.8 850.1h.01M418.9 862h.01M418.6 901h.01M418.9 895.5h.01M418.5 871.1h.01M418.1 918.5h.01M419.2 887.1h.01M417.9 878.7h.01M420.1 665.7h.01M420.2 667.4h.01M419.9 676.6h.01M420.7 860.7h.01M419.8 865.7h.01M420.1 880.2h.01M419.7 873h.01M419.7 889.3h.01M420.4 926.8h.01M420.5 874.1h.01M420.2 851.3h.01M422.1 641.6h.01M421.4 665.5h.01M422.2 665.3h.01M421.3 876.2h.01M421.4 861.4h.01M421.7 894.2h.01M421.2 913.7h.01M421.2 853.7h.01M421.9 845.6h.01M421.2 872h.01M422 853.4h.01M421.3 890.2h.01M421.8 863.8h.01M420.8 852.4h.01M421.6 864.5h.01M421.4 850.1h.01M421.9 930.7h.01M421.7 931.1h.01M422.4 654.7h.01M422.9 677.6h.01M423.7 675.3h.01M422.7 663.9h.01M423.6 654.1h.01M422.5 647.4h.01M423.6 650.5h.01M422.3 651.2h.01M422.5 893.6h.01M422.7 846.6h.01M423 850.3h.01M422.9 894.7h.01M422.6 853h.01M423 880h.01M423.7 845.1h.01M423 842.7h.01M423.5 852.6h.01M423.5 854.3h.01M423.9 635.1h.01M424.5 654h.01M424.7 642.5h.01M424.7 676.4h.01M425 651.3h.01M424.1 893.8h.01M424.1 879.5h.01M425 861.2h.01M425 861.2h.01M425 848.2h.01M424.3 852h.01M423.9 857.2h.01M424.6 873.9h.01M425.2 862.8h.01M424.6 862h.01M426.6 665.9h.01M426.6 658.5h.01M426.6 652.8h.01M426.1 661.4h.01M426 673.7h.01M425.6 655.9h.01M426.4 659.2h.01M426.1 649.6h.01M425.9 663.1h.01M425.3 677.1h.01M426.4 867.3h.01M425.3 854h.01M426.7 853.3h.01M426.7 844.8h.01M426.5 848h.01M425.4 875h.01M426.2 842h.01M427.6 659.6h.01M427.5 648.7h.01M428.1 663.9h.01M427.2 645.2h.01M426.9 653.5h.01M427.3 678.4h.01M427.2 656.6h.01M427.1 671h.01M427 855.5h.01M427.3 865.2h.01M427.1 862.9h.01M427.5 876.2h.01M427.8 888.7h.01M427.1 858h.01M427.8 887.8h.01M427.5 899.7h.01M427.9 856.6h.01M427.9 897.5h.01M428.2 867.1h.01M427.8 870.9h.01M429.4 671.5h.01M428.7 656h.01M429.2 661.7h.01M428.5 669h.01M429.2 666.7h.01M429.2 659.3h.01M429.3 676h.01M428.9 850.2h.01M428.3 865.8h.01M429.4 857.6h.01M428.9 844h.01M429.5 867.8h.01M429.6 883.2h.01M431 655.7h.01M430.6 648.4h.01M430.7 915.9h.01M430.1 855.2h.01M431.1 847.5h.01M430.8 856.9h.01M430.6 884.4h.01M431.2 867.8h.01M430.3 851.4h.01M431.9 670.1h.01M431.8 668.8h.01M432.3 673h.01M432.7 673.1h.01M432.5 876.8h.01M431.5 881.7h.01M431.4 880.4h.01M431.8 916.2h.01M431.3 859.5h.01M432.2 852.9h.01M432.2 872.4h.01M432.3 889.9h.01M432.5 845.2h.01M431.7 881.7h.01M431.3 848.1h.01M431.5 863.5h.01M432.5 880.1h.01M433.2 679.8h.01M434 664.2h.01M434.2 676h.01M432.9 854.4h.01M433.6 870.1h.01M433.3 880.3h.01M433.4 851.1h.01M433.2 858.9h.01M432.9 853.8h.01M433.9 895.8h.01M433.3 879.6h.01M432.9 895.8h.01M433.1 892.5h.01M432.8 882.7h.01M434.1 874.2h.01M433 910.7h.01M434.2 870.2h.01M434.2 894.4h.01M435.3 675h.01M435.3 640h.01M434.3 674.6h.01M435.2 666.3h.01M434.4 670.1h.01M435.6 657.8h.01M435.1 659.1h.01M434.5 647.3h.01M434.3 892.1h.01M435.4 888.4h.01M435.2 848.7h.01M435.2 884.9h.01M434.7 869.6h.01M435.2 897.4h.01M435.4 888.1h.01M435.5 879.2h.01M434.4 847.4h.01M435.6 850.4h.01M435.3 867.9h.01M435.1 844.9h.01M435.4 902.4h.01M435.4 851.8h.01M435.1 916h.01M436.5 667.1h.01M436.8 651.3h.01M436.2 674.3h.01M435.8 665.7h.01M436.8 635.6h.01M436.4 658.4h.01M437 652.9h.01M435.8 656.7h.01M436.9 664.7h.01M436.2 665.9h.01M437.1 889.2h.01M436.6 852.9h.01M436.1 873h.01M437 861.1h.01M436.2 867.4h.01M436.7 886.1h.01M436.9 877.5h.01M436.3 885.4h.01M436.1 911h.01M435.9 868.8h.01M437.1 889.3h.01M435.8 845h.01M437 843.9h.01M437.2 896.9h.01M436.4 906.3h.01M437.5 674.9h.01M438.6 671.7h.01M437.4 672.8h.01M438.6 673.5h.01M438.4 670h.01M437.3 865.8h.01M437.8 851.3h.01M438.7 850.9h.01M437.6 870.8h.01M437.4 882.3h.01M437.7 904.2h.01M438.4 878.8h.01M438.4 848.8h.01M437.4 860.2h.01M437.9 903.4h.01M437.9 881.1h.01M439.9 860.8h.01M439.9 847.4h.01M439.6 872.1h.01M439.7 856.8h.01M441 849.4h.01M441.5 854.7h.01M442.8 679h.01M442.1 848.7h.01M442.9 848.7h.01M444.1 666.8h.01M444 667.8h.01M444.1 672.4h.01M444.2 666.1h.01M444.6 847.7h.01M443.3 859h.01M444.1 855.8h.01M446.1 677.5h.01M445.2 677.4h.01M445.1 678.7h.01M446.1 855h.01M445.3 846.6h.01M446 846.4h.01M447.7 672.5h.01M447.2 676.7h.01M446.5 863.1h.01M447 860.1h.01M447.6 847.7h.01M446.8 850.4h.01M448.9 680.3h.01M448.5 673.5h.01M447.9 676.1h.01M449.2 850.4h.01M448.7 854h.01M449 848.5h.01M448.3 849.4h.01M450.2 684.4h.01M449.7 682.6h.01M450.3 877h.01M449.8 898.8h.01M450.3 861.1h.01M450.2 859h.01M451.2 657.5h.01M452.2 673.4h.01M451.1 674.8h.01M451.8 681.1h.01M451.6 684.2h.01M451.5 671.8h.01M451.9 680.4h.01M452.1 674.4h.01M450.9 852.7h.01M452.2 853.4h.01M451.4 851.7h.01M452.2 877h.01M451.1 851.2h.01M452.9 850.1h.01M453.7 852.8h.01M454.6 687.3h.01M454.7 680.3h.01M454.7 642.3h.01M454.3 683.3h.01M454.7 657h.01M454 675.2h.01M455 850.7h.01M454.3 860.5h.01M454.5 859.6h.01M454.7 848.6h.01M455.7 669.3h.01M455.3 672.6h.01M456.5 685.5h.01M455.6 679.3h.01M455.3 679.5h.01M456.7 684.6h.01M455.8 866.1h.01M456 858.2h.01M455.8 848.5h.01M457.6 667.1h.01M457.2 670.1h.01M457.7 688.7h.01M457.1 657.9h.01M457.8 670.2h.01M457.2 687.9h.01M457.1 668.5h.01M457.3 686.3h.01M457.1 671.1h.01M457.9 666.8h.01M457.9 664.6h.01M457.2 870.7h.01M458.1 860.6h.01M457.2 860.3h.01M456.8 850.2h.01M457.5 860.2h.01M457.8 858.1h.01M457.4 854.2h.01M459.1 672h.01M458.4 680.1h.01M458.9 688.4h.01M459.1 672.4h.01M458.7 661.2h.01M458.4 666.3h.01M459.6 653.5h.01M458.5 656.8h.01M459 681.7h.01M459.5 887.4h.01M458.9 850.1h.01M459 849.2h.01M459.3 865.8h.01M458.6 866.4h.01M458.9 903.7h.01M459.2 851h.01M458.3 890.6h.01M458.9 853.8h.01M459.9 650.8h.01M461.1 668.4h.01M461.2 685.9h.01M459.9 677h.01M460 655.3h.01M460.9 660.2h.01M460.3 675.8h.01M460.2 679.8h.01M459.8 862.5h.01M460.6 855h.01M460.9 857.1h.01M459.8 883.3h.01M460 849.1h.01M460.4 877.5h.01M461.7 677.6h.01M461.3 682.8h.01M461.4 689h.01M461.5 681.7h.01M461.6 866.6h.01M462.7 870.2h.01M461.4 862.4h.01M462 863.1h.01M462.1 849.1h.01M461.6 849.7h.01M463 681.5h.01M463.3 653.8h.01M463.9 682.8h.01M463.6 663.9h.01M463 673.7h.01M464 689.3h.01M464 921.9h.01M463.9 870.6h.01M463.5 905.4h.01M464 880.8h.01M463.2 913.3h.01M463.2 878.2h.01M463.6 855.3h.01M463.3 884h.01M463.1 879h.01M464 881.8h.01M464 864h.01M462.9 863.7h.01M463.8 854.7h.01M464.1 910.8h.01M464 853.6h.01M463 906.1h.01M462.9 852.4h.01M463.4 909.9h.01M465.2 644.2h.01M464.6 684.8h.01M465.4 686.7h.01M465.5 657.8h.01M465 674.9h.01M464.8 657.2h.01M465.2 687.6h.01M464.7 865.3h.01M464.7 878.4h.01M465.6 870h.01M464.9 887.4h.01M465.2 904.2h.01M465.3 886.5h.01M465.3 895.7h.01M465.8 681.5h.01M466.9 688.1h.01M466.6 674.9h.01M466 682.5h.01M466.8 673.9h.01M466.3 681h.01M466.1 873.5h.01M466.5 857.6h.01M467 887.9h.01M466.3 853.9h.01M465.9 886.7h.01M466.8 862.3h.01M466.8 874.1h.01M466.4 909h.01M466.7 856.4h.01M467.9 861h.01M467.5 879.7h.01M467.3 862.8h.01M468.7 893.9h.01M468.5 861.6h.01M467.8 853h.01M468.2 903.4h.01M467.6 889.2h.01M468.6 888.6h.01M468.2 853.5h.01M469.6 691h.01M468.9 692.5h.01M468.8 690h.01M469.1 687.5h.01M470.2 865.8h.01M469.4 850.5h.01M469.7 863.3h.01M469.2 899.9h.01M469.7 871h.01M468.8 866.2h.01M470.1 889.3h.01M471.5 688.9h.01M471.3 675.2h.01M471.5 690.4h.01M471.6 691.8h.01M471 667.9h.01M470.4 850.9h.01M470.8 865.2h.01M471.5 851.7h.01M471.5 886.1h.01M470.6 855h.01M472.5 692.3h.01M472 692.5h.01M473.1 685.3h.01M472.4 669.2h.01M471.8 678.5h.01M472.8 867.6h.01M472.8 877.3h.01M472.5 866.4h.01M471.9 857.4h.01M472.1 866.6h.01M473 852.2h.01M472.2 863.2h.01M472 855.8h.01M473.8 692.5h.01M474.4 688.3h.01M474.1 682.5h.01M473.9 691.1h.01M473.8 685.8h.01M473.7 693.1h.01M474.6 688h.01M474.7 873.5h.01M474 863.6h.01M474.4 853.4h.01M474.5 854.7h.01M474.2 869.4h.01M474.7 867.7h.01M473.9 853h.01M473.4 855.2h.01M476.1 692.2h.01M475.5 688.6h.01M476 679.4h.01M476.2 679.5h.01M476.2 689.1h.01M475.7 889.1h.01M475.5 853h.01M475.4 891.8h.01M476.1 852.3h.01M475.5 897.4h.01M475.3 872h.01M475.1 868.7h.01M475.2 887.8h.01M475.9 910.2h.01M475.1 890.4h.01M476 896.9h.01M476 858.8h.01M475.1 875.2h.01M474.9 870.7h.01M476 857.6h.01M475.6 855.1h.01M476 881.5h.01M477.6 663.6h.01M476.8 689h.01M476.4 683.3h.01M476.5 666.4h.01M477.6 689.9h.01M476.5 675.4h.01M476.6 885.9h.01M476.3 879.4h.01M477.5 898h.01M476.9 855.2h.01M476.8 870.8h.01M477.4 890.4h.01M477.7 919.8h.01M476.5 896.5h.01M477.4 904.5h.01M477.7 873.8h.01M477.7 885.5h.01M476.7 881.2h.01M478 639.5h.01M478.1 685.2h.01M478.3 686.6h.01M478.4 691.6h.01M478.4 905.7h.01M477.9 853.8h.01M478.4 888h.01M477.9 891.1h.01M478.8 883.6h.01M478.1 860.3h.01M478.5 865.7h.01M478.5 855.7h.01M477.8 923.9h.01M479.2 860.8h.01M478.1 882h.01M478.9 929.4h.01M480.5 684.2h.01M479.4 694h.01M479.4 686.1h.01M480.5 677.3h.01M480 679.8h.01M480 896.4h.01M480 875.7h.01M480.4 856.6h.01M479.8 857.7h.01M479.7 890.3h.01M479.9 877.8h.01M479.8 882.9h.01M480.2 856.9h.01M481.2 679.6h.01M480.9 642h.01M482.2 693.8h.01M481.8 689.1h.01M482.1 689.8h.01M481.6 676.3h.01M481.3 691.2h.01M481.5 644.5h.01M480.9 681.9h.01M481.7 685h.01M481.8 679.1h.01M481.6 656.8h.01M481.9 655.6h.01M480.8 856.7h.01M480.9 903.8h.01M481.7 867.2h.01M481.6 895.4h.01M482.1 882.6h.01M481 899.9h.01M481.7 869.1h.01M480.9 918.4h.01M482 887.4h.01M481.5 888.2h.01M480.8 900.6h.01M480.8 891.6h.01M483.7 675.8h.01M482.4 680.1h.01M483.7 687.9h.01M482.4 910.5h.01M483.5 854.8h.01M483.1 878.7h.01M483.4 857.3h.01M483.4 854.4h.01M483.1 877.7h.01M483.5 927.1h.01M483.5 908.5h.01M483.5 903.6h.01M483.6 864.7h.01M482.5 910h.01M483 912.2h.01M485 681.1h.01M485.2 681.2h.01M484.8 672.2h.01M483.8 643.6h.01M484.4 684.2h.01M485.2 681.6h.01M484.5 691.4h.01M485.2 880.2h.01M484.5 883.6h.01M484.8 885.8h.01M484.2 888.7h.01M483.9 860.5h.01M483.8 887.4h.01M483.8 879.2h.01M485.2 900.3h.01M483.9 892.9h.01M484 857.2h.01M486.6 683.9h.01M486.5 678.6h.01M485.5 683.3h.01M485.5 693.1h.01M486.2 661.6h.01M485.8 683.7h.01M486.7 682.7h.01M485.7 691.4h.01M485.3 879.8h.01M486.2 870.4h.01M486.2 892.8h.01M486.6 860.2h.01M485.3 869.9h.01M485.6 873.7h.01M486.7 869.5h.01M487.1 650.8h.01M487.8 659.4h.01M488.2 658.6h.01M488.2 661.1h.01M488.2 671.5h.01M487.3 687.5h.01M487.3 670h.01M486.8 690.2h.01M487.6 871.7h.01M487.5 868.9h.01M486.8 868.4h.01M487.9 865.4h.01M486.8 859.3h.01M487.1 870.1h.01M487.2 855.1h.01M488.3 684.5h.01M488.9 693.5h.01M489.5 655.3h.01M489.6 684.1h.01M488.6 674h.01M488.4 670.9h.01M488.8 690.6h.01M489.5 867.8h.01M488.8 865.5h.01M489.7 858.9h.01M488.3 855.6h.01M489.5 868.5h.01M488.8 868.3h.01M489.1 867.7h.01M488.3 875h.01M491.1 695.4h.01M491.1 686.3h.01M490.4 690.5h.01M490 652.1h.01M490 644.3h.01M491.2 862.2h.01M490.4 866.8h.01M490.7 897.1h.01M491.1 890.4h.01M490.6 853.6h.01M489.9 896.8h.01M490.4 853.6h.01M490.5 858.5h.01M491.2 870.9h.01M492.4 692.6h.01M492.7 686.9h.01M492.4 666.3h.01M492.5 687.9h.01M491.4 694.4h.01M491.3 898.2h.01M492.4 911.6h.01M492.5 932h.01M491.4 863.4h.01M492.2 903.9h.01M491.6 913.1h.01M491.7 911.8h.01M492.1 921.7h.01M492.7 893.4h.01M491.3 854h.01M492.3 859h.01M492.6 855.3h.01M494.1 691.6h.01M494.1 671.1h.01M494 680.9h.01M494.2 917.8h.01M493.2 873.7h.01M493.5 899.9h.01M493.4 951.6h.01M493.3 908.8h.01M493.5 935.5h.01M493 888.3h.01M493.5 894.3h.01M493.4 871h.01M494.2 898h.01M493.3 883.3h.01M494.1 919.5h.01M493.8 855.2h.01M494.7 693h.01M495.6 688.8h.01M494.3 671.6h.01M495 676.2h.01M495.1 682.5h.01M495.7 692.6h.01M495.2 888.8h.01M495.3 951.2h.01M494.6 865h.01M494.7 853.5h.01M495.6 858h.01M495.4 878.3h.01M494.8 879.6h.01M495.3 857.9h.01M494.4 890.3h.01M494.7 876.1h.01M494.9 887.8h.01M495.1 962.2h.01M495.3 881.1h.01M494.4 876.8h.01M494.9 860.3h.01M494.6 872.7h.01M495.7 919.6h.01M494.3 889.7h.01M494.7 873h.01M497.2 883.9h.01M497.1 866.9h.01M495.8 929.6h.01M496.2 875.3h.01M496.5 872.9h.01M497 900.4h.01M496 871.1h.01M496.6 875.1h.01M496.1 902.4h.01M497.5 876.3h.01M498.4 872.7h.01M497.5 939.4h.01M498.4 906.4h.01M497.9 867.1h.01M498.6 858.9h.01M497.8 854h.01M498.5 899.3h.01M497.8 878.4h.01M497.4 898.2h.01M498.2 907h.01M499.1 686.9h.01M500 691.6h.01M499.3 692.4h.01M500 912.5h.01M499.2 892h.01M499.7 867.6h.01M500.1 890.1h.01M500 883.9h.01M500.2 853.3h.01M499.9 877.1h.01M499.2 911.6h.01M499.2 873.7h.01M499.1 929.7h.01M501.2 687.1h.01M500.6 691.4h.01M500.6 858.3h.01M501.2 899.7h.01M500.8 856.3h.01M501.5 866.2h.01M500.3 923.9h.01M501.7 880.2h.01M501.3 859.5h.01M500.7 875h.01M500.9 868.4h.01M501.6 909.1h.01M501.7 863.8h.01M500.7 886.2h.01M501.2 876.5h.01M501 861.2h.01M501.3 900h.01M501.4 909.3h.01M503.2 674.4h.01M502.1 690.5h.01M502.4 678.3h.01M502.1 688h.01M502 858.7h.01M503 896.5h.01M502.3 856.6h.01M502.8 890.9h.01M502 906.3h.01M502.4 860h.01M502.6 866.3h.01M502.9 869.3h.01M503.2 868.7h.01M502.3 860.4h.01M502.2 864.6h.01M502.1 878.5h.01M502.8 856.4h.01M502.8 874.7h.01M502.2 855.5h.01M502.1 856.5h.01M504.2 662.6h.01M504 670.3h.01M503.3 681.9h.01M503.9 689.8h.01M503.7 662.6h.01M503.9 662.5h.01M504.2 858.5h.01M503.4 916.8h.01M504.4 887.2h.01M504.2 865.1h.01M504.5 897.8h.01M504.7 867.9h.01M505.5 668.9h.01M506.2 688.6h.01M504.9 665.2h.01M505.8 688h.01M504.8 671.3h.01M505.9 668.6h.01M505.8 675.1h.01M506 881.1h.01M505.6 860.4h.01M506.1 858h.01M505.5 887.1h.01M505.3 928.3h.01M505.6 876h.01M506 876.6h.01M505.6 859.1h.01M506 866.1h.01M506.9 687.6h.01M506.7 679.1h.01M507.2 685.3h.01M507 688.5h.01M507.5 867.4h.01M507.5 872.6h.01M506.3 868.4h.01M507.6 863.5h.01M507.4 931h.01M507.5 865.3h.01M506.7 887.3h.01M506.9 900h.01M507.4 861.5h.01M507.5 882h.01M506.7 874.5h.01M507.3 909.6h.01M506.8 870.6h.01M508.8 683.5h.01M508.6 668.1h.01M507.9 676h.01M508.8 658.5h.01M508.6 673.1h.01M507.8 685h.01M509.1 662h.01M508.1 649.6h.01M508.5 862.1h.01M507.8 855.4h.01M508.9 872.1h.01M508.3 861.2h.01M508.5 856.5h.01M508.7 886.5h.01M509.1 865.7h.01M508 877.2h.01M508 863.6h.01M508.7 922.1h.01M509.1 886.1h.01M508.1 883.8h.01M509.3 673.2h.01M509.7 665.3h.01M510.3 659.5h.01M510.6 665.5h.01M510.7 676.9h.01M510.5 671.9h.01M510.2 664.7h.01M510.7 855.2h.01M510.7 854.9h.01M509.4 916.8h.01M510.3 905.5h.01M510.2 861.5h.01M509.7 860.7h.01M509.8 874.6h.01M510.7 883.7h.01M509.4 873h.01M510.6 868h.01M511.3 656.9h.01M512 682.1h.01M511.3 643.2h.01M511.2 684.1h.01M511.4 624.9h.01M510.8 654.6h.01M511 674.8h.01M511 658.5h.01M512 892.8h.01M511.6 853.9h.01M511.6 862.4h.01M510.9 852.1h.01M512.2 865.7h.01M511.8 880.8h.01M511.4 912.9h.01M512.9 677.3h.01M512.4 682.9h.01M512.8 672.3h.01M512.7 872.9h.01M513.2 899.9h.01M512.7 891.4h.01M513.6 873.9h.01M513.1 866.1h.01M512.5 891.2h.01M512.9 904.4h.01M512.5 868.1h.01M512.4 913.7h.01M512.4 859h.01M512.5 905.1h.01M512.5 856h.01M514.5 678.4h.01M514.5 681.9h.01M514.2 671.4h.01M515.2 906.2h.01M514.5 884.5h.01M513.8 914.2h.01M514.7 899.1h.01M515.2 873.8h.01M515.2 871.1h.01M515.2 867.5h.01M514.4 872.7h.01M515.1 904.4h.01M514.3 871.4h.01M515.1 915.1h.01M514.5 874.3h.01M515.5 681.1h.01M516.1 658.7h.01M516.2 677.9h.01M515.8 679.5h.01M515.3 874.3h.01M516.7 872.4h.01M515.4 918.2h.01M517.4 655.6h.01M517.8 685.1h.01M516.8 679.6h.01M517 622.1h.01M517.4 649h.01M517.2 663.8h.01M517.7 869.1h.01M518.1 865.3h.01M518.1 880.1h.01M517.3 867.5h.01M518.4 675.5h.01M518.7 641.1h.01M518.8 685.1h.01M519.1 640.4h.01M518.6 632.8h.01M519.7 677.6h.01M519.6 678.1h.01M518.5 658.2h.01M519.1 866.5h.01M520.5 682.9h.01M520.7 634.6h.01M520.5 650.6h.01M519.9 673.5h.01M519.9 875.1h.01M520.6 886h.01M520.3 855.6h.01M521.8 660.7h.01M522 678h.01M522.4 685.8h.01M522.6 669.1h.01M522.7 682.9h.01M522 656.5h.01M521.9 675.1h.01M521.3 641.1h.01M522.7 649.6h.01M521.7 675h.01M521.6 669.6h.01M521.9 851h.01M522.5 874.2h.01M522.7 865.7h.01M521.5 879.8h.01M522.4 867.2h.01M522.2 908.1h.01M523.5 679.1h.01M522.9 662.4h.01M523.7 673.9h.01M522.9 676.6h.01M523.5 680.4h.01M523.6 901.4h.01M524.1 888.1h.01M522.9 856.5h.01M523.3 872.9h.01M522.8 883.5h.01M523.7 893.8h.01M522.9 911.3h.01M523.3 883.5h.01M524.6 684.7h.01M524.8 682.2h.01M525.3 667.6h.01M524.5 658.2h.01M524.4 658.4h.01M525.3 901.1h.01M525.2 878.5h.01M525.1 854.9h.01M525.2 872.1h.01M524.7 912.1h.01M524.4 867.1h.01M526.5 684.2h.01M527.1 686h.01M527.1 863.6h.01M526.8 892.7h.01M527.2 883.8h.01M526.1 882.2h.01M526.2 873.5h.01M526.8 866.6h.01M525.8 871.3h.01M526.8 896.8h.01M526.6 909.3h.01M526.5 868.2h.01M525.9 861.5h.01M526.9 898h.01M525.8 912h.01M526.8 881.6h.01M527 915.6h.01M526.1 883.2h.01M527 875.3h.01M526.1 888.2h.01M528.5 678.4h.01M527.7 670.7h.01M527.9 686.1h.01M528.6 677.8h.01M528.1 901h.01M527.3 884.7h.01M527.3 855.9h.01M527.6 857.3h.01M527.3 887.8h.01M527.8 859.2h.01M528.1 870.8h.01M528 852.5h.01M529.5 684.1h.01M529.2 887.6h.01M528.8 907.6h.01M529 859h.01M530.2 870.3h.01M529.6 859h.01M530.1 854.1h.01M528.9 901.7h.01M529 901.4h.01M530.1 907.1h.01M528.8 905.8h.01M530.5 655.1h.01M531.4 664.6h.01M531.7 863.5h.01M530.7 852.6h.01M530.4 898.2h.01M531.4 889.5h.01M531.6 860.1h.01M531.1 909.3h.01M530.7 882.2h.01M530.8 881.8h.01M530.3 861.4h.01M532.2 675.4h.01M532.8 676.3h.01M532 685h.01M532.1 684.5h.01M533.1 861.7h.01M533.9 863h.01M533.6 858.8h.01M534.2 858.7h.01M533.6 887.2h.01M535.6 685.5h.01M534.9 884.1h.01M535 890.7h.01M536 858.5h.01M535.7 874h.01M535.9 880h.01M535.5 851.1h.01M535.1 922.3h.01M535 875.7h.01M536.1 858.4h.01M537.6 682.3h.01M537.3 686h.01M537.4 680.8h.01M537.1 871h.01M537.7 862.3h.01M536.3 885.5h.01M537.2 850.6h.01M537.3 847.6h.01M537.3 856h.01M537.4 884.4h.01M538.8 680.5h.01M538.1 666.3h.01M538.8 853h.01M539.2 848.6h.01M539.7 683.8h.01M539.7 679.9h.01M540.4 685.5h.01M540.4 682.5h.01M539.3 676.2h.01M540 683.7h.01M539.6 859.6h.01M540.3 868.6h.01M540.7 850.5h.01M540.5 857.8h.01M539.7 902.6h.01M542 676.4h.01M541.8 679h.01M540.9 856.5h.01M541.6 850h.01M543.2 686.7h.01M543 685.3h.01M542.9 682.7h.01M542.9 847.7h.01M543.3 850h.01M544.1 679.9h.01M544.5 689.9h.01M545.1 690.1h.01M544 672.9h.01M544.3 683.2h.01M544.6 850.6h.01M544.5 855.9h.01M544.6 848.9h.01M544.5 854.5h.01M546.4 691.4h.01M546.4 677.7h.01M546.3 678.5h.01M545.4 681.8h.01M545.8 665h.01M546.6 667.7h.01M545.3 680.6h.01M545.5 689h.01M546 857.3h.01M545.4 891.3h.01M546.5 902.4h.01M546 930.2h.01M546.7 854.6h.01M546.2 846.9h.01M546.2 869.1h.01M546.5 904.7h.01M545.4 909.4h.01M546.1 858.6h.01M546.5 858.7h.01M545.3 890.5h.01M546.9 686.5h.01M547.9 863.5h.01M547.3 849.1h.01M548.1 871.4h.01M547.1 878.3h.01M547.7 890.4h.01M547.6 846.5h.01M548 886.5h.01M548.1 862.1h.01M547.2 845h.01M547.5 903.5h.01M547.3 861.2h.01M547.2 851h.01M548.2 868.5h.01M548.6 674.2h.01M549.2 690.1h.01M549.1 692.1h.01M549.7 684.7h.01M549.1 689.3h.01M548.8 679.7h.01M549.7 866.2h.01M548.3 865.4h.01M549.4 851.6h.01M548.4 845.8h.01M548.4 867.5h.01M548.8 901.6h.01M549.5 847.9h.01M548.7 861.2h.01M548.3 893h.01M549 851.3h.01M550.2 686.5h.01M550.4 693.5h.01M550.3 896.9h.01M550.7 852.5h.01M550.8 893.5h.01M551.2 917.6h.01M550.7 881.1h.01M551.1 847.3h.01M549.8 854.8h.01M550.9 874.5h.01M549.9 859.9h.01M550.1 903.2h.01M551.2 898.8h.01M552.2 687.1h.01M552.7 691.2h.01M551.9 693.5h.01M552.4 693.8h.01M551.4 853.7h.01M551.4 938.8h.01M552 894h.01M552.1 867.8h.01M551.7 846.8h.01M552.4 857.7h.01M552 896.4h.01M551.8 915.8h.01M551.6 863.4h.01M552.3 872.3h.01M551.8 920.6h.01M552.5 870.7h.01M552.7 852.6h.01M553.2 687.9h.01M553.8 683.1h.01M553.5 687.2h.01M553.8 909.4h.01M553.6 906.2h.01M553.3 907.7h.01M553.6 882.8h.01M553 860h.01M552.8 857.6h.01M554.2 856.2h.01M553.8 908h.01M553.9 866.2h.01M553.3 862.6h.01M552.8 857.6h.01M555.6 692.7h.01M555.4 883.6h.01M555.4 860.1h.01M554.9 884h.01M555.6 845.2h.01M554.8 863.1h.01M554.7 860.2h.01M555.1 853.2h.01M555.1 844.7h.01M556.9 676.5h.01M556.8 679.9h.01M556.3 670.9h.01M556.8 691.8h.01M557 903.5h.01M556.3 870.2h.01M556.8 894.7h.01M556.7 886.4h.01M556.1 914.4h.01M556.9 847.4h.01M556 881.1h.01M556.8 854.9h.01M556.3 869.1h.01M556.9 868.6h.01M556.9 863.5h.01M558.2 692h.01M558.7 693.3h.01M558.1 688h.01M557.9 856.8h.01M558.4 878.1h.01M558.1 847.7h.01M557.8 843.7h.01M558.2 845.4h.01M558.1 847.4h.01M557.8 843h.01M559.7 690.1h.01M559.7 675.6h.01M559.5 692.2h.01M558.8 909.9h.01M559.4 880.9h.01M559.2 857.6h.01M559.3 868.5h.01M559.9 885.9h.01M559.4 870h.01M559.3 843.5h.01M559.6 863.9h.01M559.5 843.4h.01M560.7 688.2h.01M561 671h.01M560.8 688.4h.01M561.2 669.4h.01M561.5 684h.01M561.6 664h.01M561.3 687.8h.01M561.3 674.6h.01M560.3 853.8h.01M561 857.6h.01M561.7 862.7h.01M560.5 851h.01M560.6 854.1h.01M562.1 686.4h.01M562 687.3h.01M563.1 672.6h.01M563.2 662.8h.01M562.6 668.6h.01M563.2 659h.01M562.6 877.7h.01M563 888.5h.01M562.3 850.3h.01M561.9 847.3h.01M561.8 842h.01M563.8 673.8h.01M563.6 675.1h.01M564.3 684.1h.01M564.2 674.4h.01M564.5 654h.01M564.4 674.2h.01M564.5 680.2h.01M564.2 860.7h.01M563.7 859.6h.01M564.1 856.4h.01M564 848.4h.01M564.1 851.2h.01M563.4 841.7h.01M564 842.2h.01M563.7 890.7h.01M563.3 900.1h.01M564.4 850.1h.01M563.4 855h.01M564.7 877.8h.01M566 673.5h.01M565.2 669.8h.01M565.5 679.2h.01M565.2 875.9h.01M566.1 864.3h.01M564.9 875.8h.01M565.9 880.8h.01M567 679.3h.01M566.5 643.5h.01M567.4 647.9h.01M567.4 674.2h.01M567.4 669.7h.01M567.6 872.3h.01M566.3 867.5h.01M566.6 884.9h.01M567.6 873.9h.01M566.4 853.5h.01M567.1 865.8h.01M567.7 862.2h.01M566.6 847.9h.01M567.6 844.7h.01M568.4 654.4h.01M568.2 655h.01M567.9 622.8h.01M567.9 651.5h.01M568.8 666.7h.01M568.2 645.5h.01M569.2 659.4h.01M569.1 632h.01M568.1 871.8h.01M568.5 900.2h.01M569 875.4h.01M568 867.4h.01M569.2 888.1h.01M568 841.7h.01M567.9 863.4h.01M567.8 868.9h.01M569.1 874.9h.01M569.4 663.4h.01M570.6 653.2h.01M570.6 665.6h.01M569.8 663.3h.01M569.5 643.9h.01M570.7 853.4h.01M570.7 853.7h.01M569.7 849.6h.01M569.3 859.7h.01M571.9 642.4h.01M571.8 653.6h.01M572 672.5h.01M571.2 665.2h.01M572.2 668.6h.01M572.2 636.7h.01M571.3 847.7h.01M572 838.9h.01M570.9 849.4h.01M573.2 665.1h.01M572.4 840.1h.01M572.3 867.7h.01M572.8 841.1h.01M573.6 845.9h.01M574.5 630.4h.01M573.9 632.9h.01M574.4 634.9h.01M574.7 665.6h.01M573.8 644.8h.01M574.9 664.7h.01M574.4 840h.01M574.3 845.6h.01M575.1 838.2h.01M574.6 843.1h.01M576.4 640.8h.01M576.5 621.2h.01M575.4 668.8h.01M575.8 648.5h.01M576.3 664.8h.01M575.7 636h.01M576.4 664.6h.01M575.3 658.9h.01M576.1 658.3h.01M575.6 667h.01M575.8 848.9h.01M575.8 842.2h.01M576.4 839h.01M576.4 877.5h.01M575.4 843.8h.01M577.8 662.6h.01M577.9 644.9h.01M578 622.6h.01M577.6 654.5h.01M578 643.9h.01M577 632.9h.01M577 658.2h.01M577.7 665.4h.01M577.3 659.5h.01M577 621h.01M577.7 872.2h.01M578 840.5h.01M577.6 860.4h.01M577.6 858.9h.01M577.1 848.6h.01M577.6 870.6h.01M578.1 863.7h.01M577.1 867.1h.01M578.1 853.2h.01M577.1 857.5h.01M577.7 837.3h.01M578.1 850.4h.01M579.6 649.7h.01M579.6 637.3h.01M579.4 662.9h.01M579.4 624.7h.01M578.6 656.7h.01M579.5 639.2h.01M579.5 642.1h.01M578.7 656.7h.01M578.6 658.5h.01M578.7 654.5h.01M579.5 647.6h.01M579.3 625.7h.01M579 647.7h.01M578.4 630.3h.01M579.6 640.5h.01M579.4 896.8h.01M578.4 838.2h.01M578.8 854.5h.01M579.6 879.4h.01M579.3 873.6h.01M579.2 848.8h.01M578.9 839.4h.01M578.6 882.4h.01M578.4 865.9h.01M578.7 857.6h.01M578.8 858.4h.01M578.9 884.4h.01M579.5 908.2h.01M578.9 902.7h.01M579.2 880.8h.01M578.5 876.4h.01M578.8 895.8h.01M579.6 841.7h.01M578.5 839.6h.01M578.4 893.2h.01M578.4 837.7h.01M580.8 666.3h.01M580.5 841.8h.01M580.2 854h.01M581.2 839.8h.01M580 886.7h.01M579.8 882h.01M580.6 888.1h.01M580.4 845.3h.01M580.1 857.4h.01M581.1 837h.01M580.2 857h.01M580.1 878h.01M580.8 915.8h.01M581.2 849.3h.01M580.4 843.5h.01M580.9 871.2h.01M582.5 664.1h.01M582.4 642.9h.01M582.3 636.7h.01M581.4 853.8h.01M582.5 837.6h.01M582.4 879.6h.01M582.2 858.5h.01M582.6 848.9h.01M581.3 891.4h.01M583.5 666.3h.01M583.3 641.8h.01M584.2 665.8h.01M583.2 652.6h.01M583.7 656.7h.01M584 878.9h.01M583.5 873.6h.01M583.4 898.9h.01M583.8 879.5h.01M583.6 861.1h.01M583.4 866.8h.01M582.9 868.3h.01M583.4 853.4h.01M584 846.9h.01M584.5 651.9h.01M584.4 658h.01M585.3 664.5h.01M584.5 642.5h.01M585.5 654.2h.01M584.5 840.8h.01M585 854h.01M585.7 850.4h.01M584.9 848.5h.01M585 914.8h.01M585.4 905.7h.01M586.4 654h.01M586.3 640.7h.01M585.9 663.3h.01M585.9 665.5h.01M587.2 835.2h.01M586.4 832.6h.01M585.9 847.1h.01M586.9 853.1h.01M586.2 844.6h.01M586.7 833.8h.01M585.8 842.8h.01M587.1 850.9h.01M586 855.7h.01M586.3 846.4h.01M586.4 850.9h.01M586.5 836.8h.01M588.6 643.7h.01M587.3 650.9h.01M587.7 644.4h.01M587.4 665.6h.01M587.4 666.8h.01M587.5 648.8h.01M587.3 648.8h.01M588.6 634.5h.01M588.1 666h.01M588 832h.01M589.9 636.8h.01M589 643.9h.01M589.6 660.7h.01M589.7 643h.01M589.9 640.7h.01M589.2 854.1h.01M589 836.6h.01M589.2 838.2h.01M589.9 843.3h.01M589.4 861.9h.01M589.5 855.6h.01M589 848.6h.01M591.4 609.2h.01M591.2 653.8h.01M591 634.6h.01M590.8 660.8h.01M590.8 648.3h.01M591.6 657.4h.01M590.7 642.3h.01M590.5 653.7h.01M590.6 838.5h.01M591.7 836.7h.01M591.6 835h.01M591 852h.01M590.7 857.4h.01M592.8 651.4h.01M592 634.8h.01M593.1 639.6h.01M592 660.2h.01M591.8 651h.01M591.8 834.6h.01M593.1 887.7h.01M592.9 843.4h.01M592.9 841.8h.01M593 844.3h.01M593.1 863.2h.01M592 851.2h.01M592.5 847.9h.01M592.3 884.9h.01M592.3 884.8h.01M592.7 832.3h.01M592.3 841h.01M593.1 842.1h.01M592 873.1h.01M593.6 636.5h.01M593.3 656.8h.01M594.7 655.3h.01M594.4 661.4h.01M594.4 663.5h.01M593.9 662.8h.01M593.6 663.9h.01M593.3 841.5h.01M594.5 873.5h.01M593.5 838.8h.01M593.7 832.2h.01M594 867.9h.01M593.7 855h.01M595.1 662.3h.01M595.7 660.8h.01M595.2 622.7h.01M595.3 655.9h.01M596.2 651.1h.01M595.8 843.5h.01M595.4 836.2h.01M595.6 870.6h.01M595.7 868.2h.01M594.9 860.4h.01M595.7 868.4h.01M596.3 658.3h.01M597.6 636.9h.01M596.8 650.2h.01M597.2 622.7h.01M597.6 636.1h.01M596.4 632.2h.01M596.8 651.3h.01M597.5 659.4h.01M596.5 647.1h.01M596.4 839.8h.01M596.3 836.7h.01M596.4 844.1h.01M597 846.5h.01M597.5 865.2h.01M597.4 838h.01M597 860.2h.01M596.3 851.3h.01M597.2 866.1h.01M597.2 832.9h.01M597.5 869.9h.01M598.7 663.2h.01M598.5 637.6h.01M598.4 653.9h.01M598.6 663.6h.01M598.8 642.6h.01M598 661.7h.01M598 662.1h.01M598 662.5h.01M598.3 663.3h.01M598.5 641.5h.01M598.9 835.8h.01M598.4 830.2h.01M598 828.4h.01M598.1 844.6h.01M598.5 838.6h.01M598.3 863.6h.01M598.6 869.2h.01M598.1 876.3h.01M599.2 838.1h.01M598.3 839.8h.01M600.3 646.4h.01M599.8 634.4h.01M599.5 656.8h.01M600.7 639.3h.01M600.5 653.6h.01M599.6 660h.01M599.4 655h.01M600 617.3h.01M599.6 654.1h.01M600 653.9h.01M600.4 633.7h.01M600.4 841h.01M599.6 838.3h.01M599.3 848.3h.01M601.4 643.6h.01M600.8 656.5h.01M601.8 651.8h.01M601.5 648.5h.01M601.1 656.5h.01M601.5 645.6h.01M601.2 848.5h.01M601.4 869.6h.01M601.2 834.9h.01M601.3 828.2h.01M601.6 881.3h.01M600.8 844.4h.01M601.2 854.1h.01M600.9 852.6h.01M601.1 861.4h.01M602.7 657.4h.01M602.9 648.6h.01M603.7 650.3h.01M603.3 635.7h.01M602.5 838.2h.01M603.7 827.9h.01M603.6 850.2h.01M602.9 827.1h.01M602.4 834h.01M602.8 836.9h.01M604.6 660.1h.01M604 662.2h.01M604.1 657h.01M604 643.9h.01M603.8 834.5h.01M605.2 835.2h.01M604.1 841.2h.01M604.6 836.6h.01M604.3 853.2h.01M604.6 863.5h.01M604 870.1h.01M604.1 842.4h.01M604.1 872.5h.01M606.7 649.2h.01M605.3 635.2h.01M605.9 646.3h.01M606.7 647.3h.01M605.8 831h.01M605.5 856.7h.01M606.3 849.7h.01M606.3 824.9h.01M608.1 659.1h.01M607 655.8h.01M607.3 641.7h.01M607.3 655.6h.01M607 636.6h.01M607 646.9h.01M607.4 850.5h.01M607.7 832.9h.01M609.7 645.1h.01M609.3 649.4h.01M608.5 658.3h.01M608.6 652h.01M608.3 660.7h.01M609 856.7h.01M608.8 845.3h.01M608.6 839.3h.01M609.2 825.9h.01M608.9 848.6h.01M610.8 656.1h.01M610.7 633h.01M610.8 661.1h.01M610.5 656.7h.01M610.6 638.2h.01M611.1 638.9h.01M610.4 857.7h.01M610 825.1h.01M609.8 830.4h.01M610.5 833.8h.01M611.2 860.8h.01M610.4 851.4h.01M610 835.4h.01M610.1 826.5h.01M610 843.7h.01M609.8 851h.01M610.7 831.4h.01M610.8 880.8h.01M611.2 853.4h.01M610.3 866.5h.01M609.9 825.5h.01M612.7 658.3h.01M611.6 651.1h.01M612.3 660.3h.01M612.7 631.3h.01M612.5 824.8h.01M612 829.8h.01M612.3 835.3h.01M612.1 825.9h.01M611.6 845.9h.01M611.4 876.6h.01M612 871.6h.01M612.5 850h.01M613 646.3h.01M613.2 657.5h.01M614.1 659.5h.01M613.4 655.1h.01M613.6 637.6h.01M614.2 650.1h.01M613.4 650.8h.01M614.1 861.7h.01M613.7 861.5h.01M613.1 831.1h.01M612.8 844.1h.01M613.1 832.6h.01M614.1 845.5h.01M615.1 826.1h.01M615.2 841.3h.01M614.3 889.4h.01M615.7 847.3h.01M615.7 840.9h.01M615.3 854.4h.01M614.8 851h.01M614.7 832.3h.01M617.1 895.9h.01M617 846.2h.01M616.3 828h.01M616.7 834.9h.01M616.1 845.6h.01M616.3 867.2h.01M616.2 824.5h.01M616.5 864.8h.01M618.5 648.9h.01M618.4 874.8h.01M618.6 840.1h.01M618.2 832.8h.01M618.2 846.3h.01M617.5 857.9h.01M617.6 827.5h.01M617.4 836.5h.01M618.5 820.5h.01M618.7 851.8h.01M618.6 869h.01M618.2 846h.01M619.8 637.8h.01M619.6 657.8h.01M620 655.8h.01M619.7 843.8h.01M619.1 819.8h.01M619 844.9h.01M620 827.3h.01M618.8 846h.01M620.2 837.5h.01M620.1 827.2h.01M619.1 831h.01M619.1 828.7h.01M619.5 835.3h.01M620.7 631.6h.01M620.7 655.1h.01M620.4 658.8h.01M621.4 654.4h.01M621.4 627.6h.01M620.6 642.8h.01M620.9 649h.01M621.4 627.9h.01M620.8 826.8h.01M620.7 842.6h.01M620.5 834h.01M620.7 838.4h.01M620.7 844.9h.01M620.8 826.9h.01M620.7 861.9h.01M621.8 633.6h.01M622.4 644.7h.01M622.8 646.7h.01M623.1 653.4h.01M622.4 640.5h.01M622.6 632.8h.01M622.3 840.1h.01M622.3 830.2h.01M623.4 647.2h.01M623.7 656.9h.01M624.4 649.3h.01M623.4 654.7h.01M623.5 654.7h.01M623.4 656.2h.01M623.9 819.6h.01M623.6 818.8h.01M623.7 831.1h.01M624.6 824.5h.01M624.3 822.2h.01M624.6 828.3h.01M625.5 659h.01M626.1 654.7h.01M624.8 651h.01M625.5 818.9h.01M625 871.1h.01M625.6 827.9h.01M626.2 856.8h.01M625.1 835.9h.01M625.9 834.1h.01M626 821.9h.01M626.2 862.5h.01M626 831.2h.01M627 653.1h.01M626.9 658.7h.01M627.2 651.9h.01M626.3 826.3h.01M627.5 830.4h.01M628.5 631.6h.01M628.4 656.5h.01M628.1 831.5h.01M628.6 831.1h.01M630.2 658.9h.01M629.4 642.4h.01M630.3 655.1h.01M630.5 845.4h.01M630.3 818.4h.01M629.4 822.9h.01M629.7 823.2h.01M630.6 835.7h.01M630.1 838.6h.01M629.4 837.7h.01M630.8 652.4h.01M631.7 636.7h.01M631.6 654.8h.01M632.2 649.4h.01M631.6 648.9h.01M632.2 822h.01M631.3 848.6h.01M631.1 858.8h.01M631.7 834.7h.01M631.9 821.7h.01M631 836.6h.01M631.3 854.3h.01M631.4 872.1h.01M632 824.4h.01M631.1 820.4h.01M632.5 652.8h.01M633.3 647.7h.01M632.5 658h.01M633.6 840.6h.01M632.5 875.7h.01M633.6 865.6h.01M632.7 831h.01M635.1 654.6h.01M634 645.2h.01M634.4 656.4h.01M635.1 647.6h.01M634.2 652.7h.01M635.1 884.3h.01M634.2 838.8h.01M633.8 828.5h.01M634.1 861.2h.01M634.2 882.9h.01M635.1 838.4h.01M635.3 648.9h.01M636 629.1h.01M636.5 609.1h.01M635.4 653.9h.01M635.7 627.2h.01M635.7 650.6h.01M635.4 614.6h.01M636.1 640h.01M636.5 649.5h.01M636.2 632.4h.01M635.4 656.9h.01M635.6 644.5h.01M636.4 874.1h.01M635.6 885.3h.01M635.4 880.7h.01M635.5 847.5h.01M635.8 827.4h.01M636.6 873.7h.01M636 838.3h.01M636.6 834.1h.01M636.5 831.4h.01M637.6 656h.01M636.9 655h.01M638 612.8h.01M637.8 631.7h.01M637.1 627.5h.01M638 614.5h.01M638 645.3h.01M638 641.2h.01M637.3 630.8h.01M637.9 657.4h.01M637.7 613.3h.01M637.2 645.7h.01M637.1 651.3h.01M637.2 648.4h.01M636.8 622.3h.01M636.9 848.3h.01M637.6 856.2h.01M637.6 890.4h.01M638.1 823h.01M636.8 828.4h.01M637.1 851.6h.01M637.1 854.2h.01M638.1 822.5h.01M637.5 829.2h.01M638.2 839.8h.01M637.5 875.9h.01M637.1 826.8h.01M636.8 845h.01M637.7 834.6h.01M638.5 621.4h.01M638.5 627.8h.01M638.5 637.1h.01M638.5 635.2h.01M638.8 654.6h.01M638.3 649.2h.01M638.6 623.1h.01M639.2 648.9h.01M638.6 846.1h.01M639 817.9h.01M639.5 854.8h.01M638.4 818.1h.01M639.7 818.4h.01M638.5 859.1h.01M639.5 884.7h.01M638.6 878.8h.01M638.6 855.1h.01M640.4 643.7h.01M640.1 650.1h.01M640.3 658.6h.01M640.2 637h.01M640.8 610.4h.01M640.7 645.5h.01M640.7 652.5h.01M641.1 861.9h.01M640.6 825.4h.01M640 857.9h.01M640.9 844.4h.01M640.4 825.6h.01M641.1 829.4h.01M641.2 859.2h.01M639.9 848.5h.01M641 827.3h.01M639.8 831.6h.01M642 640.3h.01M642.7 652.6h.01M642.6 631.1h.01M642.4 657.7h.01M642.5 656.2h.01M641.5 655.5h.01M642.3 819.3h.01M641.6 817.2h.01M641.4 821.5h.01M642.4 835.6h.01M643.3 638.5h.01M644.2 658.3h.01M644.2 629.5h.01M644 644.8h.01M643.2 655h.01M643.7 819.6h.01M645.2 640.3h.01M644.5 648.2h.01M645.5 620h.01M645.7 656.3h.01M645.6 649.2h.01M645 635.6h.01M644.4 625.9h.01M644.9 641h.01M645.6 639.6h.01M644.8 848.7h.01M645.3 820.1h.01M644.4 815.4h.01M645.4 819.8h.01M645.4 827.9h.01M647.1 630.6h.01M645.8 658.7h.01M646.2 650.9h.01M646.1 651.9h.01M646.6 643.1h.01M646.8 836.2h.01M646.5 825.7h.01M647.2 816.5h.01M647.4 651.9h.01M648.3 878.8h.01M647.4 826.3h.01M647.4 828.9h.01M647.9 842.5h.01M647.9 820h.01M647.9 816.3h.01M648 838.9h.01M647.9 816.7h.01M649.9 655.4h.01M649 821h.01M648.9 813.6h.01M649.1 819.5h.01M649.3 824.6h.01M650 865h.01M650.1 819.6h.01M649.6 818.5h.01M650.7 646.5h.01M650.7 640.4h.01M650.9 651.3h.01M651.1 641.2h.01M651.5 649.8h.01M651.1 639.6h.01M650.3 655.7h.01M650.8 844h.01M651.6 815.9h.01M650.7 826.9h.01M650.7 829.4h.01M651.1 822.8h.01M651.5 827.9h.01M651.3 832.7h.01M650.8 839.9h.01M650.7 829.7h.01M652.8 655.6h.01M652 634.3h.01M652.4 658.5h.01M651.9 654.7h.01M653.1 878.5h.01M651.9 829.6h.01M652 825.6h.01M653.2 829.2h.01M652.2 851h.01M652.6 834.2h.01M652.6 840.1h.01M653.4 638.6h.01M654.1 654.8h.01M653.7 651.9h.01M654.7 821.8h.01M654.1 835.1h.01M654.2 843.8h.01M654.1 841.9h.01M653.3 824.8h.01M654.1 813.4h.01M654.3 817.6h.01M653.8 816h.01M654.2 839.2h.01M653.9 823.3h.01M654.6 840.9h.01M656 644.8h.01M654.8 655.4h.01M655.3 653h.01M655.2 847.5h.01M654.9 881.4h.01M654.9 833.8h.01M657.4 645h.01M656.3 625.5h.01M656.5 626.7h.01M656.3 642.3h.01M657.4 840.6h.01M656.8 830.9h.01M657.2 819h.01M657.7 842.6h.01M656.9 830.3h.01M657.5 830.9h.01M656.9 820.8h.01M656.6 833.4h.01M656.5 817.6h.01M657.6 837.9h.01M657.7 817.7h.01M657.4 863.6h.01M659.2 648h.01M659.2 644.1h.01M658.9 652.4h.01M658.6 627.6h.01M658.5 641.2h.01M658.6 834h.01M658.8 812.4h.01M657.8 813.1h.01M658.9 859.6h.01M658.3 817.6h.01M659.8 629.5h.01M659.7 649.7h.01M660.5 652.7h.01M659.4 646.8h.01M660.3 628.5h.01M659.9 652.8h.01M659.7 816.5h.01M660.4 849.7h.01M659.5 854.4h.01M659.5 838.2h.01M660.3 817.3h.01M659.6 837.6h.01M660.4 825.5h.01M659.7 838h.01M660 835.7h.01M659.8 841.1h.01M659.5 817.8h.01M659.6 851.2h.01M660.2 829.2h.01M659.6 864.9h.01M660.9 652h.01M660.9 813.8h.01M662 834.5h.01M661.3 863.8h.01M661.9 870.8h.01M661.2 845.3h.01M661.1 829.5h.01M661.3 876.1h.01M661.7 833.8h.01M661.3 865.4h.01M662 848.1h.01M661.4 830h.01M661.8 832.3h.01M661.3 845.4h.01M663 656.6h.01M663.2 653h.01M662.7 650.6h.01M663.3 827.4h.01M662.5 840.5h.01M663 848.5h.01M663.6 824.7h.01M662.5 812.7h.01M662.4 827.8h.01M663.4 821.9h.01M663.7 857.6h.01M663 844.1h.01M662.3 887.4h.01M662.3 862.7h.01M662.8 870.2h.01M663.7 828.7h.01M662.9 829.2h.01M663.5 859.1h.01M663.6 835.6h.01M662.8 822.8h.01M663.4 859.4h.01M663.2 851h.01M663.1 833.3h.01M665.1 871.2h.01M664.2 831h.01M664.2 818.7h.01M665.2 865h.01M664.9 827.1h.01M665.2 823.9h.01M664.8 819.7h.01M663.8 890.4h.01M664.6 871.8h.01M664.3 841.3h.01M664.2 842.8h.01M664.8 840.7h.01M665 821.5h.01M664.9 879.3h.01M665 837.8h.01M664.1 832.8h.01M664.4 829.3h.01M665.8 832.9h.01M666.6 819.8h.01M666.6 839.1h.01M665.4 814.1h.01M666.6 838.1h.01M667.7 849.9h.01M667.4 827.5h.01M667.5 814.8h.01M667.7 836.9h.01M666.8 815.4h.01M667.5 827.6h.01M667.5 818h.01M667.7 813.5h.01M669.5 652.5h.01M669.2 834.4h.01M668.4 826h.01M668.7 828.5h.01M668.3 820.4h.01M668.8 833.6h.01M669.1 816h.01M668.4 819.7h.01M668.5 843.9h.01M670.3 868.3h.01M671 840.1h.01M670.7 874.5h.01M671 863.6h.01M671.1 851.6h.01M670.6 817h.01M669.8 815.2h.01M671.2 848.8h.01M672.7 627h.01M672.2 837.2h.01M672.2 835h.01M671.3 865.4h.01M672.3 826.2h.01M672.7 810.3h.01M671.7 855.7h.01M672.5 821.1h.01M671.5 813.6h.01M674 648.3h.01M673.4 641.2h.01M673.6 612.3h.01M674.2 651.6h.01M674.2 812.8h.01M673.2 878.9h.01M673 810.8h.01M674.1 821.6h.01M673 835h.01M673.7 826.6h.01M672.9 808.9h.01M673.9 829.9h.01M672.9 844.6h.01M672.9 844.9h.01M673 862.4h.01M674.1 808.7h.01M673.5 847h.01M675.4 623.8h.01M674.6 646.5h.01M675.1 655.9h.01M675.4 631.7h.01M675.1 645.3h.01M675.1 838.2h.01M674.5 839h.01M674.4 829.2h.01M675.1 837.4h.01M675.1 849.7h.01M675.6 831.2h.01M675.4 823.1h.01M675.4 829.5h.01M677.2 651.2h.01M676.3 636.4h.01M676.3 633.9h.01M676.8 645.2h.01M676.1 649.6h.01M677.1 651.9h.01M677.2 610.1h.01M675.8 643.3h.01M677 646.4h.01M676.2 655h.01M676.4 619.6h.01M676.5 833.3h.01M676.5 809.6h.01M676.6 831.7h.01M676.8 818.7h.01M676.2 815.6h.01M677.9 645.8h.01M678.1 653.2h.01M678 626.8h.01M678.1 633.2h.01M678.3 816.3h.01M677.6 813.9h.01M680.2 654.9h.01M678.9 649.2h.01M679 637.4h.01M679.9 655.8h.01M679.8 636.9h.01M679 621.7h.01M680.2 635.8h.01M679.5 635.5h.01M679 820.8h.01M679.1 823.9h.01M679.4 809.9h.01M679.7 812.4h.01M678.8 810h.01M680.7 631.6h.01M681.7 652.3h.01M680.5 642.3h.01M681.6 639.7h.01M680.9 812.2h.01M680.8 831.1h.01M680.3 818.8h.01M680.8 812.5h.01M680.8 810.8h.01M680.7 841.4h.01M680.8 835.2h.01M680.6 843.4h.01M683 652.4h.01M682.2 626.7h.01M683.1 653.8h.01M682.9 640.7h.01M682 635.8h.01M681.9 642.1h.01M683 871.1h.01M682.8 808.6h.01M683.1 856.4h.01M682 851.9h.01M682.5 829.7h.01M682.6 847.5h.01M682.6 817.7h.01M682 822.9h.01M682.7 817.7h.01M684.3 635.1h.01M683.6 656h.01M684.6 626.7h.01M683.4 637.6h.01M683.8 651.9h.01M684.4 644h.01M683.5 651.3h.01M683.3 814.1h.01M683.5 807.6h.01M684 843.1h.01M684.3 836.2h.01M684.6 824.2h.01M683.8 831.7h.01M685 638.8h.01M685.7 647.9h.01M684.9 653.9h.01M685.1 646h.01M685.9 642.6h.01M685.3 827.3h.01M685.1 822.1h.01M684.9 814.9h.01M687.3 648.2h.01M686.6 655.1h.01M687.7 650.1h.01M687 654.4h.01M687.5 644.6h.01M687.4 644.2h.01M687.6 650.9h.01M686.7 807.1h.01M687 816.2h.01M688 639.2h.01M688.1 633.8h.01M688.7 654.1h.01M687.9 646.8h.01M687.9 817.3h.01M688 813.3h.01M690.2 647.1h.01M689.4 646.7h.01M690.2 640.9h.01M690.1 634.3h.01M689.9 644.5h.01M690.3 629.5h.01M690 810.4h.01M691.7 644h.01M690.8 638h.01M691.5 644.8h.01M692 655.6h.01M692.1 655.3h.01M692.2 638.7h.01M691.4 652.6h.01M690.9 655.5h.01M692.1 651.3h.01M690.8 814h.01M691.9 823.7h.01M691.5 811.9h.01M693.1 628.5h.01M692.5 647.7h.01M693.5 649.4h.01M693.1 834.9h.01M692.7 814.3h.01M692.9 824h.01M694.8 651.8h.01M694.4 653.6h.01M695.9 651.2h.01M695.7 821.3h.01M695.8 809.5h.01M696.2 815.9h.01M696.1 833.3h.01M696.4 816.8h.01M696.5 846.3h.01M695.8 826.3h.01M696.6 830h.01M695.9 845.7h.01M695.6 809.2h.01M695.8 825.1h.01M695.7 815.3h.01M695.6 811.2h.01M698.2 655.1h.01M697.1 836.4h.01M697.1 829.8h.01M698.1 806.5h.01M697.9 830.6h.01M697.9 852.3h.01M697.3 813.8h.01M698.3 653.2h.01M699.1 818.7h.01M699.1 819.4h.01M698.7 856.9h.01M698.3 819.2h.01M700.9 647.6h.01M700.5 806.8h.01M701 823.9h.01M700.2 813h.01M699.8 826.8h.01M701.1 811.7h.01M702.1 644.4h.01M702.2 810.1h.01M702.7 837.5h.01M701.5 827.4h.01M702.7 802.4h.01M702.8 644.9h.01M703.4 850.3h.01M704 803.9h.01M704.2 853.2h.01M703.9 803.3h.01M704.9 651.3h.01M705.6 643.4h.01M705.2 835.3h.01M704.3 826.6h.01M705.6 820.5h.01M705.3 804.1h.01M706 641.9h.01M706.8 634.9h.01M706.4 651.2h.01M706.4 834.3h.01M705.8 812.5h.01M706.9 818.3h.01M707.2 813.1h.01M706.1 801.6h.01M706.7 814.4h.01M706.7 811.8h.01M705.8 834.8h.01M706.6 841.4h.01M706.8 823.9h.01M707 822.4h.01M707.7 632.6h.01M707.6 620h.01M708.7 619h.01M707.3 620.5h.01M707.9 632.8h.01M707.9 805h.01M707.6 802.1h.01M707.4 803.9h.01M707.4 826.5h.01M708 832.1h.01M709.8 635.9h.01M708.8 650h.01M709.5 645.4h.01M709.9 649.3h.01M710 637.2h.01M708.9 615.1h.01M709.5 812.5h.01M709.9 801.4h.01M710.6 623.5h.01M711.5 618.5h.01M711.5 654.7h.01M710.4 634.5h.01M710.6 650.7h.01M710.4 639.3h.01M711.6 644.6h.01M711.3 629.6h.01M710.3 652.1h.01M711.2 809.2h.01M710.5 823.9h.01M712.6 643h.01M713.2 643.3h.01M713 639.7h.01M712.6 627.5h.01M712 646.9h.01M712 620.7h.01M712.1 826.7h.01M712.7 822.7h.01M712.8 799.6h.01M714.1 646.1h.01M714.7 653h.01M713.7 628.8h.01M714.1 629.2h.01M713.9 650.5h.01M714.6 649.7h.01M714.6 805h.01M714.7 825h.01M714.3 810.2h.01M716.1 643h.01M715 647.5h.01M714.9 653.2h.01M715 816.2h.01M715 797.3h.01M715.6 805h.01M715.8 812.6h.01M716 829.5h.01M717.1 642.6h.01M717.3 651.9h.01M716.5 653.3h.01M717.2 818.1h.01M717.1 799h.01M718.7 800.2h.01M719.1 799.2h.01M718.3 808.2h.01M717.9 823.9h.01M718.1 806.6h.01M719 804.7h.01M718.5 831.2h.01M720.3 632.8h.01M719.6 647.3h.01M720.3 805.5h.01M719.6 797.8h.01M719.9 809.1h.01M721.8 641.7h.01M721.8 839.2h.01M722.1 811.8h.01M721.9 837h.01M721.7 802.2h.01M721.8 816.2h.01M721.2 855.2h.01M722.2 800h.01M722.3 650h.01M723.6 645.2h.01M722.7 645.5h.01M723.7 649.8h.01M723.6 637h.01M723.6 646.1h.01M723.4 813.1h.01M723.4 807.7h.01M723.7 809.4h.01M723.1 798.4h.01M723.5 798.8h.01M724.8 648.1h.01M724.7 645.2h.01M724.9 634.7h.01M724.7 651.8h.01M724.9 651.7h.01M724.7 795.5h.01M724.1 806.6h.01M725.5 643.1h.01M726.4 645.4h.01M726.4 651h.01M726.6 808.5h.01M726.3 804.5h.01M727.8 619.5h.01M727.9 647.1h.01M727.5 639.7h.01M727.3 650h.01M727.6 817.4h.01M728.1 794h.01M727.9 795.6h.01M728.6 645h.01M729.6 648.5h.01M728.6 816.7h.01M728.8 815.9h.01M728.8 815.8h.01M728.3 831.9h.01M729.1 806.9h.01M728.7 800.9h.01M729.5 796.7h.01M728.8 799.4h.01M728.7 793h.01M728.6 791.4h.01M728.9 799.4h.01M729.6 797.6h.01M729.7 807.7h.01M730.5 628h.01M730.6 622h.01M730.4 644.9h.01M730.9 648.3h.01M730.7 630.6h.01M729.9 640.5h.01M730.3 649.4h.01M730.5 646h.01M730.4 800.3h.01M731.2 804.8h.01M729.9 827.7h.01M731 791.2h.01M730.8 793.3h.01M732.3 650.2h.01M732.6 639.1h.01M731.8 650.6h.01M731.4 805.3h.01M732.1 791.8h.01M731.3 816.7h.01M732.3 787h.01M732.5 817h.01M732.1 793.5h.01M732 818.9h.01M732.6 790.3h.01M734.2 648.8h.01M733.9 644.5h.01M733.5 626.5h.01M732.9 652.3h.01M733.2 624.5h.01M733.7 607.2h.01M734.1 649.8h.01M733 642.7h.01M733.8 785.3h.01M734.1 787.3h.01M733.7 790.2h.01M735.7 641h.01M735.6 645h.01M734.4 651.7h.01M734.5 797.2h.01M734.9 794.1h.01M735.1 789.3h.01M734.9 826.8h.01M735.5 797.2h.01M735.7 786.7h.01M736.2 650.9h.01M736.1 632.2h.01M736.2 782h.01M736.9 800.9h.01M736.8 781.8h.01M737.3 650.4h.01M738 654.6h.01M738.6 781.9h.01M737.7 786h.01M738 797.8h.01M737.5 800.9h.01M737.7 792.3h.01M738.6 793.6h.01M737.7 787.8h.01M737.6 783.7h.01M739.5 651.8h.01M739.9 793.6h.01M739.6 787.3h.01M740.1 777.1h.01M740.9 634.5h.01M741 796.3h.01M740.6 792h.01M740.9 822.4h.01M741.3 785h.01M740.6 786h.01M742.4 637.1h.01M741.9 645.4h.01M742.8 634.9h.01M742.7 791.6h.01M741.8 789.4h.01M742.4 781.2h.01M743.7 646h.01M743.8 791.9h.01M743.5 784.4h.01M745.7 635.8h.01M746.2 817.5h.01M745.3 812.8h.01M745.7 819.5h.01M747.7 641.3h.01M746.3 809.9h.01M747.5 806.5h.01M746.3 810.2h.01M746.9 808.7h.01M749.2 814h.01M748 822.4h.01M748.2 815.3h.01M749.2 818.4h.01M747.9 815.4h.01M749.4 817.6h.01M755.1 833.1h.01M754.5 828.1h.01M755.6 677.2h.01M756.4 670.6h.01M756.6 854.5h.01M756.1 832.6h.01M755.9 840.1h.01M755.9 834.5h.01M756.3 850.7h.01M755.4 840.6h.01M756.8 685.1h.01M757.2 686.4h.01M757.1 836.8h.01M757.8 849.7h.01M758.5 690.5h.01M758.7 687.8h.01M759.3 842.3h.01M758.5 844h.01M761 693.2h.01M760.9 846.3h.01M760.2 850.9h.01M759.8 847.1h.01M760.6 845.8h.01M762.7 695.9h.01M762.7 695.9h.01M761.6 852.9h.01M763.3 863.5h.01M763.9 855.5h.01M764.8 866.2h.01M766.2 862h.01M765.8 861h.01M768.4 876.4h.01M768.2 868.9h.01M767.7 873.4h.01M774 891.5h.01M777.6 909.6h.01M776.8 901.3h.01M776.6 902.7h.01M777 902h.01M776.9 903.3h.01M780.5 768.7h.01M781.3 769.4h.01M780.8 940.3h.01M783.6 791.9h.01M783.6 794.5h.01M783 949.4h.01M784.2 963.8h.01M784.6 958.2h.01M785.1 957.7h.01M785.5 976.1h.01M795.4 995.4h.01M798.6 1005.4h.01M803.1 1020h.01M806.2 985.5h.01M806.6 1024.8h.01M810 993.8h.01M809.8 1027.8h.01M816.1 1002.4h.01M820 1006.1h.01M820.1 1006.1h.01M822.8 1011.1h.01M823.9 1012.3h.01M824.7 1014.6h.01M824.3 1013.8h.01M824.7 1029.3h.01M828.6 1009.9h.01M828.2 1010.6h.01M828.5 1011.2h.01M832.4 1015.4h.01M832.5 1031.2h.01M837.4 1011.2h.01M842.9 1013.7h.01M843.1 1012.3h.01M844.8 1015h.01M843.9 1031.1h.01M844.4 1032.1h.01M845.6 1017.2h.01M847.4 1027.7h.01M625.3 596.5h.01M636.5 610h.01M647.5 608.5h.01M273.8 629h.01M732.9 604.5h.01M708.3 611h.01M770.6 664h.01M770.8 675h.01M770.5 686h.01M707.5 897.5h.01M770.7 690h.01M769.9 697h.01M771 703h.01M770.6 681h.01M761.5 694h.01M751.5 855h.01M751.5 860h.01M764 874h.01M764.3 884h.01M771 897.7h.01M776 906h.01" fill="none" stroke="#1f77b4" stroke-width="5.56" stroke-linecap="round"/><path d="M1449.6 1029.3L1452 1028.2L1463 1027.3" fill="none" stroke="#1f77b4" stroke-width="9.6" stroke-linecap="round" stroke-linejoin="round"/><path d="M1454.6 1023.4h.01M1455.2 1023.9h.01M1449.3 1031h.01M1461 1024.5h.01M1459 1031.5h.01" fill="none" stroke="#1f77b4" stroke-width="5.56" stroke-linecap="round"/><polyline points="117,1013.6 118.6,1012.8 120.2,1008.2 121.8,999.8 123.4,1008.7 125,1012.4 126.6,1011.4 128.2,1011.2 129.8,999.3 131.4,986.3 133,996.6 134.6,1003.4 136.2,1003 137.8,999.2 139.4,997.3 141,997.2 142.6,993.9 144.2,989.3 145.8,982.1 147.4,976.6 149,993 150.6,969 152.2,946.3 153.8,946.3 155.4,970.2 157,967.4 158.6,962.3 160.2,967.7 161.8,968.4 163.4,960.1 165,939.5 166.6,905.6 168.2,922.7 169.8,934.1 171.4,916.6 173,911.5 174.6,914.5 176.2,916.8 177.8,908.3 179.4,904.1 181,905.7 182.6,905.8 184.2,893.2 185.8,866.2 187.4,869.6 189,867.1 190.6,867.9 192.2,874.4 193.8,866.3 195.4,848.5 197,829.7 198.6,826.8 200.2,862.2 201.8,855.3 203.4,841.2 205,817.5 206.6,834.7 208.2,818.6 209.8,842.1 211.4,840.8 213,821.3 214.6,793.5 216.2,784 217.8,791.5 219.4,800.4 221,796 222.6,776.4 224.2,799.8 225.8,812.5 227.4,823.9 229,828.2 230.6,795 232.2,758.8 233.8,744.6 235.4,738.7 237,772.1 238.6,774 240.2,782.1 241.8,770.9 243.4,777.5 245,773.8 246.6,779.3 248.2,783.8 249.8,783.8 251.4,771.8 253,779.6 254.6,783 256.2,770.2 257.8,746.5 259.4,757.7 261,775.5 262.6,790.9 264.2,786.7 265.8,787.8 267.4,780.1 269,792 270.6,788.4 272.2,783.9 273.8,753.1 275.4,774.5 277,804.7 278.6,805.6 280.2,785 281.8,772.9 283.4,766.3 285,753.5 286.6,761.5 288.2,784.8 289.8,783.7 291.4,776.9 293,790.3 294.6,763.4 296.2,768.7 297.8,793.4 299.4,798.4 301,785.8 302.6,785.6 304.2,806.9 305.8,829.8 307.4,848.1 309,834.6 310.6,804.9 312.2,804.3 313.8,804.5 315.4,784.4 317,775.6 318.6,779.8 320.2,815.2 321.8,821.7 323.4,802.5 325,786.5 326.6,791.6 328.2,790.1 329.8,792.1 331.4,800.6 333,809.2 334.6,799.2 336.2,771.6 337.8,775.7 339.4,804.5 341,767.9 342.6,742.7 344.2,782.2 345.8,815.8 347.4,782.3 349,771.1 350.6,793.5 352.2,806.8 353.8,777.1 355.4,756.9 357,772.9 358.6,768.8 360.2,759.3 361.8,743.3 363.4,745.4 365,735.2 366.6,747.6 368.2,757.6 369.8,771.4 371.4,778 373,794.4 374.6,772.9 376.2,728.6 377.8,745.3 379.4,767.2 381,775.6 382.6,779.9 384.2,776.7 385.8,763.5 387.4,765.7 389,740.1 390.6,736.1 392.2,731.7 393.8,762.7 395.4,772.3 397,790.1 398.6,752.4 400.2,734.2 401.8,757.9 403.4,770.9 405,775.4 406.6,766.6 408.2,752.9 409.8,748.7 411.4,745.3 413,748 414.6,767.4 416.2,787.5 417.8,793.3 419.4,814.3 421,798.7 422.6,767.7 424.2,771.4 425.8,784.3 427.4,784.6 429,795.3 430.6,798 432.2,777.3 433.8,764.3 435.4,758.6 437,763.4 438.6,740.9 440.2,757.1 441.8,759.9 443.4,749.2 445,745.7 446.6,742.1 448.2,753.3 449.8,772.8 451.4,754.7 453,754.1 454.6,762.6 456.2,782.6 457.8,781.1 459.4,772.9 461,762.4 462.6,754.4 464.2,757.3 465.8,766.1 467.4,771 469,770.5 470.6,783.2 472.2,799.5 473.8,790.5 475.4,792.5 477,780.8 478.6,784.1 480.2,778 481.8,781.1 483.4,787.7 485,796 486.6,806.9 488.2,802.2 489.8,813.8 491.4,805.8 493,817.6 494.6,834.3 496.2,815 497.8,791.9 499.4,774.7 501,767.4 502.6,759.7 504.2,749.3 505.8,762.9 507.4,783.9 509,783.6 510.6,775.3 512.2,765.3 513.8,756.5 515.4,763.6 517,754.6 518.6,728.6 520.2,729 521.8,782.3 523.4,817.6 525,788.3 526.6,778.4 528.2,774.2 529.8,775.7 531.4,768.2 533,771.2 534.6,778.5 536.2,767.4 537.8,760 539.4,754.7 541,758.4 542.6,755.1 544.2,776 545.8,781.5 547.4,791 549,814 550.6,814.1 552.2,811.9 553.8,807.4 555.4,799 557,772 558.6,778.1 560.2,809.2 561.8,806.9 563.4,772.5 565,741.9 566.6,735.7 568.2,706.7 569.8,702.2 571.4,732.2 573,754.9 574.6,759 576.2,761.6 577.8,736 579.4,722.9 581,738.8 582.6,750.5 584.2,776 585.8,747.2 587.4,734 589,714.2 590.6,729.3 592.2,738.6 593.8,747.5 595.4,750.2 597,739.1 598.6,746.1 600.2,718.3 601.8,724.4 603.4,725.1 605,732.1 606.6,708.7 608.2,701.4 609.8,739 611.4,748.1 613,758.8 614.6,769.3 616.2,772.2 617.8,779.7 619.4,769.8 621,727.6 622.6,721.3 624.2,730.5 625.8,696.9 627.4,677.5 629,694.8 630.6,732 632.2,736.4 633.8,721 635.4,704.2 637,718.8 638.6,729.5 640.2,746.5 641.8,755.5 643.4,761.1 645,745.6 646.6,739.9 648.2,724.7 649.8,739 651.4,750.4 653,751.6 654.6,748.2 656.2,748 657.8,757.8 659.4,740.9 661,723.8 662.6,750.7 664.2,749.4 665.8,720.7 667.4,720.5 669,734.1 670.6,751.6 672.2,745.2 673.8,745.9 675.4,728.2 677,707.5 678.6,712.9 680.2,720.4 681.8,723.7 683.4,710.1 685,693.7 686.6,702.6 688.2,741.5 689.8,730.6 691.4,734.3 693,737.4 694.6,769.9 696.2,754.9 697.8,719.9 699.4,736.5 701,747.1 702.6,739.4 704.2,722.4 705.8,739.8 707.4,743 709,730.1 710.6,730.9 712.2,727.9 713.8,720.7 715.4,719.2 717,732.7 718.6,746.2 720.2,733.5 721.8,732.9 723.4,726.6 725,725.5 726.6,744.7 728.2,736.3 729.8,728.6 731.4,727.3 733,713.9 734.6,711.9 736.2,698.3 737.8,701.9 739.4,713 741,699.6 742.6,696.8 744.2,708.2 745.8,734.2 747.4,728.1 749,718.7 750.6,723.7 752.2,735 753.8,745.6 755.4,737.6 757,758.1 758.6,773.4 760.2,778.8 761.8,772.8 763.4,784.8 765,795.5 766.6,797.8 768.2,778.1 769.8,781.2 771.4,767.7 773,783 774.6,807.6 776.2,814.3 777.8,834.6 779.4,835.5 781,848.9 782.6,889.3 784.2,908 785.8,918.3 787.4,914.1 789,915.8 790.6,941 792.2,930.9 793.8,930.4 795.4,959.3 797,969.7 798.6,967.1 800.2,979.5 801.8,994.6 803.4,1001.2 805,1006 806.6,1009.9 808.2,1009.9 809.8,1011.3 811.4,1016.2 813,1015.7 814.6,1015.3 816.2,1018.3 817.8,1019.6 819.4,1019.8 821,1022.1 822.6,1024.1 824.2,1021 825.8,1020.4 827.4,1023.4 829,1023.6 830.6,1022.6 832.2,1022.9 833.8,1022.3 835.4,1022.1 837,1021.7 838.6,1022.7 840.2,1020.7 841.8,1022.8 843.4,1024.1 845,1023.6 846.6,1024.4 848.2,1023.8 1445,1032 1446.5,1031 1447.5,1027.5 1449,1027.8 1450.5,1026.5 1452,1027 1453.5,1025.8 1455.5,1028 1457.5,1026.8 1460,1026 1462.6,1025.6" fill="none" stroke="#ff7f0e" stroke-width="2.25" stroke-linejoin="round" stroke-linecap="butt"/></g><rect x="116.5" y="575.5" width="1346" height="478.9" fill="none" stroke="#000" stroke-width="1.11"/><path d="M116.5 1054.4v4.86M289.5 1054.4v4.86M462.6 1054.4v4.86M635.6 1054.4v4.86M809.4 1054.4v4.86M982.5 1054.4v4.86M1155.5 1054.4v4.86M1328.5 1054.4v4.86M116.5 615.5h-4.86M116.5 720.5h-4.86M116.5 825.5h-4.86M116.5 930.5h-4.86M116.5 1035.5h-4.86" fill="none" stroke="#000" stroke-width="1.11"/><text x="105.4" y="623.6" text-anchor="end" font-size="22.22">0.08</text><text x="105.4" y="728.6" text-anchor="end" font-size="22.22">0.06</text><text x="105.4" y="833.6" text-anchor="end" font-size="22.22">0.04</text><text x="105.4" y="938.6" text-anchor="end" font-size="22.22">0.02</text><text x="105.4" y="1043.6" text-anchor="end" font-size="22.22">0.00</text><text text-anchor="end" font-size="22.22" transform="translate(113.6,1078.4) rotate(-30)">08-27 00</text><text text-anchor="end" font-size="22.22" transform="translate(286.6,1078.4) rotate(-30)">08-27 03</text><text text-anchor="end" font-size="22.22" transform="translate(459.7,1078.4) rotate(-30)">08-27 06</text><text text-anchor="end" font-size="22.22" transform="translate(632.7,1078.4) rotate(-30)">08-27 09</text><text text-anchor="end" font-size="22.22" transform="translate(806.5,1078.4) rotate(-30)">08-27 12</text><text text-anchor="end" font-size="22.22" transform="translate(979.6,1078.4) rotate(-30)">08-27 15</text><text text-anchor="end" font-size="22.22" transform="translate(1152.6,1078.4) rotate(-30)">08-27 18</text><text text-anchor="end" font-size="22.22" transform="translate(1325.6,1078.4) rotate(-30)">08-27 21</text><rect x="1047.4" y="584.3" width="406.1" height="81.2" rx="3.7" fill="#fff" fill-opacity="0.8" stroke="#ccc" stroke-opacity="0.8" stroke-width="1.39"/><circle cx="1073.5" cy="599.5" r="2.78" fill="#1f77b4"/><path d="M1052.9 638.9H1092" stroke="#ff7f0e" stroke-width="2.08"/><text transform="translate(1106.2,605.9) scale(1,.94)" font-size="18.52">Raw Data</text><text transform="translate(1106.2,633.1) scale(1,.94)" font-size="18.52">Butterworth Filtered Data</text><text transform="translate(1106.2,654) scale(1,.94)" font-size="18.52">(N=6, Tc=3.3333 min, Type: low)</text><text x="116" y="29.6" font-size="26.67">(a)</text><text x="116" y="567" font-size="26.67">(b)</text><text x="784" y="29.6" text-anchor="middle" font-size="26.67">2.5 MHz N0000002</text><text x="789.5" y="1157.4" text-anchor="middle" font-size="22.22">UTC</text><text text-anchor="middle" font-size="22.22" transform="translate(61.5,278.4) rotate(-90)">Doppler Shift [Hz]</text><text text-anchor="middle" font-size="22.22" transform="translate(40.6,815) rotate(-90)">Peak Voltage [V]</text></svg></body></html>
